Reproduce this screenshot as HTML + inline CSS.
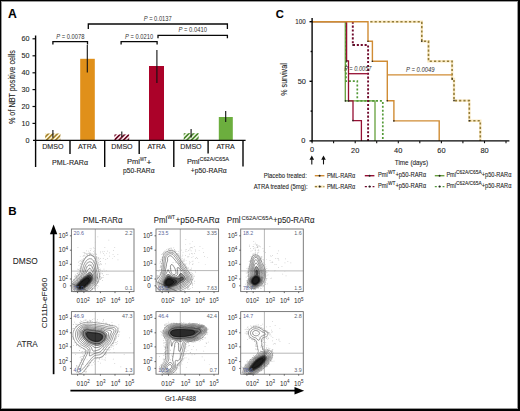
<!DOCTYPE html>
<html><head><meta charset="utf-8">
<style>
html,body{margin:0;padding:0;background:#fff;}
body{width:520px;height:411px;overflow:hidden;position:relative;}
#fig{position:absolute;left:0;top:0;width:520px;height:411px;}
text{font-family:"Liberation Sans",sans-serif;}
#panelA text,#panelC text{stroke:#2a2a2a;stroke-width:0.1px;}
#panelA .pv text,#panelC .pv text{stroke-width:0;fill:#333;}
.bt text{stroke:#2a2a2a;stroke-width:0.06px;}
</style></head><body>
<svg id="fig" width="520" height="411" viewBox="0 0 520 411">
<defs>
<pattern id="hO" patternUnits="userSpaceOnUse" width="3.2" height="3.2" patternTransform="rotate(45)">
<rect width="3.2" height="3.2" fill="#fdf3d2"/><rect width="1.6" height="3.2" fill="#a4822c"/></pattern>
<pattern id="hR" patternUnits="userSpaceOnUse" width="3.2" height="3.2" patternTransform="rotate(45)">
<rect width="3.2" height="3.2" fill="#fbe6ea"/><rect width="1.6" height="3.2" fill="#6c0c26"/></pattern>
<pattern id="hG" patternUnits="userSpaceOnUse" width="3.2" height="3.2" patternTransform="rotate(45)">
<rect width="3.2" height="3.2" fill="#ebf5e0"/><rect width="1.6" height="3.2" fill="#4e8a30"/></pattern>
</defs>
<rect x="0" y="0" width="520" height="411" fill="#fff"/>

<!-- ================= PANEL A ================= -->
<g id="panelA">
<text x="8" y="18" font-size="12.2" font-weight="bold" fill="#000">A</text>
<!-- y label -->
<text transform="translate(14.6,87.1) rotate(-90)" text-anchor="middle" font-size="8.6" fill="#222" textLength="74" lengthAdjust="spacingAndGlyphs">% of NBT positive cells</text>
<!-- tick labels -->
<g font-size="7.2" fill="#222" text-anchor="end">
<text x="29.6" y="41.3">60</text>
<text x="29.6" y="58.3">50</text>
<text x="29.6" y="75.3">40</text>
<text x="29.6" y="92.1">30</text>
<text x="29.6" y="109">20</text>
<text x="29.6" y="125.9">10</text>
<text x="29.6" y="142.8">0</text>
</g>
<g stroke="#111" stroke-width="1.2">
<line x1="32.5" y1="38.8" x2="35.5" y2="38.8"/>
<line x1="32.5" y1="55.8" x2="35.5" y2="55.8"/>
<line x1="32.5" y1="72.8" x2="35.5" y2="72.8"/>
<line x1="32.5" y1="89.6" x2="35.5" y2="89.6"/>
<line x1="32.5" y1="106.5" x2="35.5" y2="106.5"/>
<line x1="32.5" y1="123.4" x2="35.5" y2="123.4"/>
</g>
<!-- bars -->
<rect x="45.2" y="133.5" width="15.2" height="7" fill="url(#hO)"/>
<rect x="80.2" y="58.8" width="14.6" height="81.6" fill="#e0901a"/>
<rect x="114.4" y="134.4" width="14.8" height="6" fill="url(#hR)"/>
<rect x="149" y="66" width="15" height="74.4" fill="#ab0229"/>
<rect x="183.7" y="133.2" width="15" height="7.2" fill="url(#hG)"/>
<rect x="218.8" y="117" width="14" height="23.4" fill="#6cae3e"/>
<!-- error bars -->
<g stroke="#111" stroke-width="1.1">
<line x1="52.9" y1="130.1" x2="52.9" y2="137.7"/>
<line x1="87.3" y1="45" x2="87.3" y2="72.6"/>
<line x1="121.8" y1="131.6" x2="121.8" y2="137"/>
<line x1="156.9" y1="49.9" x2="156.9" y2="83.1"/>
<line x1="191.1" y1="129" x2="191.1" y2="137.5"/>
<line x1="225.7" y1="111.1" x2="225.7" y2="122.1"/>
</g>
<!-- axes -->
<g stroke="#050505" stroke-width="1.4" fill="none">
<line x1="35.6" y1="35.5" x2="35.6" y2="167"/>
<line x1="33" y1="140.4" x2="245.6" y2="140.4"/>
<line x1="70" y1="140.4" x2="70" y2="154"/>
<line x1="104.7" y1="140.4" x2="104.7" y2="167"/>
<line x1="139.2" y1="140.4" x2="139.2" y2="154"/>
<line x1="173.8" y1="140.4" x2="173.8" y2="167"/>
<line x1="208.1" y1="140.4" x2="208.1" y2="153.5"/>
<line x1="243" y1="140.4" x2="243" y2="166.5"/>
</g>
<!-- brackets -->
<g stroke="#080808" stroke-width="1.3" fill="none">
<polyline points="52.9,44.6 52.9,41.6 87.5,41.6 87.5,44.6"/>
<polyline points="88.3,28.9 88.3,24 227.4,24 227.4,28.9"/>
<polyline points="121.1,44.5 121.1,41.6 157.1,41.6 157.1,44.5"/>
<polyline points="158,38.3 158,35.4 227.4,35.4 227.4,38.3"/>
</g>
<g class="pv" font-size="6.4" fill="#222">
<text x="56.2" y="39" textLength="28.3" lengthAdjust="spacingAndGlyphs"><tspan font-style="italic">P</tspan> = 0.0078</text>
<text x="143.7" y="21.1" textLength="28" lengthAdjust="spacingAndGlyphs"><tspan font-style="italic">P</tspan> = 0.0137</text>
<text x="125.1" y="38.8" textLength="28" lengthAdjust="spacingAndGlyphs"><tspan font-style="italic">P</tspan> = 0.0210</text>
<text x="178.4" y="32" textLength="28.6" lengthAdjust="spacingAndGlyphs"><tspan font-style="italic">P</tspan> = 0.0410</text>
</g>
<!-- category labels -->
<g font-size="7.1" fill="#222" text-anchor="middle">
<text x="52.9" y="149.1">DMSO</text>
<text x="87.3" y="149.1">ATRA</text>
<text x="122" y="149.1">DMSO</text>
<text x="156.6" y="149.1">ATRA</text>
<text x="191" y="149.1">DMSO</text>
<text x="225.6" y="149.1">ATRA</text>
<text x="70" y="164.6">PML-RARα</text>
</g>
<g font-size="7.1" fill="#222">
<text x="126.9" y="164.4" textLength="13" lengthAdjust="spacingAndGlyphs">Pml</text>
<text x="139.9" y="161.4" font-size="5.2" textLength="6.6" lengthAdjust="spacingAndGlyphs">WT</text>
<text x="146.4" y="164.8" textLength="5" lengthAdjust="spacingAndGlyphs">+</text>
<text x="123" y="172.9" textLength="31.6" lengthAdjust="spacingAndGlyphs">p50-RARα</text>
<text x="186.9" y="164.4" textLength="12.6" lengthAdjust="spacingAndGlyphs">Pml</text>
<text x="199.4" y="161.2" font-size="5.4" textLength="29.6" lengthAdjust="spacingAndGlyphs">C62A/C65A</text>
<text x="190.8" y="172.6" textLength="36" lengthAdjust="spacingAndGlyphs">+p50-RARα</text>
</g>
</g>

<!-- ================= PANEL C ================= -->
<g id="panelC">
<text x="275.8" y="18.3" font-size="11.2" font-weight="bold" fill="#000">C</text>
<text transform="translate(287.3,79.5) rotate(-90)" text-anchor="middle" font-size="8.6" fill="#222" textLength="32.5" lengthAdjust="spacingAndGlyphs">% survival</text>
<g font-size="7.4" fill="#222" text-anchor="end">
<text x="305.6" y="24.3" textLength="10.3" lengthAdjust="spacingAndGlyphs">100</text>
<text x="305.9" y="83.9">50</text>
<text x="305.4" y="142.6">0</text>
</g>
<g font-size="7.4" fill="#222" text-anchor="middle">
<text x="312.1" y="151.8">0</text>
<text x="355.2" y="152.5">20</text>
<text x="398.2" y="152.5">40</text>
<text x="441.4" y="152.5">60</text>
<text x="484.5" y="152.5">80</text>
</g>
<text x="394.8" y="164.6" font-size="8" fill="#222" textLength="33.2" lengthAdjust="spacingAndGlyphs">Time (days)</text>
<!-- curves -->
<g fill="none" stroke-width="1.3" stroke-linejoin="miter">
<path d="M312.1,21.7 H345.3 V100.9 H375 V140.9" stroke="#66a03c"/>
<path d="M346,21.7 V81.2 H357.3 V100.9 H382.8 V140.9" stroke="#549a38" stroke-dasharray="2 1.9" stroke-width="1.7"/>
<path d="M312.1,21.7 H346.6 V60.8 H348.5 V100.9 H353 V120.6 H361.4 V140.9" stroke="#960f33"/>
<path d="M352.8,21.7 V45 H368.1 V140.9" stroke="#700a2c" stroke-dasharray="2.1 1.8" stroke-width="1.9"/>
<path d="M348.5,73.7 H368.1" stroke="#960f33"/>
<path d="M312.1,21.7 H368 V41.3 H372.4 V61.3 H387.3 V100.8 H393.9 V120.9 H439.2 V140.9" stroke="#d08c34" stroke-width="1.4"/>
<path d="M370.3,21.7 H421.8 V41.2 H428.5 V61.2 H452.1 V79 H454 V100.6 H469.3 V120.8 H480.3 V140.9" stroke="#f2c45c" stroke-opacity="0.38" stroke-width="2.4"/>
<path d="M370.3,21.7 H421.8 V41.2 H428.5 V61.2 H452.1 V79 H454 V100.6 H469.3 V120.8 H480.3 V140.9" stroke="#927c3a" stroke-dasharray="2.2 2.1" stroke-width="1.6"/>
<path d="M387.3,74.9 H452.1" stroke="#d08c34" stroke-width="1.4"/>
</g>
<g fill="#222">
<circle cx="346.7" cy="61" r="0.8"/><circle cx="348.6" cy="100.9" r="0.8"/><circle cx="353" cy="120.6" r="0.8"/>
<circle cx="345.5" cy="100.9" r="0.8"/><circle cx="368" cy="41.3" r="0.8"/><circle cx="372.4" cy="61.3" r="0.8"/>
<circle cx="387.3" cy="100.8" r="0.8"/><circle cx="393.9" cy="120.9" r="0.8"/>
<circle cx="421.8" cy="41.2" r="0.8"/><circle cx="454" cy="100.6" r="0.8"/><circle cx="452.3" cy="79" r="0.8"/><circle cx="469.3" cy="120.8" r="0.8"/>
<circle cx="352.8" cy="45" r="0.8"/>
</g>
<!-- axes -->
<g stroke="#050505" stroke-width="1.4" fill="none">
<line x1="312.1" y1="18" x2="312.1" y2="141.5"/>
<line x1="311.5" y1="140.9" x2="509.4" y2="140.9"/>
<line x1="309.5" y1="21.7" x2="312.1" y2="21.7"/>
<line x1="309.5" y1="81.3" x2="312.1" y2="81.3"/>
<line x1="309.5" y1="140.9" x2="312.1" y2="140.9"/>
<line x1="310.6" y1="51.5" x2="312.1" y2="51.5"/>
<line x1="310.6" y1="111.1" x2="312.1" y2="111.1"/>
</g>
<g stroke="#111" stroke-width="1.1">
<line x1="312.1" y1="140.9" x2="312.1" y2="143.2"/>
<line x1="333.6" y1="140.9" x2="333.6" y2="143.2"/>
<line x1="355.2" y1="140.9" x2="355.2" y2="143.2"/>
<line x1="376.7" y1="140.9" x2="376.7" y2="143.2"/>
<line x1="398.3" y1="140.9" x2="398.3" y2="143.2"/>
<line x1="419.8" y1="140.9" x2="419.8" y2="143.2"/>
<line x1="441.4" y1="140.9" x2="441.4" y2="143.2"/>
<line x1="462.9" y1="140.9" x2="462.9" y2="143.2"/>
<line x1="484.5" y1="140.9" x2="484.5" y2="143.2"/>
<line x1="506" y1="140.9" x2="506" y2="143.2"/>
</g>
<g class="pv" font-size="6.4" fill="#222">
<text x="344.2" y="70.9" font-style="italic" fill="#3a3a3a" textLength="27.3" lengthAdjust="spacingAndGlyphs">P = 0.0057</text>
<text x="406" y="71.8" font-style="italic" fill="#3a3a3a" textLength="28.6" lengthAdjust="spacingAndGlyphs">P = 0.0049</text>
</g>
<!-- arrows -->
<g stroke="#111" stroke-width="1.1" fill="#111">
<line x1="311.8" y1="158" x2="311.8" y2="164.4"/>
<line x1="323.5" y1="158" x2="323.5" y2="164.4"/>
<path d="M311.8,155.6 L309.5,159.8 L314.1,159.8Z" stroke="none"/>
<path d="M323.5,155.6 L321.2,159.8 L325.8,159.8Z" stroke="none"/>
</g>
<!-- legend -->
<g font-size="7.2" fill="#222">
<text x="263.8" y="177.9" textLength="43" lengthAdjust="spacingAndGlyphs">Placebo treated:</text>
<text x="253.8" y="189.1" textLength="53.8" lengthAdjust="spacingAndGlyphs">ATRA treated (5mg):</text>
<text x="326.9" y="178" textLength="28.3" lengthAdjust="spacingAndGlyphs">PML-RARα</text>
<text x="326.9" y="189" textLength="28.3" lengthAdjust="spacingAndGlyphs">PML-RARα</text>
<text x="378" y="177.4" textLength="9.8" lengthAdjust="spacingAndGlyphs">Pml</text>
<text x="387.9" y="174.3" font-size="5" textLength="7.4" lengthAdjust="spacingAndGlyphs">WT</text>
<text x="395.4" y="177.4" textLength="30.8" lengthAdjust="spacingAndGlyphs">+p50-RARα</text>
<text x="378" y="188.3" textLength="9.8" lengthAdjust="spacingAndGlyphs">Pml</text>
<text x="387.9" y="185.2" font-size="5" textLength="7.4" lengthAdjust="spacingAndGlyphs">WT</text>
<text x="395.4" y="188.3" textLength="30.8" lengthAdjust="spacingAndGlyphs">+p50-RARα</text>
<text x="446.4" y="177.4" textLength="9.6" lengthAdjust="spacingAndGlyphs">Pml</text>
<text x="456.1" y="174.3" font-size="5" textLength="25.6" lengthAdjust="spacingAndGlyphs">C62A/C65A</text>
<text x="481.8" y="177.4" textLength="29.6" lengthAdjust="spacingAndGlyphs">+p50-RARα</text>
<text x="446.4" y="188.3" textLength="9.6" lengthAdjust="spacingAndGlyphs">Pml</text>
<text x="456.1" y="185.2" font-size="5" textLength="25.6" lengthAdjust="spacingAndGlyphs">C62A/C65A</text>
<text x="481.8" y="188.3" textLength="29.6" lengthAdjust="spacingAndGlyphs">+p50-RARα</text>
</g>
<g fill="none" stroke-width="1.4">
<line x1="314.8" y1="175.7" x2="324.4" y2="175.7" stroke="#d08c34"/>
<line x1="364.8" y1="175.7" x2="374.4" y2="175.7" stroke="#960f33"/>
<line x1="434.8" y1="175.7" x2="444.4" y2="175.7" stroke="#6aa040"/>
<line x1="314.8" y1="186.6" x2="324.4" y2="186.6" stroke="#f2c45c" stroke-opacity="0.38" stroke-width="2.4"/>
<line x1="314.8" y1="186.6" x2="324.4" y2="186.6" stroke="#927c3a" stroke-dasharray="2.2 2.1"/>
<line x1="364.8" y1="186.6" x2="374.4" y2="186.6" stroke="#700a2c" stroke-dasharray="2.1 1.8"/>
<line x1="434.8" y1="186.6" x2="444.4" y2="186.6" stroke="#549a38" stroke-dasharray="2 1.9"/>
</g>
<g fill="#222">
<circle cx="319.6" cy="175.7" r="1"/><circle cx="369.6" cy="175.7" r="1"/><circle cx="439.6" cy="175.7" r="1"/>
<circle cx="319.6" cy="186.6" r="1"/><circle cx="369.6" cy="186.6" r="1"/><circle cx="439.6" cy="186.6" r="1"/>
</g>
</g>

<!--B-START-->
<g id="panelB">
<text x="8.3" y="215.2" font-size="11.6" font-weight="bold" fill="#000">B</text>
<g class="bt">
<g font-size="8.4" fill="#222">
<text x="83" y="223" textLength="39.4" lengthAdjust="spacingAndGlyphs">PML-RARα</text>
<text x="153.8" y="223" textLength="13.4" lengthAdjust="spacingAndGlyphs">Pml</text>
<text x="167.4" y="219.3" font-size="5.6" textLength="7.8" lengthAdjust="spacingAndGlyphs">WT</text>
<text x="175.5" y="223" textLength="44" lengthAdjust="spacingAndGlyphs">+p50-RARα</text>
<text x="226.8" y="223" textLength="13.8" lengthAdjust="spacingAndGlyphs">Pml</text>
<text x="241.4" y="219.5" font-size="5.6" textLength="31.2" lengthAdjust="spacingAndGlyphs">C62A/C65A</text>
<text x="272.9" y="223" textLength="41.7" lengthAdjust="spacingAndGlyphs">+p50-RARα</text>
</g>
<g font-size="8.5" fill="#222">
<text x="12.8" y="264.2" textLength="25" lengthAdjust="spacingAndGlyphs">DMSO</text>
<text x="16.7" y="346.8" textLength="21.1" lengthAdjust="spacingAndGlyphs">ATRA</text>
</g>
<text transform="translate(46.7,303.1) rotate(-90)" text-anchor="middle" font-size="8" fill="#222" textLength="50.5" lengthAdjust="spacingAndGlyphs">CD11b-eF660</text>
<text x="165" y="401.3" font-size="7.6" fill="#222" textLength="31" lengthAdjust="spacingAndGlyphs">Gr1-AF488</text>
</g>
<line x1="53.6" y1="232" x2="53.6" y2="374.2" stroke="#000" stroke-width="1.7"/>
<path d="M53.6,224.6 L49.9,234.3 L57.3,234.3 Z" fill="#000"/>
<line x1="70.4" y1="390.7" x2="297" y2="390.7" stroke="#000" stroke-width="1.8"/>
<path d="M304.2,390.7 L294.5,387 L294.5,394.4 Z" fill="#000"/>
<g>
<line x1="95.3" y1="229" x2="95.3" y2="291.6" stroke="#999" stroke-width="0.7"/>
<line x1="71.4" y1="271.1" x2="134" y2="271.1" stroke="#999" stroke-width="0.7"/>
<path d="M79.9 270.3h.7v.7h-.7zM100 272.9h.7v.7h-.7zM92 289.3h.7v.7h-.7zM101.7 273.2h.7v.7h-.7zM84.6 255.4h.7v.7h-.7zM77.7 274h.7v.7h-.7zM99.4 271.5h.7v.7h-.7zM74.4 276h.7v.7h-.7zM103 275.3h.7v.7h-.7zM101.7 269.9h.7v.7h-.7zM88.8 255.2h.7v.7h-.7zM79.1 273.7h.7v.7h-.7zM93 247.6h.7v.7h-.7zM101.7 277.1h.7v.7h-.7zM81.6 261.3h.7v.7h-.7zM90.8 248.5h.7v.7h-.7zM79.7 270h.7v.7h-.7zM91.1 253.8h.7v.7h-.7zM97.2 281.7h.7v.7h-.7zM94.6 288.5h.7v.7h-.7zM76.9 273.4h.7v.7h-.7zM97.4 267.8h.7v.7h-.7zM81.8 264.4h.7v.7h-.7zM100 279h.7v.7h-.7zM74.7 276.9h.7v.7h-.7zM98.3 268.8h.7v.7h-.7zM96.4 258.4h.7v.7h-.7zM79.6 270.6h.7v.7h-.7zM89 254.6h.7v.7h-.7zM85.2 257.2h.7v.7h-.7zM99.7 274.8h.7v.7h-.7zM96.9 285.2h.7v.7h-.7zM101 278.1h.7v.7h-.7zM96.6 258.3h.7v.7h-.7zM96.5 263.6h.7v.7h-.7zM80.5 268.6h.7v.7h-.7zM95 257.4h.7v.7h-.7zM93.3 254.2h.7v.7h-.7zM83.6 259.7h.7v.7h-.7zM79.3 270h.7v.7h-.7zM84.1 257.9h.7v.7h-.7zM89.9 253.4h.7v.7h-.7zM77.5 273.3h.7v.7h-.7zM99.3 269.2h.7v.7h-.7zM82.7 256.1h.7v.7h-.7zM96.7 283.2h.7v.7h-.7zM73.7 279.5h.7v.7h-.7zM100.9 277.7h.7v.7h-.7zM100 277.9h.7v.7h-.7zM82.7 261.6h.7v.7h-.7zM98.4 259.7h.7v.7h-.7zM91 255.1h.7v.7h-.7zM82.8 261.4h.7v.7h-.7zM99.4 278.9h.7v.7h-.7zM80.6 268.4h.7v.7h-.7zM99.3 272.9h.7v.7h-.7zM80.6 268.8h.7v.7h-.7zM99 276.5h.7v.7h-.7zM86.4 256h.7v.7h-.7zM88.7 253.3h.7v.7h-.7zM92.1 288.4h.7v.7h-.7zM89.7 253.8h.7v.7h-.7zM90.6 253.7h.7v.7h-.7zM98.7 271.1h.7v.7h-.7zM83.2 260h.7v.7h-.7zM102.8 277.1h.7v.7h-.7zM101.1 277.6h.7v.7h-.7zM79 270.5h.7v.7h-.7zM76.2 276h.7v.7h-.7zM97.1 260.8h.7v.7h-.7zM77 268.8h.7v.7h-.7zM99 276.8h.7v.7h-.7zM85 257h.7v.7h-.7zM85.4 257.3h.7v.7h-.7zM99.4 269h.7v.7h-.7zM82.9 260.2h.7v.7h-.7zM89.9 253.1h.7v.7h-.7zM94.2 288h.7v.7h-.7zM96.1 260.8h.7v.7h-.7zM96.3 285.3h.7v.7h-.7zM77.8 272.3h.7v.7h-.7zM92.6 287.9h.7v.7h-.7zM96.5 257.7h.7v.7h-.7zM79.5 260.7h.7v.7h-.7zM96.7 264.5h.7v.7h-.7zM96.1 253.7h.7v.7h-.7zM99.7 278.8h.7v.7h-.7zM100.6 271.9h.7v.7h-.7zM94 253.7h.7v.7h-.7zM89.4 252.6h.7v.7h-.7zM94.9 258.6h.7v.7h-.7zM81.5 262.7h.7v.7h-.7zM90 252.8h.7v.7h-.7zM96.2 259.3h.7v.7h-.7zM94.7 253.1h.7v.7h-.7zM94.5 256.9h.7v.7h-.7zM98.1 258h.7v.7h-.7zM85.6 256.3h.7v.7h-.7zM92.3 288.9h.7v.7h-.7zM93.4 256.3h.7v.7h-.7zM95.9 256.4h.7v.7h-.7zM95.2 253h.7v.7h-.7zM99.1 277.1h.7v.7h-.7zM94 287.5h.7v.7h-.7zM85.6 253.4h.7v.7h-.7zM79.3 270.7h.7v.7h-.7zM98 281.8h.7v.7h-.7zM80.6 267.5h.7v.7h-.7zM83.3 260h.7v.7h-.7zM96.3 254h.7v.7h-.7zM96.5 262.3h.7v.7h-.7zM92.8 255.7h.7v.7h-.7zM78.6 265h.7v.7h-.7zM92 254.8h.7v.7h-.7zM80.2 271.5h.7v.7h-.7zM83.6 259.6h.7v.7h-.7zM78.8 274.3h.7v.7h-.7zM98.3 263.7h.7v.7h-.7zM96.4 257.1h.7v.7h-.7zM82.1 262.6h.7v.7h-.7zM95.5 257.8h.7v.7h-.7zM93.2 255.6h.7v.7h-.7zM86.7 255.6h.7v.7h-.7zM78.3 261.8h.7v.7h-.7zM79 271.8h.7v.7h-.7zM95 286h.7v.7h-.7zM94.1 252.4h.7v.7h-.7zM92.5 288.2h.7v.7h-.7zM87.3 254.2h.7v.7h-.7zM76.9 273.2h.7v.7h-.7zM98.6 281.7h.7v.7h-.7zM97.4 259.6h.7v.7h-.7zM76.8 275.3h.7v.7h-.7zM97.9 267.8h.7v.7h-.7zM84.9 257.8h.7v.7h-.7zM86.2 250.6h.7v.7h-.7zM99.7 274.1h.7v.7h-.7zM83 255.1h.7v.7h-.7zM82.1 260.8h.7v.7h-.7zM74.7 276.2h.7v.7h-.7zM97.2 287.6h.7v.7h-.7zM79.7 270.9h.7v.7h-.7zM94.4 288.2h.7v.7h-.7zM86.1 256.6h.7v.7h-.7zM98.1 262.6h.7v.7h-.7zM94.5 287.7h.7v.7h-.7zM98.4 285.7h.7v.7h-.7zM94.9 285.4h.7v.7h-.7zM96.7 264.3h.7v.7h-.7zM76.1 275.2h.7v.7h-.7zM84.3 253.5h.7v.7h-.7zM95.8 256.7h.7v.7h-.7zM78.4 274.3h.7v.7h-.7zM77 275.3h.7v.7h-.7zM100.3 276.3h.7v.7h-.7zM89.7 247.9h.7v.7h-.7zM95.1 285.2h.7v.7h-.7zM80.4 263.3h.7v.7h-.7zM80.9 261.6h.7v.7h-.7zM100.3 261.1h.7v.7h-.7zM82.6 262.1h.7v.7h-.7zM81.6 259.6h.7v.7h-.7zM92.4 253.4h.7v.7h-.7zM75.3 274.6h.7v.7h-.7zM99.7 270.5h.7v.7h-.7zM90.6 289.8h.7v.7h-.7zM96.3 257.5h.7v.7h-.7zM98.6 267.1h.7v.7h-.7zM100 276.8h.7v.7h-.7zM99.3 271.3h.7v.7h-.7zM90.3 250.1h.7v.7h-.7zM84.1 255.6h.7v.7h-.7zM78.9 268.7h.7v.7h-.7zM76.1 276.7h.7v.7h-.7zM87.4 255.4h.7v.7h-.7zM97.2 264.7h.7v.7h-.7zM97.4 268h.7v.7h-.7zM87.6 253h.7v.7h-.7zM80.4 260.1h.7v.7h-.7zM78.1 269h.7v.7h-.7zM83.6 258.3h.7v.7h-.7zM92 255.5h.7v.7h-.7zM100.1 270h.7v.7h-.7zM95.2 259.6h.7v.7h-.7zM80.4 265.8h.7v.7h-.7zM98.3 267.5h.7v.7h-.7zM90.6 254.2h.7v.7h-.7zM97.8 281.1h.7v.7h-.7zM88.6 252.8h.7v.7h-.7zM90.3 290h.7v.7h-.7zM99.9 263.5h.7v.7h-.7zM80 263.3h.7v.7h-.7zM96 257.9h.7v.7h-.7zM87.5 255.1h.7v.7h-.7zM99 271.3h.7v.7h-.7zM76.7 276h.7v.7h-.7zM77.9 275h.7v.7h-.7zM80.1 266.6h.7v.7h-.7zM98.7 278.5h.7v.7h-.7zM100.3 268.8h.7v.7h-.7zM98.9 258.9h.7v.7h-.7zM98.5 267h.7v.7h-.7zM90.2 254h.7v.7h-.7zM94.8 288h.7v.7h-.7zM86.1 254h.7v.7h-.7zM98.4 280.9h.7v.7h-.7zM99.9 272.8h.7v.7h-.7zM91 289.7h.7v.7h-.7zM79.7 263.6h.7v.7h-.7zM84 252.2h.7v.7h-.7zM97.2 283h.7v.7h-.7zM73.3 279.3h.7v.7h-.7zM102.3 273.5h.7v.7h-.7zM86.5 253.2h.7v.7h-.7zM94.2 250.5h.7v.7h-.7zM88.4 250.7h.7v.7h-.7zM77.7 272.6h.7v.7h-.7zM100 279.2h.7v.7h-.7zM80.7 264.5h.7v.7h-.7zM99 275.8h.7v.7h-.7zM100.3 268.9h.7v.7h-.7zM81.2 263.8h.7v.7h-.7zM98.3 280.9h.7v.7h-.7zM98.6 280h.7v.7h-.7zM93 256h.7v.7h-.7zM95.1 288h.7v.7h-.7zM83.3 258.6h.7v.7h-.7zM95.1 255.6h.7v.7h-.7zM92.5 253.4h.7v.7h-.7zM97.6 265.3h.7v.7h-.7zM81.8 264.3h.7v.7h-.7zM81.9 262.9h.7v.7h-.7zM91.7 254.8h.7v.7h-.7zM91.6 289.5h.7v.7h-.7zM98.8 273.5h.7v.7h-.7zM80.4 267h.7v.7h-.7zM94.6 288.8h.7v.7h-.7zM93.4 251.3h.7v.7h-.7zM82.2 260.4h.7v.7h-.7zM99.7 261.2h.7v.7h-.7zM76.7 273.4h.7v.7h-.7zM95.4 284.9h.7v.7h-.7zM76.5 276.6h.7v.7h-.7zM98.9 271.3h.7v.7h-.7zM75.3 277.8h.7v.7h-.7zM97 282.5h.7v.7h-.7zM95.9 284.2h.7v.7h-.7zM79.9 268.2h.7v.7h-.7zM83.2 260h.7v.7h-.7zM83.9 259.1h.7v.7h-.7zM88.9 253.6h.7v.7h-.7zM74.1 278.9h.7v.7h-.7zM81.9 259.4h.7v.7h-.7zM74.8 275.6h.7v.7h-.7zM95.8 285.7h.7v.7h-.7zM99.4 264.8h.7v.7h-.7zM100.6 263.6h.7v.7h-.7zM98.6 266.9h.7v.7h-.7zM97.5 281.2h.7v.7h-.7zM98 266.4h.7v.7h-.7zM108.5 239.8h.7v.7h-.7zM90.1 270h.7v.7h-.7zM85.7 262.6h.7v.7h-.7zM91.1 267.4h.7v.7h-.7zM97.4 259.4h.7v.7h-.7zM107 258h.7v.7h-.7zM82.8 252.3h.7v.7h-.7zM97.6 261.7h.7v.7h-.7zM106.2 252.9h.7v.7h-.7zM82.8 277.5h.7v.7h-.7zM94.5 248.2h.7v.7h-.7zM93.5 255.8h.7v.7h-.7zM94.5 255.9h.7v.7h-.7zM94.9 241.7h.7v.7h-.7zM92.9 261.6h.7v.7h-.7zM91.5 273.9h.7v.7h-.7zM98.5 262.6h.7v.7h-.7zM94.5 260.3h.7v.7h-.7zM100 258.1h.7v.7h-.7zM92.6 262.3h.7v.7h-.7zM97.5 236.5h.7v.7h-.7zM94.1 269.8h.7v.7h-.7zM91.8 267.7h.7v.7h-.7zM106 269.9h.7v.7h-.7zM94.9 257.9h.7v.7h-.7zM94.6 268.9h.7v.7h-.7zM98.7 264.1h.7v.7h-.7zM97.8 257.1h.7v.7h-.7zM103.6 268.8h.7v.7h-.7zM79.9 256.4h.7v.7h-.7zM90.8 265h.7v.7h-.7zM100.2 252.5h.7v.7h-.7zM91.4 257.9h.7v.7h-.7zM98.5 257.7h.7v.7h-.7zM77.6 247.3h.7v.7h-.7zM89.1 266.7h.7v.7h-.7zM101 264h.7v.7h-.7zM94.7 285.6h.7v.7h-.7zM105.4 259.1h.7v.7h-.7zM85.8 266.7h.7v.7h-.7zM96 263.1h.7v.7h-.7zM94.9 260.7h.7v.7h-.7zM92.3 275.1h.7v.7h-.7zM107.7 274h.7v.7h-.7zM94 258.3h.7v.7h-.7zM102 251.6h.7v.7h-.7zM114.4 247.3h.7v.7h-.7zM95.2 254h.7v.7h-.7zM103.2 253.2h.7v.7h-.7zM117.5 254.3h.7v.7h-.7zM94 256.2h.7v.7h-.7zM104.4 254.7h.7v.7h-.7zM117.6 259.6h.7v.7h-.7zM109 252.6h.7v.7h-.7zM100 250.9h.7v.7h-.7zM104.5 247.2h.7v.7h-.7zM102.9 258h.7v.7h-.7zM104.5 270.7h.7v.7h-.7zM84.8 252.8h.7v.7h-.7zM112 257.9h.7v.7h-.7zM105.1 263.5h.7v.7h-.7zM95.5 259.6h.7v.7h-.7zM112.7 254.3h.7v.7h-.7zM109 255.7h.7v.7h-.7zM103.8 251.2h.7v.7h-.7zM113 250h.7v.7h-.7zM107.3 250.8h.7v.7h-.7zM102.1 271.3h.7v.7h-.7zM96.4 256.1h.7v.7h-.7zM113.9 256.3h.7v.7h-.7zM90.8 271.9h.7v.7h-.7zM97.5 278h.7v.7h-.7zM83.1 271.3h.7v.7h-.7zM106.4 274.1h.7v.7h-.7zM85.2 272.6h.7v.7h-.7zM76.9 289.3h.7v.7h-.7zM93.7 278.6h.7v.7h-.7zM88.9 268.6h.7v.7h-.7zM96.8 277h.7v.7h-.7zM94.8 268.5h.7v.7h-.7zM89.3 280.5h.7v.7h-.7zM99.8 273.1h.7v.7h-.7zM102 280.2h.7v.7h-.7zM82.2 273.3h.7v.7h-.7zM85.7 270.2h.7v.7h-.7zM87.6 276.3h.7v.7h-.7zM97.3 277h.7v.7h-.7zM97 266.1h.7v.7h-.7zM94.9 272.5h.7v.7h-.7zM91.3 264.4h.7v.7h-.7z" fill="#bcbcbc"/>
<polygon points="71.4,283.3 71.8,282.6 72.1,282.2 72.4,281.8 72.7,281.4 73,281 73.4,280.5 73.8,280 74.2,279.6 74.5,279.2 74.9,278.8 75.3,278.4 75.7,278 76.1,277.6 76.5,277.2 76.9,276.9 77.3,276.5 77.7,276.1 78.1,275.7 78.5,275.3 78.9,274.8 79.3,274.3 79.5,273.9 79.8,273.5 80.1,272.8 80.2,272.3 80.4,271.5 80.5,271.1 80.7,270.3 80.8,269.6 80.9,269.2 81,268.4 81.2,267.6 81.3,267.2 81.5,266.4 81.6,265.9 81.8,265.2 82,264.6 82.2,264 82.4,263.5 82.7,262.9 82.8,262.5 83.2,261.7 83.4,261.3 83.6,260.8 84,260.1 84.2,259.7 84.5,259.3 84.8,258.9 85.2,258.3 85.6,257.8 86,257.4 86.4,257 86.8,256.6 87.1,256.3 87.5,256 88,255.8 88.7,255.4 89.1,255.3 89.9,255.1 90.7,255.1 91.5,255.3 91.9,255.4 92.5,255.8 93.1,256.1 93.4,256.5 93.8,256.9 94.2,257.3 94.5,257.7 94.8,258.1 95,258.5 95.4,259.2 95.7,259.7 95.8,260.1 96.1,260.9 96.3,261.3 96.5,262.1 96.6,262.5 96.8,263.3 97,264 97.1,264.4 97.2,265.2 97.4,266 97.4,266.4 97.6,267.2 97.7,268 97.8,268.4 98,269.2 98.2,269.9 98.3,270.3 98.5,271.1 98.7,271.5 98.9,272.3 99,272.7 99.2,273.5 99.4,274.3 99.4,274.7 99.4,275.5 99.4,276.2 99.4,276.9 99.3,277.4 99.1,278.2 99,278.7 98.8,279.4 98.6,279.9 98.3,280.6 98.1,281 97.8,281.7 97.6,282.2 97.4,282.5 97,283.2 96.7,283.7 96.4,284.1 96.2,284.5 95.8,285.1 95.4,285.6 95,286.1 94.7,286.5 94.4,286.9 94.1,287.3 93.7,287.7 93.3,288.1 93,288.5 92.5,288.8 92.1,289.2 91.6,289.6 91.1,290 90.7,290.4 90.3,290.6 89.9,290.9 89.4,291.2 88.7,291.6" fill="none" stroke="#505050" stroke-width="0.5"/>
<polygon points="73.1,291.6 72.7,291.2 72.4,290.8 72.1,290.4 71.8,289.6 71.7,289.2 71.6,288.5 71.6,287.7 71.6,286.9 71.8,286.2 71.9,285.7 72.2,284.9 72.4,284.5 72.6,284.1 73,283.3 73.2,282.9 73.5,282.5 73.8,282.1 74.2,281.6 74.5,281.1 74.9,280.7 75.3,280.2 75.7,279.8 76.1,279.4 76.5,279 76.9,278.6 77.3,278.2 77.7,277.9 78.1,277.5 78.5,277.1 78.9,276.8 79.3,276.4 79.7,276 80.1,275.6 80.5,275.1 80.8,274.7 81.1,274.3 81.3,273.9 81.6,273.2 81.8,272.7 82,272.1 82.2,271.5 82.3,270.7 82.4,270.3 82.6,269.6 82.8,268.8 82.9,268.4 83.1,267.6 83.2,267.1 83.4,266.4 83.6,265.8 83.8,265.2 84,264.8 84.3,264 84.5,263.6 84.8,263.1 85.1,262.5 85.4,262.1 85.7,261.7 86,261.2 86.4,260.8 86.8,260.3 87.1,260 87.5,259.6 88,259.3 88.7,259 89.1,258.8 89.9,258.7 90.7,258.8 91.2,258.9 91.9,259.3 92.3,259.6 92.7,259.9 93.1,260.3 93.4,260.8 93.7,261.3 94,261.7 94.2,262.2 94.5,262.9 94.7,263.3 95,264 95.1,264.4 95.3,265.2 95.4,265.7 95.6,266.4 95.8,267.2 95.8,267.6 96,268.4 96.2,269.2 96.3,269.6 96.5,270.3 96.6,270.9 96.8,271.5 97,272.3 97.1,272.7 97.3,273.5 97.4,273.9 97.6,274.7 97.7,275.5 97.7,276.2 97.6,277 97.5,277.8 97.4,278.6 97.3,279 97,279.8 96.9,280.2 96.6,280.9 96.4,281.4 96.2,281.8 95.8,282.5 95.6,282.9 95.3,283.3 95,283.8 94.6,284.3 94.2,284.9 93.9,285.3 93.6,285.7 93.2,286.1 92.8,286.5 92.4,286.9 92,287.3 91.6,287.7 91.1,288.1 90.7,288.4 90.3,288.7 89.9,289 89.5,289.2 89,289.6 88.4,290 87.9,290.3 87.5,290.6 87.1,290.8 86.4,291.2 86,291.5" fill="none" stroke="#333333" stroke-width="0.5"/>
<polygon points="75.7,291.6 75,291.2 74.5,290.9 74.2,290.5 73.8,290.1 73.5,289.6 73.3,289.2 73,288.5 73,288 72.9,287.3 73,286.8 73.1,286.1 73.3,285.3 73.4,284.9 73.8,284.2 74,283.7 74.2,283.3 74.5,282.8 74.9,282.3 75.3,281.8 75.7,281.4 76,281 76.4,280.6 76.8,280.2 77.1,279.8 77.5,279.4 77.9,279 78.4,278.6 78.8,278.2 79.2,277.8 79.6,277.4 80.1,277 80.5,276.7 80.8,276.3 81.2,275.9 81.6,275.5 82,275.1 82.2,274.7 82.5,274.3 82.8,273.8 83.1,273.1 83.3,272.7 83.6,271.9 83.7,271.5 83.9,270.7 84,270.2 84.2,269.6 84.4,268.8 84.5,268.4 84.7,267.6 84.9,267.2 85.2,266.4 85.4,266 85.6,265.5 86,264.8 86.2,264.4 86.5,264 86.8,263.6 87.1,263.2 87.5,262.8 88,262.5 88.7,262.1 89.1,261.9 89.9,261.8 90.7,262 91.1,262.1 91.6,262.5 92,262.9 92.4,263.3 92.7,263.7 93.1,264.3 93.3,264.8 93.5,265.2 93.8,266 93.9,266.4 94.2,267.2 94.3,267.6 94.5,268.4 94.6,268.9 94.8,269.6 95,270.3 95.1,270.7 95.3,271.5 95.4,271.9 95.7,272.7 95.8,273.2 96,273.9 96.2,274.7 96.2,275.1 96.3,275.9 96.4,276.6 96.3,277.4 96.2,278.2 96.1,278.6 95.9,279.4 95.8,279.8 95.5,280.6 95.3,281 95,281.6 94.8,282.2 94.5,282.5 94.2,283 93.8,283.6 93.4,284.1 93.1,284.5 92.8,284.9 92.4,285.3 92,285.7 91.6,286.1 91.2,286.5 90.7,286.9 90.3,287.2 89.9,287.6 89.5,287.9 89.1,288.1 88.7,288.5 88.2,288.8 87.6,289.2 87.1,289.5 86.8,289.8 86.4,290.1 85.8,290.4 85.2,290.8 84.8,291 84.3,291.2 83.6,291.5" fill="none" stroke="#282828" stroke-width="0.5"/>
<polygon points="88.8,265.2 89.5,265 90.3,265.1 90.7,265.3 91.1,265.6 91.5,266 91.9,266.5 92.3,267.1 92.5,267.6 92.7,268 93,268.8 93.1,269.2 93.4,269.9 93.5,270.3 93.8,271.1 93.9,271.5 94.2,272.3 94.3,272.7 94.6,273.5 94.7,273.9 94.9,274.7 95,275.4 95.1,275.9 95.2,276.6 95.2,277.4 95.1,278.2 95,278.6 94.8,279.4 94.6,280 94.4,280.6 94.2,281 93.8,281.7 93.6,282.2 93.4,282.5 93.1,283 92.7,283.5 92.3,284 91.9,284.4 91.5,284.9 91.1,285.3 90.7,285.6 90.3,286 89.9,286.3 89.5,286.6 89.1,286.9 88.7,287.3 88.2,287.7 87.6,288.1 87.1,288.4 86.8,288.7 86.4,289 86,289.3 85.4,289.6 84.8,290 84.4,290.3 84,290.5 83.2,290.8 82.8,291 82,291.2 81.6,291.3 80.8,291.4 80.1,291.5 79.3,291.5 78.5,291.4 77.7,291.2 77.3,291.1 76.5,290.8 76.1,290.6 75.7,290.3 75.3,290 74.9,289.5 74.5,288.9 74.3,288.5 74.2,287.7 74.1,287.3 74.1,286.5 74.2,286.1 74.4,285.3 74.5,284.9 74.9,284.1 75.1,283.7 75.4,283.3 75.7,282.8 76.1,282.3 76.5,281.8 76.9,281.4 77.3,281 77.6,280.6 78,280.2 78.4,279.8 78.8,279.4 79.3,279 79.7,278.6 80.1,278.3 80.5,277.9 80.8,277.6 81.2,277.2 81.6,276.8 82,276.5 82.4,276.1 82.8,275.7 83.2,275.2 83.6,274.7 83.9,274.3 84.2,273.9 84.4,273.5 84.8,272.7 84.9,272.3 85.2,271.6 85.3,271.1 85.6,270.4 85.7,269.9 86,269.2 86.1,268.8 86.4,268.2 86.7,267.6 86.9,267.2 87.1,266.7 87.5,266.2 87.9,265.8 88.3,265.5 88.8,265.2" fill="none" stroke="#1f1f1f" stroke-width="0.5"/>
<polygon points="88.9,268.8 89.5,268.6 90.3,268.7 90.7,269 91.1,269.4 91.5,269.9 91.7,270.3 91.9,270.7 92.3,271.3 92.5,271.9 92.7,272.3 93.1,273 93.2,273.5 93.4,274 93.7,274.7 93.8,275.3 94,275.9 94.1,276.6 94.1,277.4 94,278.2 93.9,279 93.8,279.4 93.5,280.2 93.4,280.6 93.1,281.3 92.8,281.8 92.6,282.2 92.3,282.6 91.9,283.1 91.5,283.6 91.1,284 90.7,284.4 90.3,284.8 89.9,285.2 89.5,285.5 89.1,285.9 88.7,286.2 88.3,286.5 87.8,286.9 87.3,287.3 86.8,287.7 86.4,288 86,288.3 85.6,288.6 85.2,288.9 84.6,289.2 84,289.6 83.6,289.8 83.2,290 82.4,290.3 82,290.5 81.2,290.6 80.5,290.7 79.7,290.7 78.9,290.7 78.1,290.5 77.7,290.3 77,290 76.5,289.7 76.1,289.3 75.7,288.9 75.5,288.5 75.3,288.1 75.1,287.3 75.1,286.5 75.2,285.7 75.3,285.3 75.7,284.5 75.9,284.1 76.1,283.7 76.5,283.1 76.9,282.6 77.3,282.2 77.6,281.8 78,281.4 78.4,281 78.8,280.6 79.2,280.2 79.6,279.8 80,279.4 80.4,279 80.8,278.6 81.2,278.3 81.6,277.9 82,277.6 82.4,277.2 82.8,276.9 83.2,276.5 83.6,276.2 84,275.8 84.4,275.4 84.8,274.9 85.2,274.4 85.6,273.9 85.9,273.5 86.1,273.1 86.4,272.6 86.7,271.9 86.9,271.5 87.1,271.1 87.5,270.4 87.8,269.9 88.1,269.6 88.4,269.2 88.9,268.8" fill="none" stroke="#171717" stroke-width="0.5"/>
<polygon points="88.7,272.7 89.5,272.4 90.3,272.5 90.7,272.7 91.2,273.1 91.5,273.5 91.9,273.9 92.3,274.6 92.5,275.1 92.7,275.5 92.9,276.2 93,277 93,277.8 93,278.6 92.8,279.4 92.7,279.9 92.4,280.6 92.2,281 91.9,281.6 91.5,282.2 91.2,282.5 90.9,282.9 90.6,283.3 90.2,283.7 89.9,284.1 89.4,284.5 89,284.9 88.6,285.3 88.1,285.7 87.6,286.1 87.1,286.4 86.8,286.7 86.4,287.1 86,287.4 85.6,287.7 85.1,288.1 84.6,288.5 84,288.8 83.6,289.1 83.2,289.3 82.4,289.6 82,289.7 81.2,289.9 80.5,290 80.1,290 79.7,290 78.9,289.9 78.1,289.6 77.7,289.4 77.3,289.2 76.9,288.8 76.5,288.4 76.2,287.7 76.1,287.3 76,286.5 76.1,285.7 76.2,285.3 76.5,284.6 76.8,284.1 77,283.7 77.3,283.3 77.7,282.8 78.1,282.4 78.5,281.9 78.9,281.5 79.3,281.1 79.7,280.7 80.1,280.4 80.5,280 80.8,279.6 81.2,279.3 81.6,278.9 82,278.6 82.5,278.2 83,277.8 83.4,277.4 83.9,277 84.4,276.6 84.8,276.3 85.2,275.9 85.6,275.6 86,275.2 86.4,274.9 86.8,274.5 87.1,274.1 87.5,273.7 87.9,273.3 88.3,273 88.7,272.7" fill="rgba(0,0,0,0.42)" stroke="#101010" stroke-width="0.5"/>
<polygon points="88.6,275.1 89.1,274.9 89.9,274.9 90.3,275.1 90.9,275.5 91.2,275.9 91.5,276.3 91.8,277 91.9,277.6 91.9,278.2 91.9,278.9 91.8,279.4 91.5,280.2 91.4,280.6 91.1,281.2 90.7,281.8 90.5,282.2 90.2,282.5 89.9,282.9 89.5,283.3 89.1,283.7 88.7,284.1 88.3,284.5 87.8,284.9 87.3,285.3 86.9,285.7 86.4,286.1 86,286.4 85.6,286.7 85.2,287.1 84.8,287.4 84.4,287.7 83.9,288.1 83.3,288.5 82.8,288.7 82.4,288.9 81.6,289.1 81.2,289.2 80.5,289.3 79.7,289.3 79.3,289.2 78.5,288.9 78.1,288.7 77.7,288.4 77.3,287.9 77,287.3 76.9,286.8 76.9,286.1 77,285.7 77.2,284.9 77.4,284.5 77.7,284.1 78.1,283.5 78.5,283.1 78.9,282.6 79.3,282.2 79.7,281.8 80.1,281.4 80.5,281 80.8,280.6 81.2,280.3 81.6,279.9 82,279.6 82.4,279.3 82.8,278.9 83.2,278.6 83.7,278.2 84.2,277.8 84.8,277.4 85.2,277.1 85.6,276.8 86,276.6 86.4,276.2 87,275.9 87.5,275.5 87.9,275.3 88.6,275.1" fill="rgba(0,0,0,0.42)" stroke="#0a0a0a" stroke-width="0.5"/>
<polygon points="87.3,277 87.9,276.8 88.7,276.7 89.5,276.8 89.9,277 90.3,277.4 90.6,278.2 90.7,278.7 90.7,279.1 90.6,279.8 90.3,280.6 90.1,281 89.9,281.4 89.5,282 89.1,282.5 88.8,282.9 88.4,283.3 88,283.7 87.6,284.1 87.1,284.5 86.8,284.8 86.4,285.1 86,285.5 85.6,285.8 85.2,286.1 84.8,286.5 84.3,286.9 83.8,287.3 83.2,287.7 82.8,287.9 82.4,288.1 81.6,288.4 81.2,288.5 80.5,288.6 79.7,288.5 79.3,288.4 78.7,288.1 78.2,287.7 78,287.3 77.8,286.5 77.8,285.7 78.1,285 78.3,284.5 78.6,284.1 78.9,283.7 79.3,283.3 79.7,282.8 80.1,282.4 80.5,282 80.8,281.7 81.2,281.3 81.6,280.9 82,280.6 82.5,280.2 83,279.8 83.5,279.4 84,279 84.4,278.7 84.8,278.4 85.2,278.2 85.8,277.8 86.4,277.5 86.8,277.3 87.3,277" fill="rgba(0,0,0,0.42)" stroke="#050505" stroke-width="0.5"/>
<polygon points="86.3,278.6 86.8,278.4 87.5,278.2 88.3,278.3 89,278.6 89.2,279 89.3,279.8 89.2,280.6 89,281 88.7,281.5 88.3,282.1 88,282.5 87.6,282.9 87.3,283.3 86.8,283.7 86.4,284.1 86,284.5 85.6,284.8 85.2,285.1 84.8,285.5 84.4,285.8 84,286.2 83.6,286.5 83.1,286.9 82.5,287.3 82,287.5 81.6,287.7 80.8,287.8 80.1,287.8 79.7,287.6 79.2,287.3 78.9,286.9 78.7,286.1 78.9,285.3 79,284.9 79.3,284.5 79.7,284 80.1,283.5 80.5,283.1 80.8,282.7 81.2,282.3 81.6,282 82,281.6 82.4,281.2 82.8,280.9 83.2,280.6 83.7,280.2 84.2,279.8 84.8,279.4 85.2,279.2 85.6,279 86.3,278.6" fill="rgba(0,0,0,0.42)" stroke="#000000" stroke-width="0.5"/>
<rect x="71.4" y="229" width="62.6" height="62.6" fill="none" stroke="#6e6e6e" stroke-width="0.9"/>
<g font-size="5.3" fill="#5a6699">
<text x="73.6" y="235.3">20.6</text>
<text x="132.4" y="235.3" text-anchor="end" fill="#5a5f70">2.2</text>
<text x="73.6" y="289.6">77.0</text>
<text x="132.4" y="289.6" text-anchor="end" fill="#5a5f70">0.1</text>
</g>
<g font-size="6.3" fill="#2a2a2a" text-anchor="end">
<text x="68" y="237.8">10<tspan font-size="4.5" dy="-2.2">5</tspan></text>
<text x="68" y="252.2">10<tspan font-size="4.5" dy="-2.2">4</tspan></text>
<text x="68" y="266.3">10<tspan font-size="4.5" dy="-2.2">3</tspan></text>
<text x="68" y="281">10<tspan font-size="4.5" dy="-2.2">2</tspan></text>
<text x="66.2" y="287.9">0</text>
</g>
<line x1="69.9" y1="235.8" x2="71.4" y2="235.8" stroke="#444" stroke-width="0.8"/>
<line x1="69.9" y1="250.2" x2="71.4" y2="250.2" stroke="#444" stroke-width="0.8"/>
<line x1="69.9" y1="264.3" x2="71.4" y2="264.3" stroke="#444" stroke-width="0.8"/>
<line x1="69.9" y1="279" x2="71.4" y2="279" stroke="#444" stroke-width="0.8"/>
<line x1="69.9" y1="285.8" x2="71.4" y2="285.8" stroke="#444" stroke-width="0.8"/>
<g font-size="6.3" fill="#2a2a2a">
<text x="76.6" y="302.9">0</text>
<text x="80.3" y="302.9">10<tspan font-size="4.5" dy="-2.2">2</tspan></text>
<text x="96.1" y="302.9">10<tspan font-size="4.5" dy="-2.2">3</tspan></text>
<text x="110.7" y="302.9">10<tspan font-size="4.5" dy="-2.2">4</tspan></text>
<text x="124.7" y="302.9">10<tspan font-size="4.5" dy="-2.2">5</tspan></text>
</g>
<line x1="77.6" y1="291.6" x2="77.6" y2="293.1" stroke="#444" stroke-width="0.8"/>
<line x1="83.9" y1="291.6" x2="83.9" y2="293.1" stroke="#444" stroke-width="0.8"/>
<line x1="100.4" y1="291.6" x2="100.4" y2="293.1" stroke="#444" stroke-width="0.8"/>
<line x1="115" y1="291.6" x2="115" y2="293.1" stroke="#444" stroke-width="0.8"/>
<line x1="129.4" y1="291.6" x2="129.4" y2="293.1" stroke="#444" stroke-width="0.8"/>
</g>
<g>
<line x1="180.3" y1="229" x2="180.3" y2="291.6" stroke="#999" stroke-width="0.7"/>
<line x1="156" y1="270.6" x2="218.6" y2="270.6" stroke="#999" stroke-width="0.7"/>
<path d="M161.2 263.4h.7v.7h-.7zM191.8 276.1h.7v.7h-.7zM176.7 253.3h.7v.7h-.7zM187 269.7h.7v.7h-.7zM188.4 285.5h.7v.7h-.7zM190.7 283.5h.7v.7h-.7zM185.2 267h.7v.7h-.7zM161.3 269.1h.7v.7h-.7zM184.5 265.3h.7v.7h-.7zM181.9 260.4h.7v.7h-.7zM188.9 289.1h.7v.7h-.7zM188.7 269.2h.7v.7h-.7zM169.9 247.9h.7v.7h-.7zM192.3 280.4h.7v.7h-.7zM180.8 258.5h.7v.7h-.7zM188.2 271.3h.7v.7h-.7zM179.1 258.2h.7v.7h-.7zM187 288.1h.7v.7h-.7zM160.2 272.5h.7v.7h-.7zM190 284.4h.7v.7h-.7zM161.7 259.7h.7v.7h-.7zM185.7 263.5h.7v.7h-.7zM192.3 282.4h.7v.7h-.7zM171.7 250.1h.7v.7h-.7zM162.5 257h.7v.7h-.7zM161.8 266.6h.7v.7h-.7zM179 256.2h.7v.7h-.7zM181.1 260.5h.7v.7h-.7zM188.2 287.3h.7v.7h-.7zM157.5 275.2h.7v.7h-.7zM186.7 268.6h.7v.7h-.7zM162.1 260.3h.7v.7h-.7zM160.5 273.6h.7v.7h-.7zM158.4 277.2h.7v.7h-.7zM191.8 276.4h.7v.7h-.7zM156.9 277.9h.7v.7h-.7zM178 255.3h.7v.7h-.7zM168.3 249.1h.7v.7h-.7zM178.3 255.6h.7v.7h-.7zM191.9 283h.7v.7h-.7zM157.3 277.3h.7v.7h-.7zM176.8 254.4h.7v.7h-.7zM163.2 252.7h.7v.7h-.7zM170.7 247.4h.7v.7h-.7zM156.9 276h.7v.7h-.7zM191.5 275.1h.7v.7h-.7zM187.5 287.3h.7v.7h-.7zM158.7 275.2h.7v.7h-.7zM194 280.7h.7v.7h-.7zM192.3 274.7h.7v.7h-.7zM162.5 257.8h.7v.7h-.7zM158.4 270.7h.7v.7h-.7zM183 264h.7v.7h-.7zM187.6 289.1h.7v.7h-.7zM194.2 275.8h.7v.7h-.7zM169.4 250h.7v.7h-.7zM163.4 252.7h.7v.7h-.7zM185.1 265.4h.7v.7h-.7zM168.7 249.3h.7v.7h-.7zM189.3 272.1h.7v.7h-.7zM163.7 251.6h.7v.7h-.7zM179.5 258.2h.7v.7h-.7zM157.7 289.8h.7v.7h-.7zM162.2 260.6h.7v.7h-.7zM185.5 267.5h.7v.7h-.7zM192 287.3h.7v.7h-.7zM188.9 286.1h.7v.7h-.7zM156.7 275.8h.7v.7h-.7zM157.8 277.8h.7v.7h-.7zM167.3 250.8h.7v.7h-.7zM186.2 266.6h.7v.7h-.7zM160.4 261.8h.7v.7h-.7zM187.1 288h.7v.7h-.7zM177.9 251h.7v.7h-.7zM162.3 253.8h.7v.7h-.7zM184.1 263.7h.7v.7h-.7zM186.2 267.5h.7v.7h-.7zM188.6 272.1h.7v.7h-.7zM183.9 261.4h.7v.7h-.7zM172.4 250.7h.7v.7h-.7zM190.1 284.3h.7v.7h-.7zM157.6 277.1h.7v.7h-.7zM188 287.4h.7v.7h-.7zM184.1 290h.7v.7h-.7zM191.5 276.2h.7v.7h-.7zM188.2 285.7h.7v.7h-.7zM181.6 261h.7v.7h-.7zM175.8 251.3h.7v.7h-.7zM188.4 285.5h.7v.7h-.7zM159.5 273.7h.7v.7h-.7zM193.3 278.3h.7v.7h-.7zM166.4 249h.7v.7h-.7zM188 267.9h.7v.7h-.7zM159.9 271.9h.7v.7h-.7zM185.1 265.7h.7v.7h-.7zM185.3 264.3h.7v.7h-.7zM177.9 255.9h.7v.7h-.7zM161 263.3h.7v.7h-.7zM193.5 276.4h.7v.7h-.7zM192.5 279.2h.7v.7h-.7zM162.3 260h.7v.7h-.7zM191.1 281.6h.7v.7h-.7zM157.1 277.8h.7v.7h-.7zM187.3 286.4h.7v.7h-.7zM184.3 264.8h.7v.7h-.7zM177.4 253.4h.7v.7h-.7zM162.1 252.9h.7v.7h-.7zM173.2 249.9h.7v.7h-.7zM190.3 269h.7v.7h-.7zM189.8 272.1h.7v.7h-.7zM161.8 256.8h.7v.7h-.7zM184 263.6h.7v.7h-.7zM174.9 251.4h.7v.7h-.7zM192.3 279h.7v.7h-.7zM176.1 253.8h.7v.7h-.7zM175 252.2h.7v.7h-.7zM186 266.2h.7v.7h-.7zM181.6 261.6h.7v.7h-.7zM168.9 248h.7v.7h-.7zM162.8 255.9h.7v.7h-.7zM158.5 275.7h.7v.7h-.7zM175.2 251.9h.7v.7h-.7zM180.2 259.6h.7v.7h-.7zM163.4 254.2h.7v.7h-.7zM185.4 266.8h.7v.7h-.7zM161.5 268.5h.7v.7h-.7zM163.3 254.1h.7v.7h-.7zM176.3 253.1h.7v.7h-.7zM160.5 267.3h.7v.7h-.7zM162.6 257.1h.7v.7h-.7zM176 253h.7v.7h-.7zM190.7 274.3h.7v.7h-.7zM162 260.3h.7v.7h-.7zM168.3 249.6h.7v.7h-.7zM188.5 270.8h.7v.7h-.7zM164.7 252.7h.7v.7h-.7zM188.8 271.8h.7v.7h-.7zM169 250.5h.7v.7h-.7zM159.8 266.8h.7v.7h-.7zM179.2 257.3h.7v.7h-.7zM191.6 275.1h.7v.7h-.7zM161.3 263h.7v.7h-.7zM187.8 289.2h.7v.7h-.7zM192.1 284.8h.7v.7h-.7zM191.6 278.7h.7v.7h-.7zM159.5 269.4h.7v.7h-.7zM182.9 262.9h.7v.7h-.7zM161.4 269.1h.7v.7h-.7zM189.7 288h.7v.7h-.7zM189.1 272.9h.7v.7h-.7zM171.8 249.4h.7v.7h-.7zM171.3 248.1h.7v.7h-.7zM186.2 266.8h.7v.7h-.7zM160.3 266.1h.7v.7h-.7zM174.7 250.2h.7v.7h-.7zM158.2 289.7h.7v.7h-.7zM177.4 254.5h.7v.7h-.7zM180.4 257.2h.7v.7h-.7zM192.1 279h.7v.7h-.7zM192.8 274.6h.7v.7h-.7zM165 251.9h.7v.7h-.7zM177.4 254.4h.7v.7h-.7zM160.5 266.1h.7v.7h-.7zM174.5 251.4h.7v.7h-.7zM179.6 255.3h.7v.7h-.7zM182.7 289.9h.7v.7h-.7zM176.4 253.9h.7v.7h-.7zM166.6 251.2h.7v.7h-.7zM159.9 261h.7v.7h-.7zM176.7 254h.7v.7h-.7zM190.2 273.9h.7v.7h-.7zM175.7 253.2h.7v.7h-.7zM160 265.3h.7v.7h-.7zM164.6 251.8h.7v.7h-.7zM157.8 277.8h.7v.7h-.7zM180.8 259.4h.7v.7h-.7zM164.8 252.3h.7v.7h-.7zM173.4 247.6h.7v.7h-.7zM160.9 266.3h.7v.7h-.7zM191.3 272.6h.7v.7h-.7zM175.2 251.5h.7v.7h-.7zM167.8 248.5h.7v.7h-.7zM191.2 281.7h.7v.7h-.7zM174 249.5h.7v.7h-.7zM188.2 267.6h.7v.7h-.7zM174.1 248.9h.7v.7h-.7zM185.8 287.8h.7v.7h-.7zM162 256.8h.7v.7h-.7zM157.9 276.8h.7v.7h-.7zM160.4 260.9h.7v.7h-.7zM187.9 270.6h.7v.7h-.7zM193.9 283.4h.7v.7h-.7zM159.6 262.8h.7v.7h-.7zM181.9 262.4h.7v.7h-.7zM157.4 278.4h.7v.7h-.7zM185.4 288.7h.7v.7h-.7zM182.8 259.4h.7v.7h-.7zM183.4 262.9h.7v.7h-.7zM187.9 287.4h.7v.7h-.7zM164.8 251.1h.7v.7h-.7zM190.8 274.4h.7v.7h-.7zM161.3 270.1h.7v.7h-.7zM188.2 271.2h.7v.7h-.7zM163.4 252.1h.7v.7h-.7zM192.3 273.3h.7v.7h-.7zM169.7 248h.7v.7h-.7zM157.1 276.7h.7v.7h-.7zM185.1 264.9h.7v.7h-.7zM160.5 259.6h.7v.7h-.7zM192 283.8h.7v.7h-.7zM164.7 249.9h.7v.7h-.7zM191.8 276.6h.7v.7h-.7zM188.1 287.2h.7v.7h-.7zM161 254h.7v.7h-.7zM180.8 290h.7v.7h-.7zM185 265.6h.7v.7h-.7zM170.7 249h.7v.7h-.7zM162.3 259.1h.7v.7h-.7zM188.7 285.2h.7v.7h-.7zM190.9 269.6h.7v.7h-.7zM182.8 260.8h.7v.7h-.7zM187.8 270.8h.7v.7h-.7zM173.9 251.1h.7v.7h-.7zM157.6 289.2h.7v.7h-.7zM174.5 251.1h.7v.7h-.7zM191.9 276.9h.7v.7h-.7zM192.9 276.7h.7v.7h-.7zM178.4 256.8h.7v.7h-.7zM160.2 271.9h.7v.7h-.7zM191 282.7h.7v.7h-.7zM192 284.9h.7v.7h-.7zM188.1 286.9h.7v.7h-.7zM172.1 249.8h.7v.7h-.7zM187.5 288h.7v.7h-.7zM168.1 249.8h.7v.7h-.7zM185.9 267.7h.7v.7h-.7zM163.4 253.4h.7v.7h-.7zM160.8 269.3h.7v.7h-.7zM188.6 285.6h.7v.7h-.7zM194.4 280.9h.7v.7h-.7zM187.2 268.4h.7v.7h-.7zM156.8 275.5h.7v.7h-.7zM162.3 257.1h.7v.7h-.7zM159.3 275.7h.7v.7h-.7zM185.6 267.6h.7v.7h-.7zM187.1 286.6h.7v.7h-.7zM160.4 273.1h.7v.7h-.7zM187.8 269.9h.7v.7h-.7zM170.4 250.1h.7v.7h-.7zM178.2 254.7h.7v.7h-.7zM161.2 270.9h.7v.7h-.7zM182.1 262.6h.7v.7h-.7zM191.3 274.1h.7v.7h-.7zM161.7 265.2h.7v.7h-.7zM160.1 274.2h.7v.7h-.7zM165.9 250.7h.7v.7h-.7zM161.2 258.8h.7v.7h-.7zM189.5 273.3h.7v.7h-.7zM182.7 261.6h.7v.7h-.7zM161 272.6h.7v.7h-.7zM192.3 284.8h.7v.7h-.7zM189.6 243.6h.7v.7h-.7zM178.3 263h.7v.7h-.7zM178.7 267h.7v.7h-.7zM192.2 240.9h.7v.7h-.7zM190.8 250.5h.7v.7h-.7zM189.3 263.5h.7v.7h-.7zM182.4 254.8h.7v.7h-.7zM187.4 281.8h.7v.7h-.7zM182.3 258.4h.7v.7h-.7zM187.3 256.4h.7v.7h-.7zM191.1 267.8h.7v.7h-.7zM185.7 249.1h.7v.7h-.7zM184.3 258.8h.7v.7h-.7zM189.6 248.4h.7v.7h-.7zM175.5 262h.7v.7h-.7zM185.4 272.1h.7v.7h-.7zM195 271.9h.7v.7h-.7zM185.5 239h.7v.7h-.7zM185.8 249.4h.7v.7h-.7zM196 257h.7v.7h-.7zM187.6 256.8h.7v.7h-.7zM176.5 255.4h.7v.7h-.7zM190.2 279.5h.7v.7h-.7zM178.2 253.6h.7v.7h-.7zM183.8 264.4h.7v.7h-.7zM191.3 253.3h.7v.7h-.7zM185.4 272.4h.7v.7h-.7zM172.7 262.1h.7v.7h-.7zM182.7 252.4h.7v.7h-.7zM176.1 253.2h.7v.7h-.7zM189.6 249.6h.7v.7h-.7zM183.9 272.7h.7v.7h-.7zM169.8 268.1h.7v.7h-.7zM172 253.2h.7v.7h-.7zM188.5 256h.7v.7h-.7zM186.6 251.4h.7v.7h-.7zM182.4 262.5h.7v.7h-.7zM174.3 276.4h.7v.7h-.7zM185.8 259.9h.7v.7h-.7zM189 261.4h.7v.7h-.7zM186.9 267.6h.7v.7h-.7zM182.5 261.8h.7v.7h-.7zM190.4 247.1h.7v.7h-.7zM191.6 279.4h.7v.7h-.7zM191.5 257.2h.7v.7h-.7zM185 255.3h.7v.7h-.7zM189.7 262.2h.7v.7h-.7zM179.9 264.1h.7v.7h-.7zM192.2 264.3h.7v.7h-.7zM192.6 260.8h.7v.7h-.7zM183.7 260.2h.7v.7h-.7zM182.3 268.8h.7v.7h-.7zM185 244.4h.7v.7h-.7zM192.7 263.6h.7v.7h-.7zM192.8 255.9h.7v.7h-.7zM191.3 247.2h.7v.7h-.7zM188.3 250.3h.7v.7h-.7zM193.9 246.1h.7v.7h-.7zM202.5 248.4h.7v.7h-.7zM207.3 256.9h.7v.7h-.7zM180.9 249.7h.7v.7h-.7zM194.9 249.5h.7v.7h-.7zM197 258h.7v.7h-.7zM198.5 261.9h.7v.7h-.7zM204.9 264.4h.7v.7h-.7zM195.1 258.1h.7v.7h-.7zM189.3 253.7h.7v.7h-.7zM195 250.8h.7v.7h-.7zM198.8 249.9h.7v.7h-.7zM191.7 260.9h.7v.7h-.7zM192.1 253.5h.7v.7h-.7zM199.6 246.1h.7v.7h-.7zM181.7 256.4h.7v.7h-.7zM192 247.6h.7v.7h-.7zM194.9 271.5h.7v.7h-.7zM203.1 252.3h.7v.7h-.7zM185.2 250.8h.7v.7h-.7zM194.3 253h.7v.7h-.7zM204 256.3h.7v.7h-.7z" fill="#bcbcbc"/>
<polygon points="156,281.5 156.2,281 156.4,280.6 156.8,279.9 157.1,279.4 157.4,279 157.7,278.6 158,278.2 158.4,277.8 158.8,277.4 159.1,276.9 159.5,276.5 159.9,275.9 160.3,275.5 160.5,275.1 160.7,274.6 161,273.9 161.2,273.5 161.4,272.7 161.5,272 161.6,271.5 161.7,270.7 161.7,269.9 161.8,269.2 161.9,268.4 161.9,267.9 162,267.2 162.1,266.4 162.1,265.6 162.2,264.8 162.2,264 162.3,263.3 162.3,262.9 162.4,262.1 162.5,261.3 162.6,260.5 162.7,259.7 162.7,259.3 162.7,258.5 162.8,257.7 163,257 163.1,256.5 163.3,255.8 163.5,255.4 163.9,254.7 164.2,254.2 164.6,253.8 164.9,253.4 165.3,253 165.8,252.6 166.2,252.3 166.6,252 167,251.7 167.6,251.4 168.2,251.1 168.6,251 169.4,250.8 170,250.7 170.6,250.6 171.4,250.6 171.7,250.7 172.5,250.8 173.1,251 173.7,251.3 174.1,251.6 174.5,251.9 175,252.2 175.4,252.6 175.7,253 176.1,253.4 176.5,254 176.9,254.5 177.2,255 177.5,255.4 177.8,255.8 178,256.2 178.4,256.8 178.8,257.3 179.1,257.7 179.4,258.1 179.6,258.5 180,259.1 180.4,259.7 180.7,260.1 180.9,260.5 181.2,260.9 181.6,261.5 182,262.1 182.2,262.5 182.5,262.9 182.8,263.3 183.2,263.9 183.5,264.4 183.8,264.8 184,265.2 184.3,265.7 184.7,266.3 185.1,266.8 185.3,267.2 185.6,267.6 185.9,268.1 186.3,268.7 186.6,269.2 186.9,269.6 187.2,269.9 187.5,270.4 187.9,270.9 188.3,271.5 188.6,271.9 188.9,272.3 189.2,272.7 189.5,273.1 189.9,273.7 190.3,274.3 190.5,274.7 190.7,275.1 191,275.7 191.3,276.2 191.4,276.6 191.7,277.4 191.8,278.2 191.9,278.6 191.9,279.4 191.9,280.2 191.8,280.6 191.6,281.4 191.4,282 191.2,282.5 191,282.9 190.6,283.6 190.3,284.1 190,284.5 189.7,284.9 189.3,285.3 188.9,285.7 188.5,286.1 188,286.5 187.5,286.8 187.1,287.1 186.7,287.4 186.3,287.7 185.6,288.1 185.1,288.3 184.7,288.6 184.2,288.8 183.6,289.2 183.2,289.4 182.6,289.6 182,289.9 181.6,290.1 180.9,290.4 180.4,290.6 179.8,290.8 179.2,291 178.7,291.2 178,291.4 177.4,291.6" fill="none" stroke="#505050" stroke-width="0.5"/>
<polygon points="161.4,291.6 160.7,291.2 160.3,291 159.9,290.8 159.4,290.4 158.9,290 158.4,289.6 158,289.2 157.6,288.8 157.2,288.5 156.9,288.1 156.6,287.7 156.4,287.3 156,286.5" fill="none" stroke="#505050" stroke-width="0.5"/>
<polygon points="165.6,291.6 165.1,291.5 164.3,291.2 163.9,291.1 163.2,290.8 162.7,290.5 162.3,290.3 161.8,290 161.3,289.6 160.8,289.2 160.4,288.8 160,288.5 159.6,288.1 159.3,287.7 159,287.3 158.8,286.8 158.4,286.1 158.3,285.7 158,284.9 158,284.3 157.9,283.7 158,283.3 158.1,282.5 158.3,281.8 158.4,281.4 158.8,280.6 159,280.2 159.2,279.8 159.5,279.3 159.9,278.7 160.3,278.2 160.6,277.8 160.8,277.4 161.1,277 161.5,276.3 161.7,275.9 161.9,275.5 162.2,274.7 162.3,274.3 162.6,273.5 162.7,273 162.8,272.3 162.9,271.5 163,270.7 163,269.9 163.1,269.5 163.2,268.8 163.2,268 163.4,267.2 163.5,266.4 163.5,266 163.5,265.2 163.6,264.4 163.6,263.6 163.7,262.9 163.9,262.1 163.9,261.7 164,260.9 164.1,260.1 164.2,259.3 164.2,258.5 164.3,258.1 164.4,257.3 164.6,256.6 164.8,256.2 165.1,255.6 165.4,255 165.8,254.6 166.2,254.2 166.6,253.8 167,253.5 167.4,253.2 167.8,253 168.6,252.6 169,252.5 169.8,252.3 170.4,252.2 171,252.2 171.4,252.3 172.1,252.4 172.6,252.6 173.3,253 173.7,253.3 174.1,253.6 174.5,254 174.9,254.5 175.3,255 175.6,255.4 175.9,255.8 176.2,256.2 176.5,256.6 176.9,257.2 177.3,257.7 177.6,258.1 177.8,258.5 178.1,258.9 178.4,259.4 178.8,260 179.2,260.5 179.4,260.9 179.7,261.3 180,261.8 180.4,262.3 180.8,262.9 181,263.3 181.3,263.6 181.6,264.1 182,264.7 182.3,265.2 182.6,265.6 182.8,266 183.2,266.5 183.6,267.1 183.9,267.6 184.2,268 184.4,268.4 184.7,268.9 185.1,269.4 185.5,269.9 185.8,270.3 186.1,270.7 186.3,271.1 186.7,271.6 187.1,272.2 187.5,272.7 187.8,273.1 188,273.5 188.3,273.9 188.7,274.5 189,275.1 189.3,275.5 189.5,275.9 189.8,276.6 190,277 190.2,277.8 190.3,278.5 190.3,279 190.3,279.8 190.2,280.2 190.1,281 189.9,281.6 189.6,282.2 189.4,282.5 189.1,283.1 188.7,283.6 188.3,284.1 187.9,284.5 187.5,284.8 187.1,285.2 186.7,285.5 186.3,285.7 185.8,286.1 185.1,286.5 184.7,286.7 184.3,286.9 183.7,287.3 183.2,287.5 182.8,287.7 182.2,288.1 181.6,288.3 181.2,288.5 180.5,288.8 180,289.1 179.5,289.2 178.8,289.5 178.4,289.6 177.7,289.9 177.3,290 176.5,290.3 175.8,290.4 175.3,290.6 174.5,290.7 174.1,290.8 173.3,291 172.5,291.2 172.1,291.2 171.4,291.4 170.6,291.5 170.1,291.6" fill="none" stroke="#333333" stroke-width="0.5"/>
<polygon points="169.8,253.8 170.6,253.7 171.1,253.8 171.7,254 172.3,254.2 172.9,254.6 173.3,255 173.7,255.4 174,255.8 174.3,256.2 174.6,256.6 174.9,257 175.3,257.4 175.7,257.9 176.1,258.5 176.4,258.9 176.7,259.3 177,259.7 177.3,260.1 177.7,260.7 178,261.3 178.3,261.7 178.6,262.1 178.9,262.5 179.2,262.9 179.6,263.5 180,264 180.3,264.4 180.5,264.8 180.8,265.2 181.2,265.8 181.6,266.4 181.9,266.8 182.2,267.2 182.4,267.6 182.8,268.1 183.2,268.7 183.5,269.2 183.8,269.6 184.1,269.9 184.3,270.4 184.7,270.9 185.1,271.4 185.5,271.9 185.8,272.3 186.1,272.7 186.4,273.1 186.7,273.6 187.1,274.2 187.4,274.7 187.7,275.1 187.9,275.5 188.3,276.1 188.5,276.6 188.7,277 188.9,277.8 189,278.6 189,279.4 189,280.2 188.7,281 188.6,281.4 188.3,282 187.9,282.5 187.6,282.9 187.3,283.3 186.9,283.7 186.4,284.1 185.9,284.5 185.5,284.7 185.1,285 184.5,285.3 184,285.6 183.6,285.8 183.1,286.1 182.4,286.5 182,286.7 181.6,286.9 180.8,287.3 180.4,287.5 180,287.7 179.2,288 178.8,288.2 178.1,288.5 177.7,288.6 176.9,288.8 176.5,289 175.7,289.2 175.3,289.3 174.5,289.5 174,289.6 173.3,289.8 172.5,290 172.1,290.1 171.4,290.2 170.6,290.4 170.2,290.5 169.4,290.6 168.6,290.7 167.8,290.7 167,290.7 166.2,290.6 165.4,290.4 165.1,290.3 164.3,290 163.9,289.8 163.5,289.6 162.9,289.2 162.3,288.8 161.9,288.5 161.5,288.1 161.2,287.7 160.9,287.3 160.6,286.9 160.3,286.4 160,285.7 159.9,285.3 159.7,284.5 159.7,283.7 159.7,282.9 159.9,282.2 160,281.8 160.3,281 160.4,280.6 160.7,280 161.1,279.4 161.3,279 161.6,278.6 161.9,278 162.3,277.4 162.5,277 162.7,276.5 163,275.9 163.1,275.5 163.4,274.7 163.5,274.3 163.7,273.5 163.9,272.9 164,272.3 164.1,271.5 164.2,270.7 164.2,269.9 164.3,269.4 164.3,268.8 164.5,268 164.6,267.2 164.7,266.8 164.8,266 164.8,265.2 164.9,264.4 164.9,263.6 165.1,262.9 165.1,262.5 165.3,261.7 165.4,260.9 165.5,260.5 165.6,259.7 165.6,258.9 165.7,258.1 165.8,257.3 165.9,257 166.2,256.3 166.6,255.8 166.9,255.4 167.3,255 167.8,254.6 168.2,254.4 168.6,254.2 169.4,253.9 169.8,253.8" fill="none" stroke="#282828" stroke-width="0.5"/>
<polygon points="169.7,255.8 170.2,255.7 170.7,255.8 171.4,256 171.7,256.3 172.1,256.6 172.5,257 172.9,257.5 173.3,258 173.7,258.5 174.1,258.9 174.4,259.3 174.8,259.7 175.1,260.1 175.4,260.5 175.7,260.9 176.1,261.4 176.5,261.9 176.9,262.4 177.3,262.8 177.6,263.3 177.9,263.6 178.2,264 178.5,264.4 178.8,264.8 179.2,265.4 179.6,265.9 180,266.4 180.3,266.8 180.6,267.2 180.9,267.6 181.2,268 181.6,268.6 182,269.1 182.3,269.6 182.6,269.9 182.8,270.3 183.2,270.8 183.6,271.3 184,271.8 184.3,272.3 184.7,272.7 185,273.1 185.3,273.5 185.6,273.9 185.9,274.4 186.3,274.9 186.7,275.5 186.9,275.9 187.1,276.2 187.5,277 187.6,277.4 187.8,278.2 187.9,279 187.8,279.8 187.6,280.6 187.5,281 187.1,281.6 186.7,282.2 186.4,282.5 186,282.9 185.5,283.3 185.1,283.6 184.7,283.8 184.2,284.1 183.6,284.4 183.2,284.6 182.6,284.9 182,285.2 181.6,285.5 181.1,285.7 180.4,286.1 180,286.3 179.6,286.5 178.8,286.9 178.4,287 177.9,287.3 177.3,287.5 176.9,287.7 176.1,287.9 175.6,288.1 174.9,288.3 174.2,288.5 173.7,288.6 172.9,288.8 172.5,288.9 171.7,289.1 171.1,289.2 170.6,289.4 169.8,289.5 169.1,289.6 168.6,289.7 167.8,289.7 167,289.7 166.6,289.6 165.8,289.5 165.1,289.2 164.7,289.1 164.3,288.8 163.6,288.5 163.1,288.1 162.7,287.7 162.4,287.3 162.1,286.9 161.8,286.5 161.5,285.9 161.3,285.3 161.1,284.5 161.1,284.1 161,283.3 161.1,282.7 161.2,282.2 161.4,281.4 161.6,281 161.9,280.3 162.1,279.8 162.4,279.4 162.7,278.8 163,278.2 163.2,277.8 163.5,277.3 163.8,276.6 164,276.2 164.2,275.5 164.4,275.1 164.6,274.3 164.8,273.9 165,273.1 165.1,272.7 165.3,271.9 165.4,271.1 165.4,270.5 165.5,269.9 165.6,269.2 165.8,268.4 165.9,268 166.1,267.2 166.2,266.6 166.4,266 166.5,265.2 166.5,264.4 166.6,263.6 166.7,263.3 166.9,262.5 167.1,262.1 167.4,261.3 167.5,260.9 167.6,260.1 167.6,259.3 167.5,258.5 167.6,257.7 167.8,257.3 168.2,256.6 168.6,256.3 169,256 169.7,255.8" fill="none" stroke="#1f1f1f" stroke-width="0.5"/>
<polygon points="171.4,264.6 171,264.9 170.6,265.6 170.5,266 170.4,266.8 170.5,267.6 170.6,268 170.7,268.8 170.7,269.6 170.8,270.3 170.9,271.1 171,271.6 171.2,272.3 171.4,272.7 171.7,273.3 172.1,273.7 172.5,274.1 172.9,274.3 173.7,274.6 174.5,274.5 175.2,274.3 175.6,273.9 175.9,273.5 176,272.7 176,271.9 175.8,271.1 175.7,270.7 175.4,269.9 175.3,269.6 175,268.8 174.8,268.4 174.5,267.8 174.2,267.2 173.9,266.8 173.7,266.4 173.3,265.8 172.9,265.3 172.5,264.8 172.1,264.6 171.4,264.6" fill="none" stroke="#1f1f1f" stroke-width="0.5"/>
<polygon points="177.6,267.6 177.9,267.6 178.4,267.8 178.8,268.1 179.2,268.4 179.6,268.8 180,269.2 180.4,269.6 180.8,270.1 181.2,270.5 181.6,271 182,271.4 182.4,271.8 182.8,272.3 183.2,272.7 183.5,273.1 183.8,273.5 184.2,273.9 184.5,274.3 184.8,274.7 185.1,275.1 185.5,275.7 185.9,276.2 186.1,276.6 186.3,277.1 186.6,277.8 186.7,278.5 186.7,279 186.7,279.4 186.5,280.2 186.3,280.7 185.9,281.3 185.6,281.8 185.1,282.1 184.7,282.4 184.3,282.7 183.9,282.9 183.2,283.3 182.8,283.5 182.3,283.7 181.6,284.1 181.2,284.3 180.8,284.5 180.1,284.9 179.6,285.2 179.2,285.4 178.7,285.7 178,286 177.7,286.2 177,286.5 176.5,286.7 176,286.9 175.3,287.1 174.7,287.3 174.1,287.4 173.3,287.7 172.9,287.8 172.1,288 171.7,288.1 171,288.3 170.5,288.5 169.8,288.6 169,288.7 168.2,288.8 167.4,288.8 166.6,288.7 165.8,288.5 165.4,288.4 164.8,288.1 164.3,287.7 163.9,287.4 163.5,287 163.1,286.5 162.8,286.1 162.6,285.7 162.3,284.9 162.2,284.5 162.1,283.7 162.2,282.9 162.3,282.2 162.4,281.8 162.7,281 162.8,280.6 163.1,280 163.4,279.4 163.6,279 163.9,278.5 164.3,277.8 164.5,277.4 164.7,277 165,276.2 165.2,275.9 165.4,275.2 165.7,274.7 165.9,274.3 166.2,273.5 166.4,273.1 166.6,272.7 167,271.9 167.1,271.5 167.4,270.7 167.5,270.3 167.8,269.8 168.4,269.9 168.6,270.3 168.9,271.1 169,271.5 169.4,272.2 169.6,272.7 169.9,273.1 170.2,273.5 170.6,273.9 171,274.4 171.4,274.8 171.7,275.1 172.4,275.5 172.9,275.7 173.5,275.9 174.1,275.9 174.9,275.9 175.5,275.9 176.1,275.7 176.5,275.5 177,275.1 177.3,274.7 177.6,273.9 177.7,273.5 177.7,272.7 177.7,271.9 177.7,271.5 177.5,270.7 177.4,269.9 177.3,269.2 177.2,268.8 177.3,268.1 177.6,267.6" fill="none" stroke="#171717" stroke-width="0.5"/>
<polygon points="180.4,273.5 180.8,273.4 181.3,273.5 182,273.8 182.4,274.1 182.8,274.4 183.2,274.8 183.6,275.2 184,275.6 184.3,276.1 184.7,276.6 184.9,277 185.1,277.4 185.4,278.2 185.5,279 185.3,279.8 185.1,280.2 184.7,280.8 184.3,281.1 184,281.5 183.5,281.8 182.8,282.1 182.4,282.3 181.8,282.5 181.2,282.8 180.8,283 180.3,283.3 179.7,283.7 179.2,284 178.8,284.3 178.4,284.5 177.8,284.9 177.3,285.2 176.9,285.4 176.2,285.7 175.7,285.9 175.1,286.1 174.5,286.3 174,286.5 173.3,286.7 172.7,286.9 172.1,287.1 171.5,287.3 171,287.4 170.2,287.6 169.8,287.7 169,287.9 168.2,288 167.4,288 166.6,287.8 166.1,287.7 165.4,287.4 165.1,287.1 164.7,286.8 164.3,286.5 163.9,286 163.5,285.3 163.4,284.9 163.2,284.1 163.1,283.3 163.2,282.5 163.3,281.8 163.5,281.3 163.7,280.6 163.9,280.2 164.3,279.5 164.6,279 164.8,278.6 165.1,278.2 165.4,277.5 165.8,277 166,276.6 166.2,276.2 166.6,275.6 167,275.1 167.4,274.7 167.8,274.5 168.6,274.5 169.1,274.7 169.7,275.1 170.2,275.4 170.6,275.7 171,276 171.4,276.2 172.1,276.6 172.5,276.8 173.3,277 173.7,277.1 174.5,277.1 175.3,277.2 176.1,277.1 176.7,277 177.3,276.9 177.8,276.6 178.3,276.2 178.7,275.9 179,275.5 179.2,275 179.6,274.3 179.9,273.9 180.4,273.5" fill="rgba(0,0,0,0.42)" stroke="#101010" stroke-width="0.5"/>
<polygon points="167.9,276.6 168.6,276.5 169.4,276.6 169.8,276.8 170.3,277 171,277.3 171.4,277.5 172.1,277.8 172.5,277.9 173.3,278.1 173.8,278.2 174.5,278.3 175.3,278.4 176.1,278.5 176.8,278.6 177.3,278.7 178,278.7 178.8,278.6 179.2,278.5 179.9,278.2 180.4,277.8 180.8,277.4 181.2,277.2 181.6,277 182.2,277 182.8,277.4 183.2,277.8 183.4,278.2 183.4,279 183.2,279.5 182.8,279.9 182.3,280.2 181.6,280.5 181.2,280.6 180.5,281 180,281.3 179.6,281.6 179.2,282 178.8,282.4 178.4,282.8 178,283.1 177.7,283.5 177.3,283.8 176.7,284.1 176.1,284.5 175.7,284.7 175.2,284.9 174.5,285.2 174.1,285.4 173.3,285.6 172.9,285.8 172.1,286.1 171.7,286.2 171,286.5 170.6,286.6 169.8,286.9 169.4,286.9 168.6,287.1 167.8,287.1 167,287 166.6,286.9 165.8,286.5 165.4,286.3 165.1,285.9 164.7,285.4 164.4,284.9 164.2,284.5 164.1,283.7 164,282.9 164.1,282.2 164.3,281.6 164.5,281 164.7,280.6 165.1,279.8 165.3,279.4 165.6,279 165.9,278.6 166.2,278.1 166.6,277.7 167,277.2 167.4,276.9 167.9,276.6" fill="rgba(0,0,0,0.42)" stroke="#0a0a0a" stroke-width="0.5"/>
<polygon points="167.8,278.2 168.2,278.1 169,278 169.8,278.1 170.2,278.2 171,278.5 171.4,278.6 172.1,278.9 172.5,279.1 173.3,279.3 173.7,279.4 174.5,279.7 174.9,279.8 175.7,280.2 176.1,280.4 176.5,280.9 176.6,281.4 176.5,282.1 176.2,282.5 175.8,282.9 175.4,283.3 174.9,283.7 174.5,283.9 174.1,284.1 173.3,284.5 172.9,284.7 172.5,284.9 171.7,285.2 171.4,285.4 170.6,285.7 170.2,285.8 169.4,286.1 169,286.1 168.2,286.2 167.4,286.2 167,286.1 166.3,285.7 165.8,285.4 165.5,284.9 165.2,284.5 165.1,284.1 164.9,283.3 164.9,282.5 165.1,281.8 165.2,281.4 165.4,280.8 165.8,280.2 166.1,279.8 166.4,279.4 166.7,279 167.2,278.6 167.8,278.2" fill="rgba(0,0,0,0.42)" stroke="#050505" stroke-width="0.5"/>
<polygon points="167.8,279.4 168.6,279.1 169.4,279.1 170.2,279.3 170.6,279.4 171.4,279.8 171.7,280 172.2,280.2 172.8,280.6 173.3,281 173.6,281.4 173.8,281.8 173.7,282.2 173.3,282.8 172.9,283.2 172.5,283.6 172.1,283.8 171.7,284.1 171,284.5 170.6,284.7 170.2,284.9 169.4,285.2 168.6,285.3 168.2,285.3 167.8,285.3 167,285 166.6,284.8 166.2,284.3 165.9,283.7 165.8,283.3 165.8,282.5 165.8,282.1 166.1,281.4 166.3,281 166.6,280.4 167,280 167.4,279.6 167.8,279.4" fill="rgba(0,0,0,0.42)" stroke="#000000" stroke-width="0.5"/>
<rect x="156" y="229" width="62.6" height="62.6" fill="none" stroke="#6e6e6e" stroke-width="0.9"/>
<g font-size="5.3" fill="#5a6699">
<text x="158.2" y="235.3">23.5</text>
<text x="217" y="235.3" text-anchor="end" fill="#5a5f70">3.35</text>
<text x="158.2" y="289.6">65.5</text>
<text x="217" y="289.6" text-anchor="end" fill="#5a5f70">7.63</text>
</g>
<g font-size="6.3" fill="#2a2a2a" text-anchor="end">
<text x="152.6" y="237.8">10<tspan font-size="4.5" dy="-2.2">5</tspan></text>
<text x="152.6" y="252.2">10<tspan font-size="4.5" dy="-2.2">4</tspan></text>
<text x="152.6" y="266.3">10<tspan font-size="4.5" dy="-2.2">3</tspan></text>
<text x="152.6" y="281">10<tspan font-size="4.5" dy="-2.2">2</tspan></text>
<text x="150.8" y="287.9">0</text>
</g>
<line x1="154.5" y1="235.8" x2="156" y2="235.8" stroke="#444" stroke-width="0.8"/>
<line x1="154.5" y1="250.2" x2="156" y2="250.2" stroke="#444" stroke-width="0.8"/>
<line x1="154.5" y1="264.3" x2="156" y2="264.3" stroke="#444" stroke-width="0.8"/>
<line x1="154.5" y1="279" x2="156" y2="279" stroke="#444" stroke-width="0.8"/>
<line x1="154.5" y1="285.8" x2="156" y2="285.8" stroke="#444" stroke-width="0.8"/>
<g font-size="6.3" fill="#2a2a2a">
<text x="161.2" y="302.9">0</text>
<text x="164.9" y="302.9">10<tspan font-size="4.5" dy="-2.2">2</tspan></text>
<text x="180.7" y="302.9">10<tspan font-size="4.5" dy="-2.2">3</tspan></text>
<text x="195.3" y="302.9">10<tspan font-size="4.5" dy="-2.2">4</tspan></text>
<text x="209.3" y="302.9">10<tspan font-size="4.5" dy="-2.2">5</tspan></text>
</g>
<line x1="162.2" y1="291.6" x2="162.2" y2="293.1" stroke="#444" stroke-width="0.8"/>
<line x1="168.5" y1="291.6" x2="168.5" y2="293.1" stroke="#444" stroke-width="0.8"/>
<line x1="185" y1="291.6" x2="185" y2="293.1" stroke="#444" stroke-width="0.8"/>
<line x1="199.6" y1="291.6" x2="199.6" y2="293.1" stroke="#444" stroke-width="0.8"/>
<line x1="214" y1="291.6" x2="214" y2="293.1" stroke="#444" stroke-width="0.8"/>
</g>
<g>
<line x1="264.4" y1="229" x2="264.4" y2="291.6" stroke="#999" stroke-width="0.7"/>
<line x1="240.7" y1="270.9" x2="303.3" y2="270.9" stroke="#999" stroke-width="0.7"/>
<path d="M251.2 257.9h.7v.7h-.7zM246.9 279.8h.7v.7h-.7zM258 287.6h.7v.7h-.7zM247.5 287.3h.7v.7h-.7zM251.7 256.2h.7v.7h-.7zM263.4 264.7h.7v.7h-.7zM249 265.4h.7v.7h-.7zM261.1 260.5h.7v.7h-.7zM264.4 265.3h.7v.7h-.7zM264.1 266.6h.7v.7h-.7zM265.1 274.2h.7v.7h-.7zM260.6 259.7h.7v.7h-.7zM257.3 253.7h.7v.7h-.7zM254.7 289.3h.7v.7h-.7zM252.5 288.3h.7v.7h-.7zM247.4 280h.7v.7h-.7zM261 260.6h.7v.7h-.7zM265 271.6h.7v.7h-.7zM263 285.1h.7v.7h-.7zM247.8 272.3h.7v.7h-.7zM245.1 283.7h.7v.7h-.7zM251.5 257.2h.7v.7h-.7zM247.5 271.7h.7v.7h-.7zM265.4 282.5h.7v.7h-.7zM265.6 273.6h.7v.7h-.7zM261.2 284.8h.7v.7h-.7zM258.2 255.1h.7v.7h-.7zM255 253.6h.7v.7h-.7zM266.4 270.5h.7v.7h-.7zM259.7 258h.7v.7h-.7zM252.7 254.4h.7v.7h-.7zM264.2 283.3h.7v.7h-.7zM250.5 258.9h.7v.7h-.7zM263.1 281.4h.7v.7h-.7zM252.3 255.7h.7v.7h-.7zM265.2 280.8h.7v.7h-.7zM262.4 284.6h.7v.7h-.7zM248 275.6h.7v.7h-.7zM260 258.7h.7v.7h-.7zM263.7 285.1h.7v.7h-.7zM258.8 256.3h.7v.7h-.7zM249.9 262.2h.7v.7h-.7zM254.1 288.3h.7v.7h-.7zM264.3 278.8h.7v.7h-.7zM263 282.5h.7v.7h-.7zM265.3 269.5h.7v.7h-.7zM249.9 287.6h.7v.7h-.7zM248 270.2h.7v.7h-.7zM261.6 286.3h.7v.7h-.7zM259.8 287.4h.7v.7h-.7zM247.6 271.9h.7v.7h-.7zM260.8 256.2h.7v.7h-.7zM248.5 268.1h.7v.7h-.7zM261.3 284.8h.7v.7h-.7zM266.6 275.4h.7v.7h-.7zM249.5 260.7h.7v.7h-.7zM264.5 279.8h.7v.7h-.7zM247.8 287.2h.7v.7h-.7zM255.5 253.9h.7v.7h-.7zM248.6 271h.7v.7h-.7zM261.3 259.6h.7v.7h-.7zM262.2 284.3h.7v.7h-.7zM253.4 288.3h.7v.7h-.7zM248.8 267.7h.7v.7h-.7zM248.9 268.7h.7v.7h-.7zM261.4 284.3h.7v.7h-.7zM249.3 287.5h.7v.7h-.7zM264 280.4h.7v.7h-.7zM260 285.9h.7v.7h-.7zM247.9 276.2h.7v.7h-.7zM260.5 256.7h.7v.7h-.7zM246.6 268.3h.7v.7h-.7zM262.2 283.1h.7v.7h-.7zM260 257.7h.7v.7h-.7zM247.8 274.6h.7v.7h-.7zM265 278.6h.7v.7h-.7zM248.5 271.3h.7v.7h-.7zM263 264.7h.7v.7h-.7zM264.6 283.9h.7v.7h-.7zM247.7 279.6h.7v.7h-.7zM264.1 268.1h.7v.7h-.7zM257.4 255.2h.7v.7h-.7zM262.4 284.4h.7v.7h-.7zM261.3 257.5h.7v.7h-.7zM264.6 269.8h.7v.7h-.7zM260.4 259.9h.7v.7h-.7zM266 278.3h.7v.7h-.7zM247.2 276.1h.7v.7h-.7zM261.4 285.8h.7v.7h-.7zM261.1 258h.7v.7h-.7zM247.1 287.8h.7v.7h-.7zM264.4 265.8h.7v.7h-.7zM265.1 284h.7v.7h-.7zM264.8 281.8h.7v.7h-.7zM246.3 280.6h.7v.7h-.7zM261.4 257.4h.7v.7h-.7zM249.9 260.2h.7v.7h-.7zM264.4 268.7h.7v.7h-.7zM263.9 281.2h.7v.7h-.7zM264.8 270.6h.7v.7h-.7zM264.8 278.4h.7v.7h-.7zM246.8 273.2h.7v.7h-.7zM252.7 255.3h.7v.7h-.7zM245.9 285.5h.7v.7h-.7zM261.1 261.4h.7v.7h-.7zM248 273.9h.7v.7h-.7zM265 279.6h.7v.7h-.7zM261 260h.7v.7h-.7zM257.6 288.2h.7v.7h-.7zM246.9 284.5h.7v.7h-.7zM247.3 280.1h.7v.7h-.7zM249.8 288h.7v.7h-.7zM263.2 260.5h.7v.7h-.7zM262.3 283.5h.7v.7h-.7zM252.7 288.4h.7v.7h-.7zM250.7 256.2h.7v.7h-.7zM250.6 260.8h.7v.7h-.7zM264.4 280.8h.7v.7h-.7zM259.9 257.9h.7v.7h-.7zM254.8 254.6h.7v.7h-.7zM248.6 275.6h.7v.7h-.7zM263.9 280.8h.7v.7h-.7zM248.4 273.9h.7v.7h-.7zM255.3 289.1h.7v.7h-.7zM259.7 258.1h.7v.7h-.7zM252.3 254.8h.7v.7h-.7zM250.8 259.7h.7v.7h-.7zM266 272.1h.7v.7h-.7zM264.8 281.6h.7v.7h-.7zM247.1 281.9h.7v.7h-.7zM257.7 255.2h.7v.7h-.7zM254.4 288.2h.7v.7h-.7zM247.1 284.8h.7v.7h-.7zM262.6 263.6h.7v.7h-.7zM257.6 255.2h.7v.7h-.7zM260.2 258.4h.7v.7h-.7zM247.1 281.5h.7v.7h-.7zM265.2 277.1h.7v.7h-.7zM247.6 269.9h.7v.7h-.7zM247.1 281.4h.7v.7h-.7zM249.1 266.1h.7v.7h-.7zM262.4 264.2h.7v.7h-.7zM265 271.4h.7v.7h-.7zM260.4 288.2h.7v.7h-.7zM259.2 255.7h.7v.7h-.7zM248 268.1h.7v.7h-.7zM265.2 271.7h.7v.7h-.7zM264.9 269.3h.7v.7h-.7zM264.7 276.6h.7v.7h-.7zM263.3 265.4h.7v.7h-.7zM250.3 261.3h.7v.7h-.7zM265.6 278.5h.7v.7h-.7zM245.9 286h.7v.7h-.7zM262.7 284.8h.7v.7h-.7zM248.8 261h.7v.7h-.7zM252.8 254h.7v.7h-.7zM248.9 287h.7v.7h-.7zM261.8 285h.7v.7h-.7zM257.4 253.4h.7v.7h-.7zM250.7 260h.7v.7h-.7zM263.1 262.1h.7v.7h-.7zM262.8 282.8h.7v.7h-.7zM247.6 280h.7v.7h-.7zM265.8 280h.7v.7h-.7zM265.3 276.8h.7v.7h-.7zM246.8 281.3h.7v.7h-.7zM247 271h.7v.7h-.7zM264.9 279.4h.7v.7h-.7zM249.4 266.3h.7v.7h-.7zM247.8 275.6h.7v.7h-.7zM255.5 288.1h.7v.7h-.7zM251.1 288.3h.7v.7h-.7zM253.1 289h.7v.7h-.7zM257.8 254.9h.7v.7h-.7zM267.7 274.5h.7v.7h-.7zM260.6 260h.7v.7h-.7zM251.6 256.8h.7v.7h-.7zM262.3 263.7h.7v.7h-.7zM261.2 285.1h.7v.7h-.7zM263.1 286h.7v.7h-.7zM265 275.6h.7v.7h-.7zM251.1 288.7h.7v.7h-.7zM247.8 266.9h.7v.7h-.7zM247.8 267.9h.7v.7h-.7zM264.9 271.8h.7v.7h-.7zM247.6 268.9h.7v.7h-.7zM265.4 276.6h.7v.7h-.7zM265.3 268.5h.7v.7h-.7zM248 277.7h.7v.7h-.7zM245.8 276.7h.7v.7h-.7zM247.7 286.3h.7v.7h-.7zM265.4 283.8h.7v.7h-.7zM252.3 288.4h.7v.7h-.7zM264.6 278.5h.7v.7h-.7zM261.6 256.6h.7v.7h-.7zM251.2 258.2h.7v.7h-.7zM264.6 264.1h.7v.7h-.7zM247.9 286.2h.7v.7h-.7zM249.8 264.1h.7v.7h-.7zM260.3 259.8h.7v.7h-.7zM252.8 253.3h.7v.7h-.7zM250.9 288.9h.7v.7h-.7zM264.7 277h.7v.7h-.7zM247.2 278.4h.7v.7h-.7zM249.8 264.7h.7v.7h-.7zM250.4 258.8h.7v.7h-.7zM251.3 289.5h.7v.7h-.7zM263.2 281.9h.7v.7h-.7zM266.7 270.2h.7v.7h-.7zM249.1 263.6h.7v.7h-.7zM253.9 289.2h.7v.7h-.7zM261.7 261.5h.7v.7h-.7zM265 277.7h.7v.7h-.7zM246.5 282.6h.7v.7h-.7zM251 288.9h.7v.7h-.7zM249.6 264.6h.7v.7h-.7zM265.4 282h.7v.7h-.7zM264.7 267.2h.7v.7h-.7zM261.3 261h.7v.7h-.7zM259.8 257.6h.7v.7h-.7zM265.6 276.3h.7v.7h-.7zM260.8 288.1h.7v.7h-.7zM247.1 282.5h.7v.7h-.7zM246.8 280.1h.7v.7h-.7zM254.7 254.2h.7v.7h-.7zM265.5 273.3h.7v.7h-.7zM248.2 278.8h.7v.7h-.7zM260.4 257.7h.7v.7h-.7zM248.3 266.5h.7v.7h-.7zM265.6 271.1h.7v.7h-.7zM265.4 274.7h.7v.7h-.7zM247.7 270.1h.7v.7h-.7zM263.7 263.2h.7v.7h-.7zM263.2 259.3h.7v.7h-.7zM257.7 288h.7v.7h-.7zM265.7 270.5h.7v.7h-.7zM248.3 268.5h.7v.7h-.7zM250.6 287.9h.7v.7h-.7zM264.9 271.3h.7v.7h-.7zM247.2 275.6h.7v.7h-.7zM245.8 272.6h.7v.7h-.7zM247.3 272.3h.7v.7h-.7zM265.5 268.4h.7v.7h-.7zM263.8 279.7h.7v.7h-.7zM266.4 270.4h.7v.7h-.7zM249.1 265.5h.7v.7h-.7zM247.8 286.4h.7v.7h-.7zM262.6 283.4h.7v.7h-.7zM264.9 263.9h.7v.7h-.7zM263.8 264.7h.7v.7h-.7zM249.9 261.9h.7v.7h-.7zM263.8 263.7h.7v.7h-.7zM248.7 269.6h.7v.7h-.7zM248.1 272.3h.7v.7h-.7zM247.3 282.1h.7v.7h-.7zM260.6 285.2h.7v.7h-.7zM257.6 288.3h.7v.7h-.7zM262.2 259.4h.7v.7h-.7zM247.6 275.8h.7v.7h-.7zM266.9 271.9h.7v.7h-.7zM253.4 241h.7v.7h-.7zM256.6 247h.7v.7h-.7zM254.6 247.4h.7v.7h-.7zM258.6 245h.7v.7h-.7zM257 245.6h.7v.7h-.7zM250 248.3h.7v.7h-.7zM250.6 250.7h.7v.7h-.7zM254.8 250.2h.7v.7h-.7zM252.5 245.9h.7v.7h-.7zM258.3 249.6h.7v.7h-.7zM258.8 246.1h.7v.7h-.7zM254.6 253.3h.7v.7h-.7zM255.1 253.6h.7v.7h-.7zM251.9 250.4h.7v.7h-.7zM257.6 246.8h.7v.7h-.7zM257.5 249.9h.7v.7h-.7zM253.6 244.4h.7v.7h-.7zM258.5 250.5h.7v.7h-.7zM253.6 248.5h.7v.7h-.7zM249 246.1h.7v.7h-.7zM257.2 252.6h.7v.7h-.7zM254.9 242.8h.7v.7h-.7zM256.3 245.1h.7v.7h-.7zM255.3 250.5h.7v.7h-.7zM256.7 244h.7v.7h-.7zM253.2 246.3h.7v.7h-.7zM249.2 244.8h.7v.7h-.7zM255.7 244.1h.7v.7h-.7zM253.1 247.9h.7v.7h-.7zM258.4 252.1h.7v.7h-.7zM257.3 246.3h.7v.7h-.7zM260.1 246.5h.7v.7h-.7zM253.5 254.8h.7v.7h-.7zM254.9 252.1h.7v.7h-.7zM257.2 247.2h.7v.7h-.7zM274.6 264.1h.7v.7h-.7zM290.5 262.6h.7v.7h-.7zM262.4 264.9h.7v.7h-.7zM269.5 246h.7v.7h-.7zM285.7 275.6h.7v.7h-.7zM270.7 262h.7v.7h-.7zM284.6 262.6h.7v.7h-.7zM270.7 256.3h.7v.7h-.7zM277.5 258.2h.7v.7h-.7zM285.3 258.6h.7v.7h-.7zM276.9 253.2h.7v.7h-.7zM278.1 258.5h.7v.7h-.7zM271 277.8h.7v.7h-.7zM278.5 259.7h.7v.7h-.7zM268.3 270.1h.7v.7h-.7zM272.4 262.3h.7v.7h-.7zM269.7 260.1h.7v.7h-.7zM281.6 266.3h.7v.7h-.7zM282.4 273.8h.7v.7h-.7zM264.1 276.1h.7v.7h-.7zM274.8 270.3h.7v.7h-.7zM264.8 268.8h.7v.7h-.7zM278 267.1h.7v.7h-.7zM258.9 259.5h.7v.7h-.7zM274.3 270.5h.7v.7h-.7zM287.5 261.1h.7v.7h-.7zM262.6 248.3h.7v.7h-.7zM284.5 271.4h.7v.7h-.7zM272.1 255.2h.7v.7h-.7zM266.3 258.9h.7v.7h-.7zM278.2 250.6h.7v.7h-.7zM265.3 252.1h.7v.7h-.7zM271.9 261.6h.7v.7h-.7zM255.2 248.7h.7v.7h-.7zM270.2 255.4h.7v.7h-.7zM275.4 258.3h.7v.7h-.7zM276.1 264.4h.7v.7h-.7zM265.6 273.4h.7v.7h-.7zM263 250.8h.7v.7h-.7zM265.7 266.4h.7v.7h-.7zM266.3 278.9h.7v.7h-.7zM261 277.5h.7v.7h-.7zM261.8 277.3h.7v.7h-.7zM262 272.7h.7v.7h-.7zM252.8 274.1h.7v.7h-.7zM261.9 286.6h.7v.7h-.7zM258.7 273.2h.7v.7h-.7zM265.5 270.9h.7v.7h-.7zM270 277.9h.7v.7h-.7zM266.6 278.3h.7v.7h-.7zM262 278.5h.7v.7h-.7zM267.1 283.5h.7v.7h-.7zM258.2 282.6h.7v.7h-.7zM261.7 276.8h.7v.7h-.7zM261.6 280.4h.7v.7h-.7zM258 279.9h.7v.7h-.7zM266.5 268.1h.7v.7h-.7zM264.9 277.4h.7v.7h-.7zM259.4 269.2h.7v.7h-.7zM260.9 272h.7v.7h-.7z" fill="#bcbcbc"/>
<polygon points="254.7,255 255.3,254.9 256.1,254.8 256.7,255 257.2,255.1 257.7,255.4 258.2,255.8 258.7,256.2 259,256.6 259.3,257 259.6,257.5 259.9,258.1 260.1,258.5 260.4,259.3 260.6,259.7 260.8,260.2 261.1,260.9 261.3,261.3 261.6,261.9 261.8,262.5 262,262.9 262.4,263.5 262.6,264 262.8,264.4 263.1,265.1 263.4,265.6 263.6,266 263.9,266.8 264.1,267.2 264.3,267.8 264.5,268.4 264.7,269.1 264.9,269.6 265,270.3 265.1,270.7 265.3,271.5 265.4,272.3 265.4,273.1 265.5,273.9 265.4,274.7 265.4,275.5 265.3,276.2 265.2,277 265.1,277.4 264.9,278.2 264.7,278.7 264.5,279.4 264.3,279.8 264,280.6 263.9,281 263.5,281.7 263.4,282.2 263.1,282.5 262.7,283.2 262.4,283.7 262.1,284.1 261.8,284.5 261.4,284.9 261,285.3 260.5,285.7 260,286.1 259.6,286.4 259.2,286.6 258.8,286.9 258.1,287.3 257.6,287.5 257.2,287.7 256.4,288 256.1,288.2 255.3,288.4 254.9,288.5 254.1,288.6 253.3,288.7 252.5,288.6 251.7,288.5 251.3,288.4 250.5,288.2 250.1,288 249.6,287.7 249,287.3 248.6,286.9 248.3,286.5 248,286.1 247.8,285.7 247.5,284.9 247.4,284.4 247.4,283.7 247.4,283.3 247.5,282.5 247.8,281.8 247.9,281.4 248.1,280.6 248.2,280.2 248.4,279.4 248.6,278.7 248.7,278.2 248.8,277.4 248.9,276.6 248.9,275.9 248.8,275.1 248.8,274.3 248.7,273.5 248.7,272.7 248.8,271.9 248.9,271.1 249,270.5 249,269.9 249.2,269.2 249.3,268.4 249.4,268 249.6,267.2 249.7,266.4 249.8,266 250,265.2 250.1,264.5 250.2,264 250.4,263.3 250.5,262.7 250.7,262.1 250.9,261.3 251,260.9 251.1,260.1 251.3,259.3 251.4,258.9 251.7,258.1 251.8,257.7 252.1,257.1 252.5,256.6 252.8,256.2 253.2,255.8 253.7,255.4 254.1,255.2 254.7,255" fill="none" stroke="#505050" stroke-width="0.5"/>
<polygon points="255.2,256.2 255.7,256.1 256.2,256.2 256.8,256.4 257.2,256.6 257.7,257 258.1,257.3 258.4,257.8 258.8,258.5 259,258.9 259.2,259.5 259.5,260.1 259.6,260.5 259.9,261.3 260.1,261.7 260.4,262.4 260.6,262.9 260.8,263.3 261.1,264 261.3,264.4 261.6,265 261.9,265.6 262.1,266 262.4,266.6 262.6,267.2 262.8,267.6 263.1,268.4 263.2,268.8 263.5,269.6 263.6,269.9 263.8,270.7 263.9,271.5 264,271.9 264.1,272.7 264.2,273.5 264.2,274.3 264.1,275.1 264,275.9 263.9,276.3 263.8,277 263.5,277.8 263.4,278.2 263.2,279 263.1,279.4 263,280.2 262.7,280.8 262.6,281.4 262.4,282 262.1,282.5 261.9,282.9 261.6,283.4 261.2,283.9 260.8,284.4 260.4,284.8 260,285.1 259.6,285.4 259.2,285.7 258.6,286.1 258,286.4 257.6,286.6 257.1,286.9 256.4,287.2 256.1,287.3 255.3,287.5 254.5,287.7 254.1,287.7 253.3,287.8 252.5,287.7 252.1,287.6 251.3,287.4 250.9,287.2 250.3,286.9 249.8,286.5 249.4,286.1 249.1,285.7 248.8,285.3 248.6,284.5 248.5,284.1 248.5,283.3 248.6,282.6 248.6,282.2 248.8,281.4 248.9,280.6 249,280.2 249.2,279.4 249.4,278.7 249.5,278.2 249.8,277.5 249.9,277 250.1,276.2 250.2,275.9 250.2,275.1 250.1,274.6 250.1,273.9 250.1,273.1 250.1,272.3 250.1,271.5 250.2,271.1 250.3,270.3 250.4,269.6 250.5,268.8 250.6,268.4 250.7,267.6 250.9,266.8 251,266.4 251.1,265.6 251.3,264.8 251.4,264.4 251.5,263.6 251.7,262.9 251.8,262.5 251.9,261.7 252.1,261 252.2,260.5 252.4,259.7 252.5,259.3 252.8,258.5 252.9,258.1 253.3,257.5 253.7,257 254.1,256.7 254.5,256.4 255.2,256.2" fill="none" stroke="#333333" stroke-width="0.5"/>
<polygon points="254.8,257.7 255.3,257.5 256.1,257.5 256.7,257.7 257.2,258.1 257.5,258.5 257.7,258.9 258,259.5 258.3,260.1 258.5,260.5 258.8,261.3 259,261.7 259.2,262.3 259.4,262.9 259.6,263.3 259.9,264 260.1,264.4 260.4,265 260.7,265.6 260.8,266 261.2,266.7 261.4,267.2 261.6,267.6 261.9,268.4 262,268.8 262.3,269.6 262.4,269.9 262.7,270.7 262.8,271.1 262.9,271.9 263,272.7 263.1,273.5 263,274.3 263,275.1 262.9,275.9 262.7,276.3 262.6,277 262.5,277.8 262.4,278.5 262.3,279 262.2,279.8 262.1,280.6 262,281 261.7,281.8 261.6,282.2 261.2,282.9 260.9,283.3 260.6,283.7 260.2,284.1 259.8,284.5 259.4,284.9 258.8,285.3 258.4,285.6 258,285.8 257.4,286.1 256.8,286.3 256.4,286.5 255.7,286.7 255,286.9 254.5,287 253.7,287 252.9,287 252.4,286.9 251.7,286.7 251.3,286.5 250.7,286.1 250.2,285.7 249.9,285.3 249.7,284.9 249.4,284.1 249.3,283.7 249.3,282.9 249.4,282.2 249.4,281.8 249.5,281 249.6,280.2 249.8,279.5 249.9,279 250.1,278.3 250.3,277.8 250.5,277.3 250.8,276.6 251,276.2 251.2,275.5 251.2,274.7 251.2,273.9 251.1,273.1 251.1,272.3 251.2,271.5 251.3,270.7 251.3,270.2 251.4,269.6 251.5,268.8 251.7,268 251.8,267.6 251.9,266.8 252.1,266 252.1,265.6 252.3,264.8 252.5,264 252.6,263.6 252.7,262.9 252.9,262.1 253,261.7 253.2,260.9 253.3,260.5 253.6,259.7 253.7,259.3 254.1,258.5 254.4,258.1 254.8,257.7" fill="none" stroke="#282828" stroke-width="0.5"/>
<polygon points="255.5,259.7 256.1,259.7 256.4,259.9 256.8,260.3 257.2,260.9 257.4,261.3 257.7,261.7 258,262.4 258.2,262.9 258.4,263.3 258.8,264 258.9,264.4 259.2,265 259.5,265.6 259.7,266 260,266.7 260.2,267.2 260.4,267.6 260.7,268.4 260.9,268.8 261.2,269.5 261.3,269.9 261.6,270.7 261.7,271.1 261.8,271.9 261.9,272.7 262,273.1 262,273.9 261.9,274.3 261.9,275.1 261.7,275.9 261.6,276.6 261.6,277.2 261.6,277.8 261.6,278.4 261.6,279 261.6,279.4 261.5,280.2 261.4,281 261.2,281.6 260.9,282.2 260.7,282.5 260.4,283.1 260,283.6 259.6,284 259.2,284.4 258.8,284.7 258.4,284.9 257.8,285.3 257.2,285.6 256.8,285.8 256.1,286 255.7,286.1 254.9,286.3 254.1,286.4 253.3,286.3 252.5,286.2 252.1,286.1 251.4,285.7 251,285.3 250.6,284.9 250.4,284.5 250.1,283.9 250,283.3 250,282.5 250,281.8 250,281 250.1,280.3 250.2,279.8 250.5,279 250.6,278.6 250.9,277.8 251.1,277.4 251.4,277 251.7,276.3 252,275.9 252.1,275.4 252.2,274.7 252.2,273.9 252.2,273.1 252.2,272.3 252.2,271.5 252.2,270.7 252.3,269.9 252.5,269.2 252.5,268.8 252.7,268 252.8,267.2 252.9,266.8 253.1,266 253.3,265.2 253.4,264.8 253.5,264 253.7,263.5 253.9,262.9 254.1,262.2 254.3,261.7 254.5,261.1 254.8,260.5 255.1,260.1 255.5,259.7" fill="none" stroke="#1f1f1f" stroke-width="0.5"/>
<polygon points="255.5,263.3 256.1,263 256.6,263.3 257,263.6 257.3,264 257.6,264.5 258,265.2 258.2,265.6 258.4,266 258.8,266.7 259,267.2 259.2,267.6 259.6,268.4 259.8,268.8 260,269.3 260.2,269.9 260.4,270.4 260.6,271.1 260.8,271.9 260.8,272.3 260.9,273.1 260.9,273.9 260.8,274.7 260.7,275.1 260.7,275.9 260.7,276.6 260.8,277.4 260.8,277.8 260.9,278.6 261,279.4 261,280.2 260.8,281 260.7,281.4 260.4,282.1 260.2,282.5 259.9,282.9 259.6,283.3 259.2,283.7 258.8,284.1 258.2,284.5 257.6,284.9 257.2,285.1 256.7,285.3 256.1,285.5 255.4,285.7 254.9,285.8 254.1,285.8 253.3,285.8 252.9,285.7 252.1,285.3 251.7,285.1 251.3,284.7 251,284.1 250.8,283.7 250.6,282.9 250.5,282.5 250.5,281.8 250.5,281.1 250.6,280.6 250.7,279.8 250.9,279.1 251.1,278.6 251.3,278.2 251.7,277.5 252,277 252.3,276.6 252.5,276.2 252.9,275.6 253.1,275.1 253.2,274.3 253.2,273.5 253.1,272.7 253.1,271.9 253.2,271.1 253.3,270.3 253.3,269.9 253.4,269.2 253.6,268.4 253.7,267.9 253.9,267.2 254.1,266.4 254.2,266 254.4,265.2 254.6,264.8 254.9,264.2 255.2,263.6 255.5,263.3" fill="none" stroke="#171717" stroke-width="0.5"/>
<polygon points="256.4,266.4 256.5,266.4 257.1,266.8 257.5,267.2 257.7,267.6 258,268 258.4,268.7 258.7,269.2 258.8,269.6 259.2,270.3 259.3,270.7 259.5,271.5 259.6,271.9 259.7,272.7 259.7,273.5 259.6,274.3 259.6,274.7 259.5,275.5 259.6,275.9 259.8,276.6 260,277.2 260.2,277.8 260.3,278.6 260.4,279 260.4,279.8 260.4,280.5 260.3,281 260,281.8 259.8,282.2 259.6,282.5 259.2,283 258.8,283.5 258.4,283.8 258,284.1 257.3,284.5 256.8,284.8 256.4,284.9 255.7,285.2 254.9,285.3 254.5,285.3 254.1,285.3 253.3,285.2 252.6,284.9 252.1,284.6 251.7,284.2 251.4,283.7 251.3,283.3 251.1,282.5 251,281.8 251,281 251.1,280.2 251.3,279.5 251.5,279 251.7,278.5 252.1,277.8 252.3,277.4 252.6,277 253,276.6 253.3,276.2 253.7,275.7 254.1,275.1 254.3,274.7 254.3,273.9 254.3,273.1 254.2,272.3 254.2,271.5 254.3,270.7 254.4,269.9 254.5,269.6 254.7,268.8 254.9,268.2 255.1,267.6 255.3,267.2 255.7,266.7 256.4,266.4" fill="rgba(0,0,0,0.42)" stroke="#101010" stroke-width="0.5"/>
<polygon points="256.4,270.3 256.8,270.2 257.2,270.5 257.6,271.1 257.8,271.5 258,272.3 257.9,273.1 257.7,273.9 257.6,274.3 257.7,274.7 258,275.3 258.4,275.9 258.7,276.2 258.9,276.6 259.2,277.2 259.5,277.8 259.6,278.2 259.8,279 259.9,279.8 259.8,280.6 259.6,281.4 259.5,281.8 259.2,282.2 258.8,282.7 258.4,283.2 258,283.5 257.6,283.8 257.1,284.1 256.4,284.4 256.1,284.6 255.3,284.7 254.5,284.8 253.7,284.7 253.1,284.5 252.5,284.1 252.1,283.7 251.9,283.3 251.7,282.9 251.6,282.2 251.5,281.4 251.6,280.6 251.7,279.9 251.9,279.4 252.1,278.8 252.4,278.2 252.7,277.8 253,277.4 253.4,277 253.7,276.6 254.2,276.2 254.7,275.9 255.1,275.5 255.6,275.1 256,274.7 256.2,274.3 256.1,273.5 256,273.1 255.8,272.3 255.8,271.5 256,270.7 256.4,270.3" fill="rgba(0,0,0,0.42)" stroke="#0a0a0a" stroke-width="0.5"/>
<polygon points="255.6,276.2 256.1,276.1 256.8,276.1 257.2,276.3 257.8,276.6 258.3,277 258.6,277.4 258.8,277.8 259.2,278.6 259.3,279 259.3,279.8 259.3,280.6 259.2,281 258.9,281.8 258.6,282.2 258.3,282.5 257.9,282.9 257.4,283.3 256.8,283.7 256.4,283.9 255.8,284.1 255.3,284.2 254.5,284.3 253.7,284.1 253.3,284 252.9,283.7 252.5,283.2 252.2,282.5 252.1,282.1 252.1,281.4 252.1,280.7 252.2,280.2 252.4,279.4 252.6,279 252.9,278.5 253.3,277.9 253.7,277.5 254.1,277.1 254.5,276.8 254.9,276.6 255.6,276.2" fill="rgba(0,0,0,0.42)" stroke="#050505" stroke-width="0.5"/>
<polygon points="255.5,277 256.1,276.9 256.8,277 257.2,277.2 257.6,277.4 258,277.8 258.4,278.4 258.6,279 258.7,279.8 258.7,280.6 258.4,281.3 258.2,281.8 257.9,282.2 257.5,282.5 257,282.9 256.4,283.3 256.1,283.5 255.3,283.7 254.9,283.7 254.4,283.7 253.7,283.5 253.3,283.2 252.9,282.7 252.7,282.2 252.6,281.4 252.7,280.6 252.9,279.8 253.1,279.4 253.3,278.9 253.7,278.3 254.1,277.9 254.5,277.6 254.9,277.3 255.5,277" fill="rgba(0,0,0,0.42)" stroke="#000000" stroke-width="0.5"/>
<rect x="240.7" y="229" width="62.6" height="62.6" fill="none" stroke="#6e6e6e" stroke-width="0.9"/>
<g font-size="5.3" fill="#5a6699">
<text x="242.9" y="235.3">18.2</text>
<text x="301.7" y="235.3" text-anchor="end" fill="#5a5f70">1.6</text>
<text x="242.9" y="289.6">78.7</text>
<text x="301.7" y="289.6" text-anchor="end" fill="#5a5f70">1.5</text>
</g>
<g font-size="6.3" fill="#2a2a2a" text-anchor="end">
<text x="237.3" y="237.8">10<tspan font-size="4.5" dy="-2.2">5</tspan></text>
<text x="237.3" y="252.2">10<tspan font-size="4.5" dy="-2.2">4</tspan></text>
<text x="237.3" y="266.3">10<tspan font-size="4.5" dy="-2.2">3</tspan></text>
<text x="237.3" y="281">10<tspan font-size="4.5" dy="-2.2">2</tspan></text>
<text x="235.5" y="287.9">0</text>
</g>
<line x1="239.2" y1="235.8" x2="240.7" y2="235.8" stroke="#444" stroke-width="0.8"/>
<line x1="239.2" y1="250.2" x2="240.7" y2="250.2" stroke="#444" stroke-width="0.8"/>
<line x1="239.2" y1="264.3" x2="240.7" y2="264.3" stroke="#444" stroke-width="0.8"/>
<line x1="239.2" y1="279" x2="240.7" y2="279" stroke="#444" stroke-width="0.8"/>
<line x1="239.2" y1="285.8" x2="240.7" y2="285.8" stroke="#444" stroke-width="0.8"/>
<g font-size="6.3" fill="#2a2a2a">
<text x="245.9" y="302.9">0</text>
<text x="249.6" y="302.9">10<tspan font-size="4.5" dy="-2.2">2</tspan></text>
<text x="265.4" y="302.9">10<tspan font-size="4.5" dy="-2.2">3</tspan></text>
<text x="280" y="302.9">10<tspan font-size="4.5" dy="-2.2">4</tspan></text>
<text x="294" y="302.9">10<tspan font-size="4.5" dy="-2.2">5</tspan></text>
</g>
<line x1="246.9" y1="291.6" x2="246.9" y2="293.1" stroke="#444" stroke-width="0.8"/>
<line x1="253.2" y1="291.6" x2="253.2" y2="293.1" stroke="#444" stroke-width="0.8"/>
<line x1="269.7" y1="291.6" x2="269.7" y2="293.1" stroke="#444" stroke-width="0.8"/>
<line x1="284.3" y1="291.6" x2="284.3" y2="293.1" stroke="#444" stroke-width="0.8"/>
<line x1="298.7" y1="291.6" x2="298.7" y2="293.1" stroke="#444" stroke-width="0.8"/>
</g>
<g>
<line x1="95.3" y1="311.6" x2="95.3" y2="374.2" stroke="#999" stroke-width="0.7"/>
<line x1="71.4" y1="352.9" x2="134" y2="352.9" stroke="#999" stroke-width="0.7"/>
<path d="M98.4 322.2h.7v.7h-.7zM118.7 334.6h.7v.7h-.7zM80.3 348.4h.7v.7h-.7zM116.1 341.9h.7v.7h-.7zM112.9 342.5h.7v.7h-.7zM75.3 326.5h.7v.7h-.7zM109.6 347.3h.7v.7h-.7zM76.4 344.3h.7v.7h-.7zM79.5 362.9h.7v.7h-.7zM94.8 322.3h.7v.7h-.7zM79.3 350.3h.7v.7h-.7zM85.6 368.5h.7v.7h-.7zM109.1 324.1h.7v.7h-.7zM83.6 370.6h.7v.7h-.7zM109.7 352h.7v.7h-.7zM73.5 339.2h.7v.7h-.7zM92.2 321.4h.7v.7h-.7zM117.1 331.9h.7v.7h-.7zM105.6 353.4h.7v.7h-.7zM85 350.8h.7v.7h-.7zM87.4 366h.7v.7h-.7zM75.2 342.1h.7v.7h-.7zM82.1 356h.7v.7h-.7zM81.2 360.4h.7v.7h-.7zM76.8 369h.7v.7h-.7zM100.5 357.2h.7v.7h-.7zM80.8 360.5h.7v.7h-.7zM112 325.3h.7v.7h-.7zM72.8 337.3h.7v.7h-.7zM84.3 349.4h.7v.7h-.7zM81.2 358h.7v.7h-.7zM118.3 336.3h.7v.7h-.7zM107.8 348.9h.7v.7h-.7zM82.4 353.6h.7v.7h-.7zM77.1 370.4h.7v.7h-.7zM117.1 341.3h.7v.7h-.7zM77.4 367.8h.7v.7h-.7zM89.9 321.1h.7v.7h-.7zM75.7 367.1h.7v.7h-.7zM96.8 357.7h.7v.7h-.7zM94.2 361.3h.7v.7h-.7zM117.9 333.9h.7v.7h-.7zM105 352.6h.7v.7h-.7zM77.7 366.1h.7v.7h-.7zM82.7 358.3h.7v.7h-.7zM73.3 328.1h.7v.7h-.7zM101.7 356.9h.7v.7h-.7zM85.6 369.6h.7v.7h-.7zM114.6 341.9h.7v.7h-.7zM72.3 336.3h.7v.7h-.7zM113.5 344.7h.7v.7h-.7zM91.8 360.4h.7v.7h-.7zM80.7 360.5h.7v.7h-.7zM116.4 334.1h.7v.7h-.7zM116.1 337.8h.7v.7h-.7zM78.8 365.7h.7v.7h-.7zM117.6 330.9h.7v.7h-.7zM113.3 342.4h.7v.7h-.7zM79.8 357.2h.7v.7h-.7zM106 351.7h.7v.7h-.7zM116.9 342.9h.7v.7h-.7zM109 347.5h.7v.7h-.7zM76.6 369.3h.7v.7h-.7zM115.9 336.1h.7v.7h-.7zM96.5 321.7h.7v.7h-.7zM86.6 320.5h.7v.7h-.7zM72.1 328.6h.7v.7h-.7zM117.9 330.6h.7v.7h-.7zM117.7 335.6h.7v.7h-.7zM98.6 358h.7v.7h-.7zM76.7 323.7h.7v.7h-.7zM78 324.3h.7v.7h-.7zM104.7 353.7h.7v.7h-.7zM103.2 355.5h.7v.7h-.7zM77.2 324.7h.7v.7h-.7zM100.2 362.7h.7v.7h-.7zM88.9 319.7h.7v.7h-.7zM86.2 371.1h.7v.7h-.7zM106.4 323.2h.7v.7h-.7zM111.7 324.3h.7v.7h-.7zM96.3 321.4h.7v.7h-.7zM73.3 328.4h.7v.7h-.7zM99.1 359.1h.7v.7h-.7zM102.2 356.3h.7v.7h-.7zM88.3 365.5h.7v.7h-.7zM81 321.4h.7v.7h-.7zM105.7 321.9h.7v.7h-.7zM77.2 344.5h.7v.7h-.7zM97.3 319h.7v.7h-.7zM82.9 355.8h.7v.7h-.7zM73.8 342.6h.7v.7h-.7zM75.4 326.5h.7v.7h-.7zM111.5 345.9h.7v.7h-.7zM102.7 355.7h.7v.7h-.7zM78.8 364.8h.7v.7h-.7zM97.3 357.4h.7v.7h-.7zM80.9 321.3h.7v.7h-.7zM95.3 358.1h.7v.7h-.7zM81.7 351h.7v.7h-.7zM117.2 332.2h.7v.7h-.7zM115.2 339.5h.7v.7h-.7zM99 358.1h.7v.7h-.7zM107.4 324.3h.7v.7h-.7zM84.5 319.7h.7v.7h-.7zM87.6 366.5h.7v.7h-.7zM78.7 346.6h.7v.7h-.7zM94.1 322.1h.7v.7h-.7zM103.8 359.6h.7v.7h-.7zM114.4 340.6h.7v.7h-.7zM90 319.9h.7v.7h-.7zM76.4 325.9h.7v.7h-.7zM103 320.6h.7v.7h-.7zM77.2 367.6h.7v.7h-.7zM111.9 343.2h.7v.7h-.7zM101.5 322.8h.7v.7h-.7zM76.1 324.1h.7v.7h-.7zM80.4 322.3h.7v.7h-.7zM97.8 361.1h.7v.7h-.7zM85.6 319.3h.7v.7h-.7zM84.9 320.4h.7v.7h-.7zM78 344.6h.7v.7h-.7zM104.9 357.5h.7v.7h-.7zM85.9 368h.7v.7h-.7zM94.3 359.9h.7v.7h-.7zM104.7 353h.7v.7h-.7zM76.7 371.4h.7v.7h-.7zM110 325h.7v.7h-.7zM76.2 345.3h.7v.7h-.7zM83.9 322.5h.7v.7h-.7zM73.3 324.4h.7v.7h-.7zM78 366.1h.7v.7h-.7zM73 345.1h.7v.7h-.7zM111.7 325.2h.7v.7h-.7zM118.4 328.1h.7v.7h-.7zM75 323.8h.7v.7h-.7zM79.3 364.4h.7v.7h-.7zM103 355.4h.7v.7h-.7zM102.3 321.4h.7v.7h-.7zM89.4 319.9h.7v.7h-.7zM74.2 321.8h.7v.7h-.7zM87.5 321.8h.7v.7h-.7zM76.3 372.3h.7v.7h-.7zM76 325.8h.7v.7h-.7zM115 342.2h.7v.7h-.7zM105 323.5h.7v.7h-.7zM78.1 344.8h.7v.7h-.7zM89.2 365.1h.7v.7h-.7zM84 371.1h.7v.7h-.7zM104 354.1h.7v.7h-.7zM83.1 320.6h.7v.7h-.7zM81.4 347.3h.7v.7h-.7zM75.7 326h.7v.7h-.7zM90.4 362.2h.7v.7h-.7zM113 343.1h.7v.7h-.7zM72.9 324.2h.7v.7h-.7zM80.9 359.1h.7v.7h-.7zM96.4 358.6h.7v.7h-.7zM105.5 351.8h.7v.7h-.7zM113.8 339.5h.7v.7h-.7zM80.2 323.3h.7v.7h-.7zM73.6 330.2h.7v.7h-.7zM84.3 350.9h.7v.7h-.7zM114.7 337.9h.7v.7h-.7zM93.8 318.5h.7v.7h-.7zM105.1 359.8h.7v.7h-.7zM99.2 358.2h.7v.7h-.7zM84.2 350.9h.7v.7h-.7zM90.2 362.5h.7v.7h-.7zM83.5 322h.7v.7h-.7zM119.1 331.8h.7v.7h-.7zM72.5 338.5h.7v.7h-.7zM79.5 362.8h.7v.7h-.7zM79.6 323.9h.7v.7h-.7zM117 332.3h.7v.7h-.7zM103.3 319h.7v.7h-.7zM92.2 319.3h.7v.7h-.7zM106.7 323.6h.7v.7h-.7zM76 344.2h.7v.7h-.7zM79.1 349.9h.7v.7h-.7zM95.6 358.4h.7v.7h-.7zM84.8 349.6h.7v.7h-.7zM118.5 326.8h.7v.7h-.7zM83.7 351.6h.7v.7h-.7zM75.7 326.9h.7v.7h-.7zM105.4 354.7h.7v.7h-.7zM85 320.3h.7v.7h-.7zM116.1 336.8h.7v.7h-.7zM105.3 352.9h.7v.7h-.7zM80.7 361.9h.7v.7h-.7zM80.3 320.5h.7v.7h-.7zM111.6 345.2h.7v.7h-.7zM73.9 327.9h.7v.7h-.7zM83.1 354.7h.7v.7h-.7zM109.2 324.8h.7v.7h-.7zM85.7 350.4h.7v.7h-.7zM91.3 360.3h.7v.7h-.7zM112 345.3h.7v.7h-.7zM90.4 320.4h.7v.7h-.7zM115.2 338.5h.7v.7h-.7zM87.6 321.1h.7v.7h-.7zM79.4 322.1h.7v.7h-.7zM90.2 320.7h.7v.7h-.7zM82.4 351.4h.7v.7h-.7zM86.9 366.6h.7v.7h-.7zM119.4 330.9h.7v.7h-.7zM81.7 321.1h.7v.7h-.7zM107.7 324.6h.7v.7h-.7zM103.4 322.7h.7v.7h-.7zM113.1 348.6h.7v.7h-.7zM79.5 346.4h.7v.7h-.7zM84 371h.7v.7h-.7zM83.2 348h.7v.7h-.7zM111.2 346.9h.7v.7h-.7zM88.3 365.3h.7v.7h-.7zM85 351.2h.7v.7h-.7zM83.9 351.9h.7v.7h-.7zM109.8 324.7h.7v.7h-.7zM76.4 366.1h.7v.7h-.7zM89.7 321.6h.7v.7h-.7zM105.7 354.2h.7v.7h-.7zM73.5 338.4h.7v.7h-.7zM91.6 364.8h.7v.7h-.7zM83.9 349.4h.7v.7h-.7zM90.8 320.6h.7v.7h-.7zM118.5 324.5h.7v.7h-.7zM81.5 347.6h.7v.7h-.7zM82.4 358.9h.7v.7h-.7zM112.9 346.4h.7v.7h-.7zM76.2 344.6h.7v.7h-.7zM80.5 323h.7v.7h-.7zM99.8 357.3h.7v.7h-.7zM117.8 331.5h.7v.7h-.7zM86.9 321.7h.7v.7h-.7zM109.5 325h.7v.7h-.7zM75.7 342.6h.7v.7h-.7zM76.6 365.4h.7v.7h-.7zM99.5 321.7h.7v.7h-.7zM105.7 322.9h.7v.7h-.7zM85.1 353.3h.7v.7h-.7zM116.9 332.8h.7v.7h-.7zM76 365h.7v.7h-.7zM101.7 358.8h.7v.7h-.7zM96.9 320.8h.7v.7h-.7zM104.4 353.8h.7v.7h-.7zM115.7 334.8h.7v.7h-.7zM77.5 366.9h.7v.7h-.7zM85.1 351.9h.7v.7h-.7zM75.7 326.3h.7v.7h-.7zM85.2 371.6h.7v.7h-.7zM84.1 355.1h.7v.7h-.7zM83.5 349.4h.7v.7h-.7zM81.3 359.7h.7v.7h-.7zM76.8 369.6h.7v.7h-.7zM80.7 356h.7v.7h-.7zM103.5 354.5h.7v.7h-.7zM108.7 350h.7v.7h-.7zM108.6 349h.7v.7h-.7zM99 358.1h.7v.7h-.7zM109.6 347.4h.7v.7h-.7zM77.3 325.1h.7v.7h-.7zM129.1 337.6h.7v.7h-.7zM111.6 322.2h.7v.7h-.7zM130.5 342.9h.7v.7h-.7zM123.8 354.1h.7v.7h-.7zM110.5 343.7h.7v.7h-.7zM107.5 343.9h.7v.7h-.7zM115.8 344.3h.7v.7h-.7zM99.8 345.3h.7v.7h-.7zM98.6 349.6h.7v.7h-.7zM100.8 345.5h.7v.7h-.7zM96.1 353.4h.7v.7h-.7zM104.9 349h.7v.7h-.7zM100.9 328.3h.7v.7h-.7zM114.4 363.1h.7v.7h-.7zM105.5 346.4h.7v.7h-.7zM116 344.4h.7v.7h-.7zM104.1 330.2h.7v.7h-.7zM101.5 357.1h.7v.7h-.7zM109.2 324.1h.7v.7h-.7zM103.1 347.6h.7v.7h-.7zM101.6 330h.7v.7h-.7zM115.7 330.8h.7v.7h-.7zM99.5 347.5h.7v.7h-.7zM107.5 343.7h.7v.7h-.7zM105.7 349.4h.7v.7h-.7zM98 342.9h.7v.7h-.7zM99.5 333h.7v.7h-.7zM105.6 352h.7v.7h-.7zM114.2 352h.7v.7h-.7zM104.1 340.3h.7v.7h-.7zM104.4 343.5h.7v.7h-.7zM97.7 341.3h.7v.7h-.7zM107.4 335.4h.7v.7h-.7zM102.5 344.9h.7v.7h-.7zM114.5 337.8h.7v.7h-.7zM102.1 353.4h.7v.7h-.7zM120.5 366.6h.7v.7h-.7zM94.8 357.7h.7v.7h-.7zM100.8 340.2h.7v.7h-.7zM109.1 337.8h.7v.7h-.7zM112.6 343.4h.7v.7h-.7zM93.2 362.1h.7v.7h-.7zM94.4 363.7h.7v.7h-.7zM108.2 347.6h.7v.7h-.7zM99.1 343.5h.7v.7h-.7zM113.4 352.2h.7v.7h-.7zM103.3 328.6h.7v.7h-.7zM101.6 356.5h.7v.7h-.7zM104.6 335.8h.7v.7h-.7zM91.8 335.5h.7v.7h-.7zM106.1 349h.7v.7h-.7zM103.1 349.5h.7v.7h-.7zM106.7 339.5h.7v.7h-.7zM112.9 358.7h.7v.7h-.7zM110 349.4h.7v.7h-.7zM80.1 362.1h.7v.7h-.7zM84.9 369.6h.7v.7h-.7zM89.3 362.1h.7v.7h-.7zM85.7 372.5h.7v.7h-.7zM81.1 352.2h.7v.7h-.7zM83.3 359.6h.7v.7h-.7zM82.4 363.1h.7v.7h-.7zM86.8 363.8h.7v.7h-.7zM88.2 349.2h.7v.7h-.7zM84.3 371.2h.7v.7h-.7zM79.5 372.6h.7v.7h-.7zM75.2 354h.7v.7h-.7zM88 352.4h.7v.7h-.7zM86.7 359.6h.7v.7h-.7zM80.4 368.2h.7v.7h-.7zM83 364.1h.7v.7h-.7zM79.8 345.3h.7v.7h-.7zM81.8 364h.7v.7h-.7zM87.8 363.3h.7v.7h-.7z" fill="#bcbcbc"/>
<polygon points="84.8,322.6 85.6,322.5 86.4,322.4 87.1,322.3 87.9,322.3 88.7,322.3 89.5,322.3 90.3,322.3 91.1,322.3 91.9,322.4 92.7,322.4 93.4,322.5 94.2,322.6 94.6,322.7 95.4,322.7 96.2,322.8 97,323 97.4,323 98.2,323.1 99,323.2 99.7,323.3 100.5,323.4 100.9,323.4 101.7,323.5 102.5,323.6 103.3,323.7 103.8,323.8 104.5,323.9 105.3,324.1 105.8,324.2 106.4,324.3 107.2,324.6 107.6,324.7 108.4,324.9 108.8,325 109.6,325.2 110.4,325.4 110.8,325.4 111.6,325.5 112.3,325.6 113.1,325.7 113.5,325.8 114.3,325.9 115.1,326.2 115.5,326.3 116,326.6 116.6,327 117,327.3 117.3,327.7 117.6,328.1 117.8,328.9 117.9,329.3 117.9,330.1 117.8,330.5 117.7,331.3 117.5,331.8 117.2,332.5 117,332.9 116.7,333.4 116.3,334 116.1,334.4 115.9,334.9 115.6,335.6 115.5,336 115.2,336.8 115.1,337.2 114.9,338 114.7,338.6 114.6,339.2 114.3,339.8 114.1,340.3 113.9,340.8 113.6,341.5 113.4,341.9 113.1,342.4 112.7,343 112.4,343.5 112.1,343.9 111.9,344.3 111.5,344.7 111.2,345.1 110.8,345.6 110.4,346.1 110,346.5 109.6,346.9 109.2,347.4 108.8,347.8 108.5,348.2 108.2,348.6 107.9,349 107.6,349.4 107.2,350 106.9,350.6 106.6,351 106.4,351.4 106,352 105.7,352.5 105.5,352.9 105.2,353.3 104.9,353.9 104.5,354.4 104.1,354.9 103.7,355.3 103.3,355.7 102.9,356 102.5,356.3 102.1,356.6 101.5,356.9 100.9,357.2 100.5,357.3 99.7,357.5 99,357.7 98.6,357.7 97.8,357.7 97,357.7 96.2,357.8 95.4,357.9 94.8,358.1 94.2,358.3 93.8,358.6 93.4,358.9 93.1,359.2 92.7,359.7 92.3,360.1 91.9,360.6 91.5,361 91.1,361.5 90.7,362 90.4,362.4 90.1,362.8 89.8,363.2 89.5,363.7 89.1,364.2 88.7,364.7 88.4,365.1 88.1,365.5 87.8,365.9 87.5,366.3 87.1,366.8 86.8,367.4 86.4,367.9 86.1,368.3 85.8,368.7 85.5,369.1 85.2,369.5 84.8,370 84.4,370.5 84,371 83.7,371.4 83.4,371.8 83.1,372.2 82.7,372.6 82.2,373 81.6,373.4 81.2,373.5 80.5,373.6 79.7,373.5 79.3,373.4 78.6,373 78.2,372.6 77.9,372.2 77.7,371.8 77.4,371.1 77.4,370.3 77.5,369.5 77.7,369 78,368.3 78.2,367.9 78.5,367.5 78.9,366.7 79,366.3 79.3,365.8 79.6,365.1 79.8,364.8 80.1,364.2 80.4,363.6 80.6,363.2 80.8,362.8 81.2,362 81.4,361.6 81.6,361.2 82,360.4 82.2,360 82.4,359.6 82.8,358.9 83.1,358.5 83.3,358.1 83.6,357.4 83.8,356.9 84,356.5 84.4,355.8 84.6,355.3 84.8,354.9 85.2,354.2 85.4,353.7 85.6,353.3 85.8,352.5 86,352 86,351.4 86,350.6 85.8,350.2 85.6,349.8 85.1,349.4 84.6,349 84,348.7 83.6,348.5 83.1,348.2 82.4,347.9 82,347.7 81.6,347.4 81,347 80.5,346.7 80.1,346.5 79.7,346.2 79.2,345.9 78.7,345.5 78.3,345.1 77.8,344.7 77.4,344.3 77,343.9 76.6,343.5 76.3,343.1 75.9,342.7 75.6,342.3 75.3,341.9 74.9,341.3 74.6,340.7 74.4,340.3 74.2,339.9 73.8,339.2 73.7,338.8 73.4,338 73.3,337.6 73.1,336.8 73,336 73,335.6 72.9,334.8 73,334 73,333.6 73.1,332.9 73.3,332.1 73.4,331.7 73.7,330.9 73.8,330.5 74.2,329.8 74.4,329.3 74.7,328.9 74.9,328.5 75.3,328 75.7,327.5 76.1,327 76.5,326.6 76.9,326.3 77.3,325.9 77.7,325.6 78.1,325.3 78.6,325 79.2,324.6 79.7,324.3 80.1,324.1 80.8,323.8 81.2,323.6 81.7,323.4 82.4,323.2 83,323 83.6,322.9 84.4,322.7 84.8,322.6" fill="none" stroke="#505050" stroke-width="0.5"/>
<polygon points="86,324.2 86.4,324.2 87.1,324.1 87.9,324.1 88.7,324.1 89.5,324.1 90.3,324.2 91,324.2 91.5,324.2 92.3,324.3 93.1,324.4 93.8,324.5 94.6,324.6 95,324.6 95.8,324.7 96.6,324.8 97.4,324.9 98,325 98.6,325.1 99.4,325.1 100.1,325.2 100.9,325.3 101.3,325.4 102.1,325.5 102.9,325.6 103.7,325.8 104.1,325.8 104.9,326 105.5,326.2 106,326.3 106.8,326.5 107.2,326.6 108,326.8 108.7,327 109.2,327 110,327.1 110.8,327.1 111.6,327.2 112.3,327.3 112.9,327.3 113.5,327.5 114.2,327.7 114.7,328 115.1,328.3 115.5,328.7 115.8,329.3 115.9,329.7 115.9,330.5 115.9,330.9 115.6,331.7 115.5,332.1 115.1,332.8 114.8,333.3 114.6,333.6 114.3,334.1 113.9,334.8 113.7,335.2 113.5,335.6 113.2,336.4 113.1,336.8 112.8,337.6 112.7,338 112.5,338.8 112.3,339.2 112,339.9 111.8,340.3 111.6,340.9 111.2,341.5 111,341.9 110.7,342.3 110.4,342.8 110,343.4 109.6,343.9 109.2,344.3 108.9,344.7 108.6,345.1 108.2,345.5 107.8,345.9 107.5,346.2 107.1,346.6 106.8,347 106.4,347.5 106,348 105.7,348.5 105.3,349 105,349.4 104.8,349.8 104.5,350.3 104.1,350.9 103.7,351.4 103.5,351.8 103.2,352.2 102.8,352.5 102.5,352.9 102,353.3 101.5,353.7 100.9,354.1 100.5,354.3 100.1,354.5 99.4,354.8 98.8,354.9 98.2,355 97.4,355.1 96.6,355.2 95.8,355.3 95.4,355.4 94.7,355.7 94.2,355.9 93.8,356.2 93.4,356.5 92.9,356.9 92.4,357.3 92,357.7 91.7,358.1 91.3,358.5 91,358.8 90.7,359.3 90.3,359.7 89.9,360.2 89.5,360.7 89.1,361.1 88.8,361.6 88.5,362 88.2,362.4 87.9,362.8 87.5,363.3 87.1,363.8 86.8,364.3 86.4,364.7 86,365.1 85.6,365.5 85.4,365.9 85.1,366.3 84.8,366.8 84.4,367.3 84,367.7 83.6,368.1 83.2,368.4 82.8,368.8 82.4,369.1 82,369.6 81.6,370.1 81.2,370.5 80.8,370.8 80.3,370.7 80.1,370.3 80.1,369.9 80.4,369.1 80.6,368.7 80.8,368 81,367.5 81.2,366.7 81.3,366.3 81.6,365.5 81.8,365.1 82,364.7 82.4,364 82.6,363.6 82.8,363.2 83.1,362.4 83.3,362 83.6,361.2 83.8,360.8 84,360.4 84.4,359.7 84.7,359.2 84.9,358.8 85.2,358.2 85.4,357.7 85.6,357.3 85.9,356.5 86.1,356.1 86.4,355.7 86.8,354.9 86.9,354.5 87.1,354 87.4,353.3 87.6,352.9 87.8,352.2 87.9,351.6 88.1,351 88.1,350.2 88,349.4 87.8,349 87.5,348.6 87.1,348.2 86.6,347.8 86,347.4 85.6,347.2 85.2,347 84.4,346.6 84,346.4 83.6,346.2 83,345.9 82.4,345.5 82,345.3 81.6,345 81.2,344.7 80.7,344.3 80.2,343.9 79.8,343.5 79.4,343.1 79,342.7 78.6,342.3 78.3,341.9 78,341.5 77.7,341.1 77.3,340.6 76.9,339.9 76.7,339.6 76.5,339.1 76.2,338.4 76.1,338 75.8,337.2 75.7,336.8 75.6,336 75.5,335.2 75.5,334.4 75.5,333.6 75.7,332.9 75.7,332.5 75.9,331.7 76.1,331.1 76.4,330.5 76.6,330.1 76.9,329.5 77.3,328.9 77.5,328.5 77.8,328.1 78.2,327.7 78.6,327.3 79,327 79.5,326.6 80.1,326.2 80.5,325.9 80.8,325.7 81.5,325.4 82,325.1 82.4,325 83.2,324.7 83.7,324.6 84.4,324.4 85.2,324.3 86,324.2" fill="none" stroke="#333333" stroke-width="0.5"/>
<polygon points="84.3,325.8 84.8,325.7 85.6,325.5 86.4,325.5 87.1,325.4 87.9,325.4 88.7,325.4 89.5,325.5 90.3,325.6 91.1,325.6 91.9,325.7 92.3,325.8 93.1,325.9 93.8,325.9 94.6,326 95.4,326.1 95.8,326.2 96.6,326.3 97.4,326.4 98.2,326.5 98.7,326.6 99.4,326.6 100.1,326.7 100.9,326.8 101.7,327 102.1,327 102.9,327.2 103.7,327.3 104.1,327.4 104.9,327.6 105.3,327.7 106,328 106.7,328.1 107.2,328.3 108,328.4 108.8,328.5 109.2,328.5 110,328.6 110.8,328.6 111.6,328.7 112.3,328.9 112.7,329 113.3,329.3 113.7,329.7 113.9,330.2 114,330.9 113.9,331.4 113.7,332.1 113.5,332.5 113.1,333.1 112.8,333.6 112.5,334 112.3,334.4 112,335.1 111.7,335.6 111.6,336.1 111.3,336.8 111.2,337.4 111,338 110.8,338.6 110.6,339.2 110.4,339.6 110,340.3 109.8,340.7 109.6,341.1 109.2,341.7 108.8,342.3 108.5,342.7 108.2,343.1 107.8,343.5 107.5,343.9 107.1,344.3 106.8,344.7 106.4,345.1 106,345.5 105.7,345.9 105.3,346.3 104.9,346.7 104.5,347.2 104.1,347.7 103.7,348.2 103.3,348.6 103,349 102.7,349.4 102.4,349.8 102,350.2 101.7,350.6 101.2,351 100.8,351.4 100.2,351.8 99.7,352 99.4,352.2 98.6,352.5 98.2,352.6 97.4,352.8 96.6,352.9 96.2,353 95.4,353.2 95,353.4 94.2,353.7 93.8,353.9 93.3,354.1 92.7,354.5 92.3,354.8 91.9,355 91.3,355.3 90.7,355.6 90.3,355.8 89.5,355.8 89.4,355.3 89.4,354.5 89.4,353.7 89.5,353.3 89.7,352.5 89.8,351.8 89.9,351.2 90,350.6 89.9,349.8 89.9,349.4 89.7,348.6 89.5,348.2 89.1,347.6 88.7,347.3 88.3,346.9 87.9,346.6 87.1,346.3 86.8,346.1 86.4,345.9 85.6,345.5 85.2,345.3 84.8,345 84.2,344.7 83.6,344.3 83.2,344.1 82.8,343.8 82.4,343.5 81.9,343.1 81.5,342.7 81,342.3 80.7,341.9 80.3,341.5 80,341.1 79.7,340.7 79.3,340.2 78.9,339.6 78.7,339.2 78.5,338.8 78.1,338 78,337.6 77.7,336.8 77.6,336.4 77.5,335.6 77.4,334.8 77.4,334 77.4,333.3 77.5,332.5 77.7,331.8 77.9,331.3 78.1,330.7 78.4,330.1 78.6,329.7 78.9,329.3 79.3,328.7 79.7,328.3 80.1,327.9 80.5,327.6 80.8,327.3 81.4,327 82,326.6 82.4,326.4 83,326.2 83.6,325.9 84.3,325.8" fill="none" stroke="#282828" stroke-width="0.5"/>
<polygon points="84.3,327 84.8,326.8 85.6,326.7 86.4,326.6 87.1,326.6 87.9,326.6 88.7,326.7 89.5,326.7 90.3,326.8 91.1,326.9 91.5,327 92.3,327.1 93.1,327.2 93.8,327.3 94.3,327.3 95,327.4 95.8,327.5 96.6,327.6 97.4,327.7 97.8,327.8 98.6,327.9 99.4,328 100.1,328.1 100.5,328.1 101.3,328.3 102.1,328.4 102.6,328.5 103.3,328.7 104.1,328.9 104.5,329 105.3,329.3 105.7,329.4 106.4,329.6 106.8,329.8 107.6,330 108.4,330.1 108.8,330.2 109.6,330.3 110.4,330.5 110.8,330.7 111.2,331 111.4,331.7 111.3,332.5 111.1,332.9 110.8,333.6 110.6,334 110.4,334.6 110.2,335.2 110,335.8 109.8,336.4 109.6,337.2 109.5,337.6 109.2,338.4 109.1,338.8 108.8,339.5 108.6,339.9 108.4,340.3 108,340.9 107.6,341.5 107.3,341.9 107,342.3 106.7,342.7 106.3,343.1 105.9,343.5 105.6,343.9 105.2,344.3 104.8,344.7 104.4,345.1 104,345.5 103.5,345.9 103.1,346.2 102.7,346.6 102.3,347 101.9,347.4 101.5,347.8 101,348.2 100.5,348.6 100.1,348.9 99.7,349.2 99.3,349.4 98.6,349.8 98.2,350 97.6,350.2 97,350.4 96.4,350.6 95.8,350.8 95,350.9 94.6,351 93.8,351.1 93.3,351 92.7,350.6 92.4,350.2 92.2,349.8 92,349 91.8,348.6 91.5,347.8 91.3,347.4 91,347 90.6,346.6 90.1,346.2 89.5,345.9 89.1,345.6 88.7,345.4 88,345.1 87.5,344.9 87.1,344.7 86.4,344.3 86,344 85.6,343.8 85,343.5 84.4,343.1 84,342.8 83.6,342.5 83.2,342.2 82.8,341.8 82.4,341.4 82,341 81.6,340.6 81.2,340.1 80.9,339.6 80.6,339.2 80.4,338.8 80.1,338.1 79.8,337.6 79.7,337.2 79.4,336.4 79.3,335.9 79.1,335.2 79,334.4 79,333.6 79,332.9 79.2,332.1 79.3,331.6 79.5,330.9 79.7,330.5 80.1,329.9 80.5,329.4 80.8,328.9 81.2,328.5 81.6,328.2 82,327.9 82.4,327.7 83.2,327.3 83.6,327.2 84.3,327" fill="none" stroke="#1f1f1f" stroke-width="0.5"/>
<polygon points="85.5,327.7 86,327.7 86.8,327.6 87.5,327.6 88.3,327.7 88.9,327.7 89.5,327.8 90.3,327.9 91.1,328.1 91.5,328.1 92.3,328.2 93.1,328.4 93.8,328.5 94.3,328.5 95,328.6 95.8,328.7 96.6,328.8 97.4,328.9 97.8,329 98.6,329.1 99.4,329.2 100.1,329.3 100.5,329.4 101.3,329.5 102.1,329.7 102.5,329.8 103.3,330 103.7,330.1 104.5,330.4 104.9,330.6 105.6,330.9 106,331.1 106.5,331.3 107.2,331.7 107.6,331.9 108,332.3 108.4,332.8 108.6,333.3 108.6,334 108.6,334.8 108.5,335.6 108.4,336 108.2,336.8 108.1,337.6 107.9,338 107.6,338.8 107.5,339.2 107.2,339.7 106.8,340.3 106.6,340.7 106.3,341.1 106,341.5 105.7,341.9 105.3,342.4 104.9,342.8 104.5,343.2 104.1,343.5 103.7,343.9 103.2,344.3 102.8,344.7 102.3,345.1 101.8,345.5 101.3,345.8 100.9,346.1 100.5,346.3 100,346.6 99.4,346.9 99,347.1 98.2,347.3 97.8,347.4 97,347.6 96.2,347.6 95.4,347.6 94.8,347.4 94.2,347.2 93.8,346.9 93.4,346.6 92.9,346.2 92.3,345.9 91.9,345.6 91.5,345.4 90.9,345.1 90.3,344.8 89.9,344.6 89.3,344.3 88.7,344 88.3,343.8 87.6,343.5 87.1,343.2 86.8,343 86.2,342.7 85.6,342.3 85.2,342 84.8,341.7 84.4,341.4 84,341 83.6,340.6 83.2,340.2 82.8,339.8 82.4,339.2 82.1,338.8 81.9,338.4 81.6,338 81.3,337.2 81.1,336.8 80.8,336.2 80.7,335.6 80.5,334.8 80.4,334.4 80.3,333.6 80.4,332.9 80.5,332.2 80.6,331.7 80.8,331 81.1,330.5 81.4,330.1 81.7,329.7 82.1,329.3 82.5,328.9 83.2,328.5 83.6,328.3 84,328.1 84.8,327.9 85.5,327.7" fill="none" stroke="#171717" stroke-width="0.5"/>
<polygon points="84.9,328.9 85.6,328.8 86.4,328.7 87.1,328.6 87.9,328.7 88.7,328.8 89.5,328.9 89.9,328.9 90.7,329.1 91.5,329.2 92,329.3 92.7,329.4 93.4,329.5 94.2,329.6 94.9,329.7 95.4,329.8 96.2,329.9 97,330 97.8,330.1 98.2,330.1 99,330.2 99.7,330.4 100.4,330.5 100.9,330.6 101.7,330.8 102.1,330.9 102.9,331.2 103.3,331.3 104.1,331.7 104.5,331.9 104.9,332.1 105.4,332.5 105.8,332.9 106.2,333.3 106.5,333.6 106.8,334.4 106.9,334.8 106.9,335.6 106.9,336.4 106.8,336.8 106.7,337.6 106.4,338.3 106.3,338.8 106,339.2 105.7,339.9 105.4,340.3 105.1,340.7 104.8,341.1 104.4,341.5 104,341.9 103.6,342.3 103.2,342.7 102.7,343.1 102.2,343.5 101.7,343.8 101.3,344.1 100.9,344.3 100.3,344.7 99.7,344.9 99.4,345.1 98.6,345.3 97.8,345.5 97.4,345.5 96.6,345.5 96.2,345.4 95.4,345.3 94.6,345.1 94.2,345 93.4,344.7 93.1,344.6 92.4,344.3 91.9,344.1 91.4,343.9 90.7,343.6 90.3,343.4 89.5,343.1 89.1,342.9 88.7,342.7 87.9,342.3 87.5,342.1 87.1,341.8 86.7,341.5 86.1,341.1 85.6,340.7 85.2,340.3 84.8,340 84.4,339.6 84.1,339.2 83.8,338.8 83.5,338.4 83.2,337.9 82.8,337.3 82.6,336.8 82.4,336.4 82.1,335.6 81.9,335.2 81.7,334.4 81.6,333.7 81.6,333.3 81.6,332.7 81.7,332.1 82,331.3 82.2,330.9 82.5,330.5 82.9,330.1 83.3,329.7 83.9,329.3 84.4,329.1 84.9,328.9" fill="rgba(0,0,0,0.32)" stroke="#101010" stroke-width="0.5"/>
<polygon points="86.8,329.7 87.3,329.7 87.9,329.7 88.7,329.8 89.5,330 90.2,330.1 90.7,330.2 91.5,330.3 92.3,330.5 92.7,330.5 93.4,330.6 94.2,330.7 95,330.8 95.6,330.9 96.2,331 97,331.1 97.8,331.2 98.6,331.3 99,331.4 99.7,331.5 100.5,331.7 100.9,331.8 101.7,332.1 102.1,332.2 102.7,332.5 103.3,332.8 103.7,333.1 104.1,333.4 104.5,333.8 104.9,334.3 105.1,334.8 105.3,335.2 105.4,336 105.4,336.8 105.3,337.5 105.1,338 104.9,338.7 104.6,339.2 104.4,339.6 104.1,340 103.7,340.5 103.3,340.9 102.9,341.3 102.5,341.7 102.1,342 101.7,342.3 101.1,342.7 100.5,343 100.1,343.2 99.5,343.5 99,343.7 98.2,343.9 97.8,343.9 97,344 96.2,343.9 95.8,343.9 95,343.7 94.2,343.6 93.8,343.4 93.1,343.2 92.7,343.1 91.9,342.8 91.5,342.6 90.7,342.3 90.3,342.2 89.8,341.9 89.1,341.6 88.7,341.4 88.3,341.1 87.7,340.7 87.2,340.3 86.8,340 86.4,339.7 86,339.3 85.6,338.8 85.2,338.4 84.9,338 84.6,337.6 84.4,337.2 84,336.5 83.7,336 83.5,335.6 83.2,334.8 83.1,334.4 83,333.6 83,332.9 83.1,332.1 83.3,331.7 83.6,331.1 84,330.7 84.4,330.4 85,330.1 85.6,329.9 86.4,329.7 86.8,329.7" fill="rgba(0,0,0,0.32)" stroke="#0a0a0a" stroke-width="0.5"/>
<polygon points="85.7,331.3 86.4,331 87.1,330.9 87.9,330.9 88.7,331 89.5,331.2 90.2,331.3 90.7,331.4 91.5,331.5 92.3,331.6 92.9,331.7 93.4,331.7 94.2,331.8 95,331.9 95.8,332 96.6,332.1 97,332.1 97.8,332.2 98.6,332.4 99,332.5 99.7,332.7 100.4,332.9 100.9,333 101.4,333.3 102.1,333.6 102.5,333.9 102.9,334.3 103.3,334.7 103.6,335.2 103.8,335.6 103.9,336.4 103.9,337.2 103.7,338 103.6,338.4 103.3,338.9 102.9,339.5 102.6,339.9 102.2,340.3 101.8,340.7 101.3,341.1 100.9,341.4 100.5,341.6 100,341.9 99.4,342.2 99,342.3 98.2,342.5 97.4,342.6 96.6,342.6 95.8,342.6 95,342.5 94.2,342.3 93.8,342.2 93.1,342 92.7,341.9 91.9,341.6 91.5,341.4 90.8,341.1 90.3,340.9 89.9,340.7 89.3,340.3 88.7,340 88.3,339.7 87.9,339.3 87.5,339 87.1,338.6 86.8,338.1 86.4,337.6 86,337.2 85.8,336.8 85.5,336.4 85.2,335.8 84.9,335.2 84.8,334.8 84.5,334 84.4,333.3 84.6,332.5 84.8,332.1 85.2,331.6 85.7,331.3" fill="rgba(0,0,0,0.32)" stroke="#b0b0b0" stroke-width="0.5"/>
<polygon points="87,332.9 87.5,332.6 88.3,332.5 89.1,332.5 89.9,332.6 90.7,332.6 91.5,332.7 92.3,332.8 93.1,332.8 93.7,332.9 94.2,332.9 95,333 95.8,333 96.6,333.1 97.3,333.3 97.8,333.3 98.6,333.5 99.1,333.6 99.7,333.9 100.2,334 100.9,334.4 101.3,334.7 101.7,335.1 102.1,335.6 102.3,336 102.4,336.8 102.3,337.6 102.1,338.3 101.8,338.8 101.6,339.2 101.2,339.6 100.8,339.9 100.3,340.3 99.7,340.7 99.4,340.9 98.6,341.1 98.2,341.3 97.4,341.4 96.6,341.4 95.8,341.4 95,341.3 94.2,341.2 93.8,341.1 93.1,340.8 92.7,340.7 91.9,340.4 91.5,340.2 91,339.9 90.3,339.6 89.9,339.3 89.5,339 89.1,338.6 88.7,338.3 88.3,337.8 87.9,337.3 87.6,336.8 87.3,336.4 87.1,336 86.8,335.2 86.6,334.8 86.5,334 86.6,333.3 87,332.9" fill="rgba(0,0,0,0.32)" stroke="#000000" stroke-width="0.5"/>
<rect x="71.4" y="311.6" width="62.6" height="62.6" fill="none" stroke="#6e6e6e" stroke-width="0.9"/>
<g font-size="5.3" fill="#5a6699">
<text x="73.6" y="317.9">46.9</text>
<text x="132.4" y="317.9" text-anchor="end" fill="#5a5f70">47.3</text>
<text x="73.6" y="372.2">4.5</text>
<text x="132.4" y="372.2" text-anchor="end" fill="#5a5f70">1.3</text>
</g>
<g font-size="6.3" fill="#2a2a2a" text-anchor="end">
<text x="68" y="320.4">10<tspan font-size="4.5" dy="-2.2">5</tspan></text>
<text x="68" y="334.8">10<tspan font-size="4.5" dy="-2.2">4</tspan></text>
<text x="68" y="348.9">10<tspan font-size="4.5" dy="-2.2">3</tspan></text>
<text x="68" y="363.6">10<tspan font-size="4.5" dy="-2.2">2</tspan></text>
<text x="66.2" y="370.5">0</text>
</g>
<line x1="69.9" y1="318.4" x2="71.4" y2="318.4" stroke="#444" stroke-width="0.8"/>
<line x1="69.9" y1="332.8" x2="71.4" y2="332.8" stroke="#444" stroke-width="0.8"/>
<line x1="69.9" y1="346.9" x2="71.4" y2="346.9" stroke="#444" stroke-width="0.8"/>
<line x1="69.9" y1="361.6" x2="71.4" y2="361.6" stroke="#444" stroke-width="0.8"/>
<line x1="69.9" y1="368.4" x2="71.4" y2="368.4" stroke="#444" stroke-width="0.8"/>
<g font-size="6.3" fill="#2a2a2a">
<text x="76.6" y="385.5">0</text>
<text x="80.3" y="385.5">10<tspan font-size="4.5" dy="-2.2">2</tspan></text>
<text x="96.1" y="385.5">10<tspan font-size="4.5" dy="-2.2">3</tspan></text>
<text x="110.7" y="385.5">10<tspan font-size="4.5" dy="-2.2">4</tspan></text>
<text x="124.7" y="385.5">10<tspan font-size="4.5" dy="-2.2">5</tspan></text>
</g>
<line x1="77.6" y1="374.2" x2="77.6" y2="375.7" stroke="#444" stroke-width="0.8"/>
<line x1="83.9" y1="374.2" x2="83.9" y2="375.7" stroke="#444" stroke-width="0.8"/>
<line x1="100.4" y1="374.2" x2="100.4" y2="375.7" stroke="#444" stroke-width="0.8"/>
<line x1="115" y1="374.2" x2="115" y2="375.7" stroke="#444" stroke-width="0.8"/>
<line x1="129.4" y1="374.2" x2="129.4" y2="375.7" stroke="#444" stroke-width="0.8"/>
</g>
<g>
<line x1="180.3" y1="311.6" x2="180.3" y2="374.2" stroke="#999" stroke-width="0.7"/>
<line x1="156" y1="353.6" x2="218.6" y2="353.6" stroke="#999" stroke-width="0.7"/>
<path d="M191.1 341.2h.7v.7h-.7zM166 324.6h.7v.7h-.7zM205.8 327.2h.7v.7h-.7zM164.2 359.5h.7v.7h-.7zM192.3 323.3h.7v.7h-.7zM192.9 342.1h.7v.7h-.7zM161.4 334.6h.7v.7h-.7zM188.3 341.9h.7v.7h-.7zM170.4 323.4h.7v.7h-.7zM190.6 341.2h.7v.7h-.7zM184.8 345.4h.7v.7h-.7zM161.1 364.7h.7v.7h-.7zM177.2 363.7h.7v.7h-.7zM160.6 370h.7v.7h-.7zM176.5 367.2h.7v.7h-.7zM164.4 352.2h.7v.7h-.7zM179.2 365h.7v.7h-.7zM203.6 337.1h.7v.7h-.7zM200.3 338.3h.7v.7h-.7zM181 322h.7v.7h-.7zM185 353.7h.7v.7h-.7zM176.4 369.5h.7v.7h-.7zM169.9 323.7h.7v.7h-.7zM164.6 346.5h.7v.7h-.7zM208 328.8h.7v.7h-.7zM161 364h.7v.7h-.7zM163.6 342.1h.7v.7h-.7zM162.8 333h.7v.7h-.7zM163.2 360.8h.7v.7h-.7zM206.2 331.9h.7v.7h-.7zM193.2 323.2h.7v.7h-.7zM177.4 322.9h.7v.7h-.7zM172.8 322.7h.7v.7h-.7zM194.4 323.3h.7v.7h-.7zM165.1 323.7h.7v.7h-.7zM205.4 326.6h.7v.7h-.7zM164 327.4h.7v.7h-.7zM164.3 325h.7v.7h-.7zM171.4 323.1h.7v.7h-.7zM188.5 341.5h.7v.7h-.7zM164.1 353.5h.7v.7h-.7zM165.4 351.3h.7v.7h-.7zM179.5 364.7h.7v.7h-.7zM181.8 358.3h.7v.7h-.7zM191.1 341.4h.7v.7h-.7zM164.9 353.2h.7v.7h-.7zM165.9 344.8h.7v.7h-.7zM184.7 322.8h.7v.7h-.7zM183.4 359.5h.7v.7h-.7zM172.8 323.6h.7v.7h-.7zM169.9 323.7h.7v.7h-.7zM176.2 322.7h.7v.7h-.7zM165.3 324.9h.7v.7h-.7zM165.7 344.1h.7v.7h-.7zM196.2 323.6h.7v.7h-.7zM178.9 364.3h.7v.7h-.7zM161.6 365.2h.7v.7h-.7zM161.7 372.5h.7v.7h-.7zM195 323.4h.7v.7h-.7zM161.9 332.3h.7v.7h-.7zM183.3 355.2h.7v.7h-.7zM165.6 325.8h.7v.7h-.7zM161.7 331.1h.7v.7h-.7zM202.8 324.7h.7v.7h-.7zM162.7 372.8h.7v.7h-.7zM178.5 363.1h.7v.7h-.7zM181.2 362.9h.7v.7h-.7zM176.3 367.5h.7v.7h-.7zM184.9 346.5h.7v.7h-.7zM184.7 346.3h.7v.7h-.7zM197.1 340.2h.7v.7h-.7zM196.5 340.6h.7v.7h-.7zM184.8 323.5h.7v.7h-.7zM177 365.1h.7v.7h-.7zM183.4 352.9h.7v.7h-.7zM179.9 362.8h.7v.7h-.7zM177.4 365.3h.7v.7h-.7zM164.6 327h.7v.7h-.7zM163 340.3h.7v.7h-.7zM181.1 361.9h.7v.7h-.7zM160.6 371.6h.7v.7h-.7zM161.9 362.9h.7v.7h-.7zM161.3 332h.7v.7h-.7zM169.4 323.6h.7v.7h-.7zM164.4 324h.7v.7h-.7zM193.8 340.9h.7v.7h-.7zM188.1 342.2h.7v.7h-.7zM164 358.8h.7v.7h-.7zM178.3 364.5h.7v.7h-.7zM205.1 334.2h.7v.7h-.7zM159 366.3h.7v.7h-.7zM179.8 322.7h.7v.7h-.7zM167.3 324.7h.7v.7h-.7zM184.5 354.7h.7v.7h-.7zM165.4 347.2h.7v.7h-.7zM177.6 368.3h.7v.7h-.7zM164.8 352.5h.7v.7h-.7zM183.6 354.2h.7v.7h-.7zM163.3 360.6h.7v.7h-.7zM162.7 333.2h.7v.7h-.7zM189.9 341.1h.7v.7h-.7zM163.6 338.4h.7v.7h-.7zM185.6 348.7h.7v.7h-.7zM174.8 323h.7v.7h-.7zM201.5 324.7h.7v.7h-.7zM168 324.8h.7v.7h-.7zM160.5 367.5h.7v.7h-.7zM164.7 341.9h.7v.7h-.7zM179.7 322.9h.7v.7h-.7zM180.4 361.5h.7v.7h-.7zM198.9 340.7h.7v.7h-.7zM181.3 359.7h.7v.7h-.7zM198.5 324h.7v.7h-.7zM164 336.8h.7v.7h-.7zM182.3 359.3h.7v.7h-.7zM165.1 351.4h.7v.7h-.7zM165.5 348.1h.7v.7h-.7zM202.4 336.8h.7v.7h-.7zM198.3 339.6h.7v.7h-.7zM160.3 364.7h.7v.7h-.7zM165 358.1h.7v.7h-.7zM185.8 344.2h.7v.7h-.7zM194.2 340.6h.7v.7h-.7zM176.1 372.5h.7v.7h-.7zM164.8 351.5h.7v.7h-.7zM165 353.7h.7v.7h-.7zM178.4 365.5h.7v.7h-.7zM164.2 358.9h.7v.7h-.7zM163.6 358.7h.7v.7h-.7zM187 341.8h.7v.7h-.7zM185.2 323.9h.7v.7h-.7zM171.2 323.6h.7v.7h-.7zM173.8 323.2h.7v.7h-.7zM179.5 362.5h.7v.7h-.7zM187.1 341.3h.7v.7h-.7zM205.7 334.4h.7v.7h-.7zM206.6 329.3h.7v.7h-.7zM194.8 340.9h.7v.7h-.7zM166.5 323.2h.7v.7h-.7zM160.7 370.7h.7v.7h-.7zM201.2 324.6h.7v.7h-.7zM196.9 323.3h.7v.7h-.7zM190.8 341.3h.7v.7h-.7zM185.6 343.6h.7v.7h-.7zM165.1 327h.7v.7h-.7zM179.8 361.9h.7v.7h-.7zM188.3 323.3h.7v.7h-.7zM160.4 331.3h.7v.7h-.7zM160 368.3h.7v.7h-.7zM165.4 348.6h.7v.7h-.7zM174.5 371.7h.7v.7h-.7zM184.8 348.4h.7v.7h-.7zM165.7 346.4h.7v.7h-.7zM173.3 372.2h.7v.7h-.7zM170.5 323.4h.7v.7h-.7zM183.9 348.9h.7v.7h-.7zM165.4 346.5h.7v.7h-.7zM159 366.9h.7v.7h-.7zM178.6 363.6h.7v.7h-.7zM162.8 358.7h.7v.7h-.7zM164.1 337.3h.7v.7h-.7zM165.1 326.7h.7v.7h-.7zM164.9 352.6h.7v.7h-.7zM178.6 364.2h.7v.7h-.7zM207 328.7h.7v.7h-.7zM184.4 351h.7v.7h-.7zM166.2 325.7h.7v.7h-.7zM181.6 364.4h.7v.7h-.7zM183 353.1h.7v.7h-.7zM183.9 349.9h.7v.7h-.7zM183.8 350h.7v.7h-.7zM203.4 336.9h.7v.7h-.7zM163.4 336.2h.7v.7h-.7zM164.5 337.8h.7v.7h-.7zM189.5 322.6h.7v.7h-.7zM160.9 366.8h.7v.7h-.7zM164.6 347.3h.7v.7h-.7zM163 331.5h.7v.7h-.7zM187.4 342.4h.7v.7h-.7zM163.1 331.3h.7v.7h-.7zM173.7 322.6h.7v.7h-.7zM160.6 366.7h.7v.7h-.7zM166.8 325.5h.7v.7h-.7zM181.5 359.7h.7v.7h-.7zM205.3 336.9h.7v.7h-.7zM164.2 352h.7v.7h-.7zM191.9 341.7h.7v.7h-.7zM163.5 345.5h.7v.7h-.7zM182.9 353.5h.7v.7h-.7zM161 366.9h.7v.7h-.7zM161.4 372.8h.7v.7h-.7zM164.4 327.5h.7v.7h-.7zM166.7 325.7h.7v.7h-.7zM176.7 364.7h.7v.7h-.7zM163.4 355.4h.7v.7h-.7zM173.4 372.1h.7v.7h-.7zM207.4 332.1h.7v.7h-.7zM202.2 324.4h.7v.7h-.7zM188.3 342.9h.7v.7h-.7zM176 323.3h.7v.7h-.7zM178.7 365.7h.7v.7h-.7zM181.8 360.8h.7v.7h-.7zM186.5 346.5h.7v.7h-.7zM201.3 338.5h.7v.7h-.7zM206.4 328.4h.7v.7h-.7zM183.4 352.6h.7v.7h-.7zM165.4 354.2h.7v.7h-.7zM206.6 327.8h.7v.7h-.7zM164 348.9h.7v.7h-.7zM203.5 325.3h.7v.7h-.7zM162.6 362.2h.7v.7h-.7zM165 356.2h.7v.7h-.7zM165.7 339.8h.7v.7h-.7zM162.3 334.8h.7v.7h-.7zM171.5 322.7h.7v.7h-.7zM164.9 347.6h.7v.7h-.7zM162.9 331.5h.7v.7h-.7zM204.3 324.9h.7v.7h-.7zM160.4 369.1h.7v.7h-.7zM177.2 364.4h.7v.7h-.7zM164.9 342.4h.7v.7h-.7zM205.5 326.7h.7v.7h-.7zM181.8 358h.7v.7h-.7zM185.1 347.2h.7v.7h-.7zM163.7 354.7h.7v.7h-.7zM194.7 341.9h.7v.7h-.7zM159.6 369.1h.7v.7h-.7zM162 332.8h.7v.7h-.7zM188.8 322.7h.7v.7h-.7zM191 341.6h.7v.7h-.7zM165.4 350.7h.7v.7h-.7zM167.8 323.6h.7v.7h-.7zM160.4 367.7h.7v.7h-.7zM165.3 340.4h.7v.7h-.7zM182.6 323.2h.7v.7h-.7zM164.5 346.2h.7v.7h-.7zM206.4 332.8h.7v.7h-.7zM183.9 357.5h.7v.7h-.7zM183.8 350.4h.7v.7h-.7zM183.4 322.1h.7v.7h-.7zM178.1 364.1h.7v.7h-.7zM182.8 356.1h.7v.7h-.7zM162.8 330.1h.7v.7h-.7zM202.3 337.6h.7v.7h-.7zM178.8 362.8h.7v.7h-.7zM165.2 353.3h.7v.7h-.7zM179.7 323.1h.7v.7h-.7zM161.4 366.1h.7v.7h-.7zM162.4 330.2h.7v.7h-.7zM176.8 367h.7v.7h-.7zM179.1 323h.7v.7h-.7zM163.6 335.6h.7v.7h-.7zM206.5 329.9h.7v.7h-.7zM207.2 333.8h.7v.7h-.7zM188.9 341.2h.7v.7h-.7zM165.1 356.5h.7v.7h-.7zM168.4 321.8h.7v.7h-.7zM163.5 358.7h.7v.7h-.7zM186.1 323.6h.7v.7h-.7zM199.4 323h.7v.7h-.7zM206.1 343.3h.7v.7h-.7zM191.7 354.5h.7v.7h-.7zM205.8 342.6h.7v.7h-.7zM182.8 355.1h.7v.7h-.7zM188.1 345.5h.7v.7h-.7zM194.3 340.1h.7v.7h-.7zM202.1 339.2h.7v.7h-.7zM184.8 347.9h.7v.7h-.7zM204.7 346h.7v.7h-.7zM188.5 358.8h.7v.7h-.7zM170 349.8h.7v.7h-.7zM182.2 353.5h.7v.7h-.7zM181.6 360.1h.7v.7h-.7zM207.9 341.8h.7v.7h-.7zM188.4 353.5h.7v.7h-.7zM201.8 356.5h.7v.7h-.7zM177.6 343.7h.7v.7h-.7zM204.1 359.8h.7v.7h-.7zM180.3 344.7h.7v.7h-.7zM174.8 346h.7v.7h-.7zM204.7 338.4h.7v.7h-.7zM202.6 339.3h.7v.7h-.7zM187.1 362.4h.7v.7h-.7zM184.1 351h.7v.7h-.7zM199.4 333.9h.7v.7h-.7zM197.2 337.7h.7v.7h-.7zM193.1 346.3h.7v.7h-.7zM183.4 358.3h.7v.7h-.7zM185.8 351.6h.7v.7h-.7zM200.3 340.2h.7v.7h-.7zM187.6 350.4h.7v.7h-.7zM194.4 354h.7v.7h-.7zM189.3 345h.7v.7h-.7zM189.8 352.6h.7v.7h-.7zM203.4 350.7h.7v.7h-.7zM193.5 337.2h.7v.7h-.7zM196 349.6h.7v.7h-.7zM178 343.1h.7v.7h-.7zM169.8 350.4h.7v.7h-.7zM185.7 357.6h.7v.7h-.7zM190.3 352h.7v.7h-.7zM181.7 349.1h.7v.7h-.7zM181.4 347.8h.7v.7h-.7zM208.9 363.9h.7v.7h-.7zM191.5 349.2h.7v.7h-.7zM168.3 362.9h.7v.7h-.7zM166.7 347.1h.7v.7h-.7zM163.6 343h.7v.7h-.7zM163.6 372.5h.7v.7h-.7zM166.4 350.1h.7v.7h-.7zM168.7 342.5h.7v.7h-.7zM165.8 346.4h.7v.7h-.7zM177 361.1h.7v.7h-.7zM171.1 354.7h.7v.7h-.7zM172 355.7h.7v.7h-.7zM179.7 340.1h.7v.7h-.7zM170.3 368.2h.7v.7h-.7zM171.9 356.2h.7v.7h-.7zM167.3 364.3h.7v.7h-.7zM170.3 359.5h.7v.7h-.7zM159.3 356.3h.7v.7h-.7zM185.9 366.9h.7v.7h-.7zM172 360.3h.7v.7h-.7zM170 359.6h.7v.7h-.7z" fill="#bcbcbc"/>
<polygon points="165.1,374.2 164.7,374 164.2,373.8 163.5,373.4 163.1,373.1 162.7,372.7 162.3,372.2 162,371.8 161.8,371.4 161.5,370.7 161.4,370.3 161.2,369.5 161.2,368.7 161.3,367.9 161.5,367.1 161.6,366.7 161.9,365.9 162.1,365.5 162.3,365.1 162.7,364.5 163,364 163.3,363.6 163.6,363.2 163.9,362.8 164.3,362.2 164.6,361.6 164.8,361.2 165.1,360.7 165.2,360 165.4,359.2 165.5,358.8 165.5,358.1 165.6,357.3 165.6,356.5 165.6,355.7 165.7,354.9 165.7,354.1 165.8,353.3 165.8,352.5 165.8,351.8 165.8,351.4 165.9,350.6 165.9,349.8 166,349 166,348.2 166,347.4 166.1,346.6 166.1,345.9 166.2,345.1 166.2,344.3 166.3,343.9 166.3,343.1 166.3,342.3 166.3,341.5 166.3,340.7 166.2,340.3 165.9,339.6 165.7,339.2 165.4,338.7 165.1,338.1 164.7,337.6 164.5,337.2 164.3,336.8 163.9,336 163.7,335.6 163.5,334.8 163.4,334.4 163.3,333.6 163.2,332.9 163.3,332.1 163.4,331.3 163.5,330.9 163.7,330.1 163.9,329.7 164.3,329 164.5,328.5 164.8,328.1 165.1,327.7 165.4,327.3 165.8,326.9 166.2,326.5 166.7,326.2 167.2,325.8 167.8,325.4 168.2,325.2 168.7,325 169.4,324.7 169.8,324.6 170.6,324.3 171.3,324.2 171.7,324.1 172.5,324 173.3,323.9 173.8,323.8 174.5,323.7 175.3,323.6 176.1,323.6 176.9,323.5 177.7,323.5 178.4,323.5 179.2,323.6 180,323.6 180.8,323.7 181.2,323.8 182,323.9 182.8,324 183.6,324.1 184,324.2 184.7,324.2 185.5,324.3 186.3,324.2 186.7,324.2 187.5,324.1 188.3,324 189.1,323.9 189.9,323.8 190.3,323.8 191,323.7 191.8,323.7 192.6,323.7 193.4,323.7 194.2,323.7 194.7,323.8 195.4,323.9 196.2,324 196.9,324.1 197.3,324.2 198.1,324.4 198.8,324.6 199.3,324.7 200.1,324.9 200.7,325 201.3,325.1 202.1,325.2 202.7,325.4 203.2,325.5 203.8,325.8 204.4,326.1 204.8,326.3 205.2,326.6 205.6,327 206,327.5 206.4,328.1 206.6,328.5 206.8,329.3 206.8,329.7 206.8,330.5 206.8,330.9 206.6,331.7 206.4,332.2 206.1,332.9 205.9,333.3 205.6,333.7 205.2,334.4 204.9,334.8 204.7,335.2 204.4,335.6 204,336 203.6,336.4 203.2,336.8 202.9,337.2 202.4,337.6 201.9,338 201.3,338.4 200.9,338.6 200.5,338.9 199.9,339.2 199.3,339.5 198.9,339.7 198.2,339.9 197.7,340.1 197.1,340.3 196.6,340.5 195.8,340.7 195.4,340.8 194.6,341 194,341.1 193.4,341.2 192.6,341.4 191.8,341.4 191,341.5 190.3,341.5 189.9,341.5 189.1,341.6 188.3,341.6 187.5,341.7 186.9,341.9 186.3,342.3 185.9,342.7 185.8,343.1 185.5,343.8 185.4,344.3 185.3,345.1 185.1,345.6 185,346.2 184.9,347 184.7,347.5 184.6,348.2 184.4,349 184.3,349.4 184.2,350.2 184,351 183.9,351.4 183.7,352.2 183.6,352.8 183.4,353.3 183.2,354.1 183.1,354.5 183,355.3 182.8,356.1 182.7,356.5 182.5,357.3 182.3,357.7 182.1,358.5 182,358.9 181.8,359.6 181.6,360.1 181.3,360.8 181,361.2 180.7,361.6 180.4,362 179.9,362.4 179.3,362.8 178.8,363.1 178.4,363.3 178,363.6 177.6,364 177.3,364.7 177.2,365.1 177.1,365.9 177,366.7 176.9,367.5 176.8,367.9 176.5,368.7 176.4,369.1 176.1,369.6 175.7,370.3 175.4,370.7 175.1,371.1 174.8,371.4 174.4,371.8 174,372.2 173.4,372.6 172.9,373 172.5,373.2 172.1,373.4 171.4,373.8 171,374 170.2,374.2" fill="none" stroke="#505050" stroke-width="0.5"/>
<polygon points="175.2,324.6 175.7,324.5 176.5,324.5 177.3,324.5 178,324.4 178.8,324.5 179.6,324.5 180.2,324.6 180.8,324.7 181.6,324.8 182.4,324.9 183.1,325 183.6,325 184.3,325.1 185.1,325.1 185.9,325.1 186.7,325 187.3,325 187.9,324.9 188.7,324.8 189.5,324.7 190.3,324.6 191,324.6 191.4,324.6 192.2,324.6 193,324.6 193.4,324.6 194.2,324.6 195,324.7 195.8,324.8 196.4,325 196.9,325.1 197.7,325.3 198.1,325.4 198.9,325.5 199.7,325.6 200.5,325.7 201.1,325.8 201.7,325.8 202.5,326 202.9,326.2 203.6,326.5 204,326.7 204.4,327 204.9,327.3 205.2,327.7 205.6,328.4 205.9,328.9 206,329.7 206,330.1 206,330.5 205.8,331.3 205.6,331.8 205.3,332.5 205.1,332.9 204.8,333.3 204.4,333.7 204,334.2 203.6,334.7 203.2,335.1 202.9,335.6 202.5,336 202.1,336.4 201.7,336.8 201.3,337.1 200.9,337.4 200.5,337.7 200,338 199.3,338.4 198.9,338.6 198.5,338.8 197.7,339.1 197.3,339.3 196.6,339.6 196.2,339.7 195.4,339.9 195,340 194.2,340.2 193.4,340.3 193,340.4 192.2,340.5 191.4,340.6 190.6,340.7 189.9,340.7 189.1,340.7 188.3,340.7 187.9,340.7 187.1,340.8 186.3,341 185.8,341.1 185.2,341.5 184.8,341.9 184.6,342.3 184.3,342.8 184.1,343.5 184,344.2 183.9,344.7 183.7,345.5 183.6,346.1 183.4,346.6 183.2,347.4 183.1,347.8 182.9,348.6 182.8,349.3 182.6,349.8 182.5,350.6 182.4,351 182.2,351.8 182,352.4 181.8,352.9 181.6,353.7 181.5,354.1 181.3,354.9 181.2,355.3 180.9,356.1 180.8,356.5 180.5,357.3 180.3,357.7 180,358.3 179.8,358.8 179.6,359.2 179.2,359.7 178.8,360.1 178.3,360.4 177.7,360.6 176.9,360.5 176.5,360.4 175.7,360.4 175.4,360.8 175.3,361.2 175.2,362 175.2,362.8 175.3,363.4 175.4,364 175.5,364.8 175.6,365.5 175.6,366.3 175.5,367.1 175.3,367.9 175.2,368.3 174.9,369 174.6,369.5 174.4,369.9 174.1,370.3 173.7,370.7 173.3,371.1 172.9,371.4 172.3,371.8 171.7,372.2 171.4,372.4 170.8,372.6 170.2,372.9 169.5,373 169,373.1 168.2,373.2 167.4,373.2 166.6,373 166.2,373 165.4,372.7 165.1,372.5 164.7,372.2 164.2,371.8 163.8,371.4 163.5,371 163.1,370.3 163,369.9 162.8,369.1 162.8,368.3 162.9,367.5 163.1,366.9 163.3,366.3 163.5,365.9 163.9,365.2 164.1,364.8 164.4,364.4 164.7,364 165.1,363.5 165.4,362.9 165.8,362.4 166.1,362 166.3,361.6 166.6,360.8 166.8,360.4 167,359.6 167,359.2 167.1,358.5 167.1,357.7 167.1,356.9 167.2,356.1 167.2,355.3 167.2,354.5 167.3,353.7 167.3,352.9 167.3,352.2 167.3,351.4 167.4,350.6 167.4,349.8 167.4,349.4 167.5,348.6 167.5,347.8 167.5,347 167.5,346.2 167.6,345.5 167.6,344.7 167.7,343.9 167.7,343.1 167.7,342.3 167.7,341.5 167.7,340.7 167.5,339.9 167.4,339.6 167,338.9 166.7,338.4 166.4,338 166.1,337.6 165.8,337.1 165.4,336.5 165.2,336 165,335.6 164.7,334.8 164.6,334.4 164.5,333.6 164.5,332.9 164.5,332.1 164.7,331.3 164.8,330.9 165,330.1 165.2,329.7 165.4,329.3 165.8,328.7 166.2,328.2 166.6,327.8 167,327.4 167.4,327.1 167.8,326.8 168.2,326.5 168.8,326.2 169.4,325.9 169.8,325.7 170.6,325.5 171,325.3 171.7,325.1 172.5,325 172.9,324.9 173.7,324.8 174.5,324.7 175.2,324.6" fill="none" stroke="#333333" stroke-width="0.5"/>
<polygon points="175.1,325.4 175.7,325.3 176.5,325.2 177.3,325.2 178,325.2 178.8,325.2 179.6,325.3 180.4,325.4 180.8,325.4 181.6,325.5 182.4,325.6 183.2,325.7 183.6,325.8 184.3,325.8 185.1,325.9 185.9,325.8 186.7,325.8 187.1,325.7 187.9,325.6 188.7,325.5 189.5,325.4 190.1,325.4 190.6,325.3 191.4,325.3 192.2,325.3 193,325.3 193.8,325.4 194.2,325.4 195,325.5 195.8,325.6 196.4,325.8 196.9,325.9 197.7,326.1 198.4,326.2 198.9,326.2 199.7,326.3 200.5,326.3 201.3,326.4 202.1,326.6 202.5,326.7 203.2,327 203.6,327.2 204,327.5 204.4,327.9 204.8,328.4 205.1,328.9 205.2,329.4 205.3,330.1 205.2,330.8 205.1,331.3 204.8,331.9 204.5,332.5 204.2,332.9 203.8,333.3 203.5,333.6 203.1,334 202.7,334.4 202.3,334.8 201.9,335.2 201.5,335.6 201.1,336 200.7,336.4 200.2,336.8 199.7,337.2 199.3,337.4 198.9,337.7 198.3,338 197.7,338.3 197.3,338.4 196.6,338.8 196.2,338.9 195.4,339.1 195,339.3 194.2,339.5 193.7,339.6 193,339.7 192.2,339.8 191.4,339.9 190.6,339.9 190.1,339.9 189.5,340 188.7,340 187.9,340 187.1,340.1 186.3,340.2 185.5,340.3 185.1,340.4 184.5,340.7 184,341.1 183.6,341.5 183.3,341.9 183.1,342.3 182.8,343 182.6,343.5 182.4,344.1 182.2,344.7 182,345.5 181.9,345.9 181.7,346.6 181.6,347 181.3,347.8 181.1,348.2 180.8,349 180.6,349.4 180.4,350 180.1,350.6 179.9,351 179.3,351.4 179.2,351.4 178.8,350.9 178.7,350.2 178.6,349.4 178.6,348.6 178.6,347.8 178.5,347 178.5,346.2 178.5,345.5 178.6,344.7 178.6,343.9 178.4,343.2 178.2,342.7 177.8,342.3 177.3,342 176.5,341.9 175.7,342.2 175.3,342.7 175.1,343.1 174.9,343.6 174.8,344.3 174.7,345.1 174.6,345.9 174.5,346.6 174.5,347 174.3,347.8 174.2,348.6 174.1,349.2 174,349.8 173.9,350.6 173.8,351.4 173.7,352.2 173.7,352.5 173.5,353.3 173.3,354.1 173.3,354.5 173.2,355.3 173.1,356.1 172.9,356.9 172.9,357.3 172.7,358.1 172.6,358.8 172.6,359.6 172.7,360.4 172.9,361.2 173,361.6 173.3,362.4 173.4,362.8 173.7,363.5 173.9,364 174.1,364.7 174.2,365.1 174.3,365.9 174.3,366.7 174.2,367.5 174.1,367.9 173.7,368.7 173.5,369.1 173.3,369.5 172.9,369.9 172.5,370.3 172.1,370.7 171.5,371.1 171,371.4 170.6,371.5 169.8,371.8 169.4,371.9 168.6,372 167.8,372 167.1,371.8 166.6,371.7 166,371.4 165.4,371.1 165.1,370.7 164.7,370.3 164.5,369.9 164.3,369.2 164.2,368.7 164.2,367.9 164.3,367.3 164.4,366.7 164.7,366.2 165,365.5 165.2,365.1 165.5,364.8 165.8,364.3 166.2,363.8 166.6,363.3 167,362.9 167.4,362.4 167.7,362 167.9,361.6 168.2,361.1 168.5,360.4 168.6,360 168.8,359.2 168.9,358.5 168.9,357.7 168.8,356.9 168.8,356.1 168.8,355.3 168.9,354.5 168.9,353.7 168.8,352.9 168.8,352.2 168.8,351.4 168.8,350.6 168.9,349.8 168.9,349 168.9,348.2 168.9,347.4 168.9,346.6 168.9,345.9 169,345.1 169,344.7 169,343.9 169.1,343.1 169.1,342.3 169.1,341.5 169,340.7 169,340.3 168.7,339.6 168.5,339.2 168.2,338.7 167.8,338.2 167.4,337.7 167,337.2 166.8,336.8 166.5,336.4 166.2,335.9 165.9,335.2 165.8,334.8 165.6,334 165.5,333.3 165.5,332.5 165.6,331.7 165.8,330.9 165.9,330.5 166.2,329.9 166.6,329.3 166.8,328.9 167.2,328.5 167.6,328.1 168,327.7 168.6,327.3 169,327.1 169.4,326.9 170.1,326.6 170.6,326.4 171.1,326.2 171.7,326 172.5,325.8 172.9,325.7 173.7,325.6 174.5,325.4 175.1,325.4" fill="none" stroke="#282828" stroke-width="0.5"/>
<polygon points="174.6,326.2 175.3,326.1 176.1,326 176.9,325.9 177.7,325.9 178.4,325.9 179.2,326 180,326 180.8,326.1 181.2,326.2 182,326.3 182.8,326.4 183.6,326.5 184.3,326.5 185.1,326.5 185.9,326.5 186.7,326.4 187.5,326.4 188.3,326.3 189.1,326.2 189.5,326.1 190.3,326 191,326 191.8,326 192.6,326 193.4,326 194.2,326.1 194.6,326.2 195.4,326.3 196.2,326.5 196.6,326.6 197.3,326.7 198.1,326.8 198.9,326.8 199.7,326.9 200.5,326.9 200.9,327 201.7,327.1 202.4,327.3 202.9,327.5 203.2,327.8 203.7,328.1 204,328.6 204.4,329.3 204.5,329.7 204.5,330.5 204.4,330.9 204.1,331.7 203.9,332.1 203.6,332.5 203.2,332.9 202.9,333.3 202.5,333.6 202,334 201.5,334.4 201.1,334.8 200.7,335.2 200.3,335.6 199.8,336 199.3,336.4 198.9,336.7 198.5,337 198.1,337.2 197.4,337.6 196.9,337.8 196.5,338 195.8,338.3 195.4,338.4 194.6,338.6 194,338.8 193.4,338.9 192.6,339 191.8,339.1 191.4,339.2 190.6,339.2 189.9,339.3 189.1,339.3 188.3,339.3 187.5,339.4 186.7,339.4 185.9,339.5 185.5,339.6 184.7,339.7 184.1,339.9 183.6,340.2 183.2,340.4 182.5,340.7 182,341.1 181.6,341.3 181.1,341.5 180.4,341.6 180,341.5 179.2,341.3 178.8,341.1 178,340.9 177.3,340.8 176.9,340.7 176.1,340.7 175.7,340.7 174.9,340.9 174.3,341.1 173.7,341.5 173.3,341.9 173.1,342.3 172.9,342.7 172.6,343.5 172.4,343.9 172.2,344.7 172.1,345.1 171.9,345.9 171.7,346.3 171.5,345.9 171.4,345.2 171.3,344.7 171.3,343.9 171.2,343.1 171.1,342.3 171,341.7 170.9,341.1 170.6,340.3 170.4,339.9 170.2,339.6 169.8,339.1 169.4,338.6 169,338.1 168.6,337.7 168.2,337.2 167.8,336.8 167.5,336.4 167.3,336 167,335.5 166.7,334.8 166.6,334.4 166.4,333.6 166.3,332.9 166.4,332.1 166.6,331.3 166.7,330.9 167,330.3 167.4,329.7 167.6,329.3 168,328.9 168.4,328.5 168.9,328.1 169.4,327.8 169.8,327.6 170.3,327.3 171,327 171.4,326.9 172.1,326.7 172.6,326.6 173.3,326.4 174.1,326.2 174.6,326.2" fill="none" stroke="#1f1f1f" stroke-width="0.5"/>
<polygon points="169.3,362.8 169.8,362.5 170.6,362.5 171.2,362.8 171.7,363.2 172,363.6 172.3,364 172.5,364.4 172.9,365.1 173,365.5 173.1,366.3 173,367.1 172.9,367.6 172.7,368.3 172.4,368.7 172.1,369.1 171.7,369.5 171.3,369.9 170.6,370.3 170.2,370.5 169.5,370.7 169,370.7 168.2,370.7 167.7,370.7 167,370.4 166.6,370.2 166.2,369.9 165.8,369.3 165.6,368.7 165.5,367.9 165.6,367.1 165.8,366.5 166.1,365.9 166.4,365.5 166.7,365.1 167,364.7 167.4,364.3 167.8,363.9 168.2,363.6 168.7,363.2 169.3,362.8" fill="none" stroke="#1f1f1f" stroke-width="0.5"/>
<polygon points="174,327 174.5,326.9 175.3,326.7 176.1,326.7 176.9,326.6 177.7,326.6 178.4,326.6 179.2,326.6 180,326.7 180.8,326.8 181.6,326.9 182.3,327 182.8,327 183.6,327.1 184.3,327.1 185.1,327.1 185.9,327.1 186.7,327.1 187.5,327 187.9,327 188.7,326.9 189.5,326.8 190.3,326.7 191,326.7 191.8,326.6 192.6,326.7 193.4,326.7 194.2,326.8 195,327 195.4,327 196.2,327.2 196.9,327.3 197.3,327.4 198.1,327.4 198.9,327.5 199.7,327.5 200.5,327.5 201.3,327.7 201.7,327.8 202.3,328.1 202.9,328.5 203.2,328.9 203.4,329.3 203.6,330 203.6,330.5 203.6,330.9 203.3,331.7 203,332.1 202.7,332.5 202.3,332.9 201.9,333.3 201.4,333.6 200.9,334 200.5,334.3 200.1,334.7 199.7,335 199.3,335.3 198.9,335.7 198.5,336 197.9,336.4 197.3,336.8 196.9,337 196.5,337.2 195.8,337.5 195.4,337.7 194.6,337.9 194.2,338 193.4,338.2 192.6,338.4 192.2,338.4 191.4,338.5 190.6,338.6 189.9,338.6 189.1,338.7 188.3,338.7 187.5,338.7 186.7,338.8 186.3,338.8 185.5,338.9 184.7,339 184.1,339.2 183.6,339.3 182.8,339.6 182.4,339.7 181.6,339.9 181.2,340.1 180.4,340.2 179.6,340.2 178.8,340.1 178,340 177.7,339.9 176.9,339.9 176.1,339.8 175.3,339.8 174.5,339.8 173.7,339.8 172.9,339.7 172.3,339.6 171.7,339.3 171.4,339 171,338.7 170.6,338.4 170.1,338 169.7,337.6 169.3,337.2 168.9,336.8 168.5,336.4 168.2,336 167.8,335.3 167.6,334.8 167.4,334.4 167.2,333.6 167.2,332.9 167.2,332.1 167.4,331.4 167.6,330.9 167.8,330.5 168.2,329.9 168.6,329.4 169,329 169.4,328.7 169.8,328.4 170.3,328.1 171,327.8 171.4,327.7 172.1,327.4 172.5,327.3 173.3,327.1 174,327" fill="none" stroke="#171717" stroke-width="0.5"/>
<polygon points="169.2,364.8 169.8,364.6 170.6,364.7 171,365 171.4,365.5 171.6,365.9 171.7,366.7 171.6,367.5 171.4,368 171,368.5 170.6,368.9 170.2,369.1 169.4,369.4 168.6,369.4 167.8,369.1 167.4,368.8 167.1,368.3 167,367.9 167,367.4 167.2,366.7 167.4,366.3 167.8,365.8 168.2,365.4 168.6,365.1 169.2,364.8" fill="none" stroke="#171717" stroke-width="0.5"/>
<polygon points="175.9,327.3 176.5,327.3 177.3,327.2 178,327.2 178.8,327.2 179.6,327.3 180.2,327.3 180.8,327.4 181.6,327.5 182.4,327.6 183.2,327.6 184,327.7 184.7,327.7 185.5,327.7 186.3,327.7 187.1,327.7 187.9,327.6 188.7,327.5 189.5,327.4 190.3,327.4 190.6,327.3 191.4,327.3 192.2,327.3 192.6,327.4 193.4,327.4 194.2,327.5 195,327.7 195.4,327.8 196.2,328 196.9,328.1 197.7,328.1 198.5,328.1 199.2,328.1 199.7,328.2 200.5,328.3 201,328.5 201.6,328.9 202,329.3 202.3,329.7 202.5,330.2 202.5,330.9 202.4,331.3 202.1,331.9 201.7,332.4 201.3,332.8 200.9,333.1 200.5,333.4 200.1,333.7 199.6,334 199.1,334.4 198.6,334.8 198.1,335.2 197.7,335.6 197.3,335.8 196.9,336.1 196.4,336.4 195.8,336.7 195.4,336.9 194.6,337.2 194.2,337.3 193.4,337.5 193,337.6 192.2,337.7 191.4,337.9 190.6,337.9 189.9,338 189.5,338 188.7,338 187.9,338.1 187.1,338.1 186.3,338.2 185.5,338.3 184.8,338.4 184.3,338.5 183.6,338.6 182.9,338.8 182.4,338.9 181.6,339.1 181,339.2 180.4,339.2 179.6,339.3 178.8,339.2 178,339.2 177.6,339.2 176.9,339.1 176.1,339 175.3,339 174.5,338.9 173.7,338.8 173.3,338.7 172.5,338.5 172.1,338.3 171.6,338 171,337.6 170.6,337.3 170.2,337 169.8,336.6 169.4,336.2 169,335.7 168.7,335.2 168.4,334.8 168.2,334.2 168,333.6 168,332.9 168.1,332.1 168.2,331.5 168.5,330.9 168.7,330.5 169,330.1 169.4,329.7 169.8,329.3 170.4,328.9 171,328.6 171.4,328.4 172.1,328.1 172.5,328 173.3,327.8 173.7,327.7 174.5,327.5 175.3,327.4 175.9,327.3" fill="rgba(0,0,0,0.36)" stroke="#101010" stroke-width="0.5"/>
<polygon points="175.2,328.1 175.7,328.1 176.5,328 177.3,327.9 178,327.9 178.8,327.9 179.6,328 180.4,328 181.2,328.1 181.6,328.1 182.4,328.2 183.2,328.3 184,328.3 184.7,328.3 185.5,328.3 186.3,328.3 187.1,328.3 187.9,328.3 188.7,328.2 189.5,328.1 189.9,328.1 190.6,328.1 191.4,328.1 192.2,328.1 192.8,328.1 193.4,328.2 194.2,328.4 194.9,328.5 195.4,328.7 196.2,328.8 196.9,328.9 197.7,328.9 198.5,328.9 198.9,329 199.7,329.2 200.1,329.4 200.5,329.8 200.9,330.5 201,330.9 200.9,331.7 200.6,332.1 200.3,332.5 199.7,332.9 199.3,333.1 198.9,333.4 198.5,333.7 198,334 197.6,334.4 197.1,334.8 196.6,335.2 196.2,335.5 195.8,335.8 195.3,336 194.6,336.3 194.2,336.5 193.4,336.7 193,336.8 192.2,337 191.4,337.1 190.8,337.2 190.3,337.2 189.5,337.3 188.7,337.4 187.9,337.4 187.1,337.5 186.3,337.6 185.9,337.6 185.1,337.7 184.3,337.8 183.6,337.9 183.2,338 182.4,338.1 181.6,338.3 180.9,338.4 180.4,338.4 179.6,338.5 178.8,338.5 178,338.4 177.4,338.4 176.9,338.3 176.1,338.3 175.3,338.2 174.5,338 174.1,338 173.3,337.8 172.8,337.6 172.1,337.3 171.7,337.1 171.3,336.8 170.8,336.4 170.3,336 169.9,335.6 169.6,335.2 169.4,334.8 169,334 168.9,333.6 168.8,332.9 168.9,332.1 169,331.7 169.4,330.9 169.7,330.5 170.1,330.1 170.5,329.7 171,329.4 171.4,329.2 172,328.9 172.5,328.7 173.2,328.5 173.7,328.4 174.5,328.3 175.2,328.1" fill="rgba(0,0,0,0.36)" stroke="#0a0a0a" stroke-width="0.5"/>
<polygon points="175.1,328.9 175.7,328.8 176.5,328.8 177.3,328.7 178,328.7 178.8,328.7 179.6,328.7 180.4,328.7 181.2,328.8 182,328.8 182.8,328.9 183.6,328.9 184.3,328.9 184.7,328.9 185.5,329 186.3,329 187.1,329 187.9,329 188.7,329 189.5,328.9 190.3,328.9 190.6,328.9 191,328.9 191.8,329 192.6,329 193.4,329.2 194,329.3 194.6,329.5 195.2,329.7 195.8,329.9 196.6,330 197.3,330 198.1,330.1 198.5,330.2 199,330.5 199.3,331.3 198.9,331.9 198.5,332.2 198.1,332.5 197.5,332.9 197,333.3 196.6,333.6 196.3,334 195.8,334.4 195.4,334.8 195,335 194.6,335.3 193.8,335.6 193.4,335.8 192.6,336 192.2,336.1 191.4,336.3 190.6,336.4 190.3,336.4 189.5,336.5 188.7,336.6 187.9,336.7 187.3,336.8 186.7,336.9 185.9,337 185.1,337.1 184.3,337.2 184,337.2 183.2,337.3 182.4,337.4 181.6,337.5 181.2,337.6 180.4,337.6 179.6,337.7 178.8,337.7 178,337.6 177.5,337.6 176.9,337.5 176.1,337.4 175.3,337.3 174.6,337.2 174.1,337.1 173.3,336.9 172.9,336.7 172.3,336.4 171.7,336.1 171.4,335.8 171,335.5 170.6,335.1 170.2,334.6 169.9,334 169.8,333.6 169.7,332.9 169.8,332.1 169.9,331.7 170.2,331.2 170.6,330.7 171,330.4 171.4,330.1 172.1,329.7 172.5,329.5 173.2,329.3 173.7,329.2 174.5,329 175.1,328.9" fill="rgba(0,0,0,0.36)" stroke="#b0b0b0" stroke-width="0.5"/>
<polygon points="175.6,329.7 176.1,329.7 176.9,329.6 177.7,329.5 178.4,329.5 179.2,329.5 180,329.5 180.8,329.5 181.6,329.5 182.4,329.5 183.2,329.5 184,329.5 184.7,329.6 185.5,329.6 186.3,329.7 187.1,329.7 187.5,329.7 188.3,329.8 189.1,329.9 189.9,330 190.6,330.1 191,330.1 191.8,330.3 192.6,330.5 193,330.6 193.7,330.9 194.2,331.3 194.5,331.7 194.7,332.1 194.6,332.9 194.4,333.3 194.1,333.6 193.6,334 193,334.4 192.6,334.6 192.1,334.8 191.4,335 190.9,335.2 190.3,335.4 189.5,335.6 189.1,335.7 188.3,335.9 187.6,336 187.1,336.1 186.3,336.3 185.5,336.4 185.1,336.4 184.3,336.6 183.6,336.7 182.8,336.7 182.1,336.8 181.6,336.8 180.8,336.9 180,336.9 179.2,336.8 178.6,336.8 178,336.8 177.3,336.7 176.5,336.6 175.7,336.5 175.3,336.4 174.5,336.2 173.7,336 173.3,335.9 172.7,335.6 172.1,335.3 171.7,335 171.4,334.7 171,334.1 170.7,333.6 170.6,332.9 170.8,332.1 171,331.7 171.4,331.2 171.7,330.9 172.4,330.5 172.9,330.3 173.4,330.1 174.1,329.9 174.9,329.8 175.6,329.7" fill="rgba(0,0,0,0.36)" stroke="#000000" stroke-width="0.5"/>
<rect x="156" y="311.6" width="62.6" height="62.6" fill="none" stroke="#6e6e6e" stroke-width="0.9"/>
<g font-size="5.3" fill="#5a6699">
<text x="158.2" y="317.9">46.4</text>
<text x="217" y="317.9" text-anchor="end" fill="#5a5f70">42.4</text>
<text x="158.2" y="372.2">10.5</text>
<text x="217" y="372.2" text-anchor="end" fill="#5a5f70">0.7</text>
</g>
<g font-size="6.3" fill="#2a2a2a" text-anchor="end">
<text x="152.6" y="320.4">10<tspan font-size="4.5" dy="-2.2">5</tspan></text>
<text x="152.6" y="334.8">10<tspan font-size="4.5" dy="-2.2">4</tspan></text>
<text x="152.6" y="348.9">10<tspan font-size="4.5" dy="-2.2">3</tspan></text>
<text x="152.6" y="363.6">10<tspan font-size="4.5" dy="-2.2">2</tspan></text>
<text x="150.8" y="370.5">0</text>
</g>
<line x1="154.5" y1="318.4" x2="156" y2="318.4" stroke="#444" stroke-width="0.8"/>
<line x1="154.5" y1="332.8" x2="156" y2="332.8" stroke="#444" stroke-width="0.8"/>
<line x1="154.5" y1="346.9" x2="156" y2="346.9" stroke="#444" stroke-width="0.8"/>
<line x1="154.5" y1="361.6" x2="156" y2="361.6" stroke="#444" stroke-width="0.8"/>
<line x1="154.5" y1="368.4" x2="156" y2="368.4" stroke="#444" stroke-width="0.8"/>
<g font-size="6.3" fill="#2a2a2a">
<text x="161.2" y="385.5">0</text>
<text x="164.9" y="385.5">10<tspan font-size="4.5" dy="-2.2">2</tspan></text>
<text x="180.7" y="385.5">10<tspan font-size="4.5" dy="-2.2">3</tspan></text>
<text x="195.3" y="385.5">10<tspan font-size="4.5" dy="-2.2">4</tspan></text>
<text x="209.3" y="385.5">10<tspan font-size="4.5" dy="-2.2">5</tspan></text>
</g>
<line x1="162.2" y1="374.2" x2="162.2" y2="375.7" stroke="#444" stroke-width="0.8"/>
<line x1="168.5" y1="374.2" x2="168.5" y2="375.7" stroke="#444" stroke-width="0.8"/>
<line x1="185" y1="374.2" x2="185" y2="375.7" stroke="#444" stroke-width="0.8"/>
<line x1="199.6" y1="374.2" x2="199.6" y2="375.7" stroke="#444" stroke-width="0.8"/>
<line x1="214" y1="374.2" x2="214" y2="375.7" stroke="#444" stroke-width="0.8"/>
</g>
<g>
<line x1="264.4" y1="311.6" x2="264.4" y2="374.2" stroke="#999" stroke-width="0.7"/>
<line x1="240.7" y1="353.2" x2="303.3" y2="353.2" stroke="#999" stroke-width="0.7"/>
<path d="M250.6 337.4h.7v.7h-.7zM243.4 367h.7v.7h-.7zM268.4 332.1h.7v.7h-.7zM264.8 330.5h.7v.7h-.7zM247 339.1h.7v.7h-.7zM248.8 337.5h.7v.7h-.7zM247.7 331.1h.7v.7h-.7zM253.2 325.7h.7v.7h-.7zM256.4 342.9h.7v.7h-.7zM262.6 339.7h.7v.7h-.7zM249.2 360.5h.7v.7h-.7zM255.8 341.4h.7v.7h-.7zM247.9 331.6h.7v.7h-.7zM243.7 367.5h.7v.7h-.7zM266.4 347.3h.7v.7h-.7zM270.8 350.5h.7v.7h-.7zM261.5 327.3h.7v.7h-.7zM265 366.5h.7v.7h-.7zM261.3 341.3h.7v.7h-.7zM267.3 364.6h.7v.7h-.7zM261.3 327.5h.7v.7h-.7zM271.5 349.7h.7v.7h-.7zM256.2 325.9h.7v.7h-.7zM266.4 331.2h.7v.7h-.7zM261.6 328.4h.7v.7h-.7zM248.3 333.9h.7v.7h-.7zM261.4 369.8h.7v.7h-.7zM266.2 348.3h.7v.7h-.7zM263.8 328.8h.7v.7h-.7zM257.8 349.4h.7v.7h-.7zM255.7 325.8h.7v.7h-.7zM247.4 329h.7v.7h-.7zM260.2 325.4h.7v.7h-.7zM258.6 327.2h.7v.7h-.7zM253.7 339.5h.7v.7h-.7zM254.4 340.2h.7v.7h-.7zM261.4 327.2h.7v.7h-.7zM270.7 360.9h.7v.7h-.7zM245.3 363.7h.7v.7h-.7zM241.4 366.5h.7v.7h-.7zM249.6 338.1h.7v.7h-.7zM260.8 370.6h.7v.7h-.7zM247.5 332.9h.7v.7h-.7zM267.3 365.5h.7v.7h-.7zM262.1 346h.7v.7h-.7zM242.6 372.6h.7v.7h-.7zM246.1 361.5h.7v.7h-.7zM248.7 329.5h.7v.7h-.7zM262.4 346.5h.7v.7h-.7zM247.4 331.4h.7v.7h-.7zM254.7 340.5h.7v.7h-.7zM246.5 333.2h.7v.7h-.7zM260.1 328.2h.7v.7h-.7zM254.7 340.1h.7v.7h-.7zM272.2 350.5h.7v.7h-.7zM264.3 367.8h.7v.7h-.7zM242.9 369.8h.7v.7h-.7zM271.3 350.7h.7v.7h-.7zM260.5 327.5h.7v.7h-.7zM248.5 335.9h.7v.7h-.7zM261.7 340.5h.7v.7h-.7zM263.1 349.2h.7v.7h-.7zM254.8 340.8h.7v.7h-.7zM247.6 326.6h.7v.7h-.7zM256.4 342.1h.7v.7h-.7zM267.7 337.5h.7v.7h-.7zM256.5 343.1h.7v.7h-.7zM251.4 339h.7v.7h-.7zM261.4 344.9h.7v.7h-.7zM272.3 358.5h.7v.7h-.7zM266 338.3h.7v.7h-.7zM271.9 357.2h.7v.7h-.7zM272.9 354.9h.7v.7h-.7zM271.5 357.5h.7v.7h-.7zM250.4 358.9h.7v.7h-.7zM271.5 351.3h.7v.7h-.7zM263.2 349.8h.7v.7h-.7zM244 364.7h.7v.7h-.7zM262.2 339.5h.7v.7h-.7zM262.5 346.2h.7v.7h-.7zM267.8 333.1h.7v.7h-.7zM272 353.3h.7v.7h-.7zM254.2 339.1h.7v.7h-.7zM265 329.9h.7v.7h-.7zM267.3 348.9h.7v.7h-.7zM258.9 326.9h.7v.7h-.7zM262.2 348.5h.7v.7h-.7zM271.7 361.2h.7v.7h-.7zM263.1 345.7h.7v.7h-.7zM262.7 329.9h.7v.7h-.7zM263 342.3h.7v.7h-.7zM251.2 326.4h.7v.7h-.7zM268.9 363.4h.7v.7h-.7zM255.4 346h.7v.7h-.7zM269.1 333.5h.7v.7h-.7zM263.3 337.4h.7v.7h-.7zM242.9 369.2h.7v.7h-.7zM249.4 359.5h.7v.7h-.7zM251.2 338.8h.7v.7h-.7zM266.6 366h.7v.7h-.7zM249.7 337.1h.7v.7h-.7zM255.8 343.4h.7v.7h-.7zM245.4 365h.7v.7h-.7zM245.9 331.5h.7v.7h-.7zM272.4 353.1h.7v.7h-.7zM270.6 359.3h.7v.7h-.7zM248.2 333.2h.7v.7h-.7zM271.7 352.3h.7v.7h-.7zM257.4 352.4h.7v.7h-.7zM242.4 366.9h.7v.7h-.7zM246.4 333.8h.7v.7h-.7zM249.8 337h.7v.7h-.7zM262.1 329.1h.7v.7h-.7zM245.3 364.3h.7v.7h-.7zM261.2 339.6h.7v.7h-.7zM261 340.9h.7v.7h-.7zM265.9 365.5h.7v.7h-.7zM262.2 348.6h.7v.7h-.7zM264.6 330.2h.7v.7h-.7zM271 351.3h.7v.7h-.7zM255.8 341.4h.7v.7h-.7zM250.4 325.6h.7v.7h-.7zM261.6 370.3h.7v.7h-.7zM267.1 332.3h.7v.7h-.7zM262.8 368.4h.7v.7h-.7zM247.8 361.3h.7v.7h-.7zM268.1 349.9h.7v.7h-.7zM266.1 336.9h.7v.7h-.7zM261.3 340h.7v.7h-.7zM252.6 339.2h.7v.7h-.7zM268 363.2h.7v.7h-.7zM267.6 332.2h.7v.7h-.7zM255.8 324.8h.7v.7h-.7zM255.2 326.7h.7v.7h-.7zM263.4 337.7h.7v.7h-.7zM247.1 327h.7v.7h-.7zM262.5 349.5h.7v.7h-.7zM263.5 330.3h.7v.7h-.7zM267 331.1h.7v.7h-.7zM242.4 371.9h.7v.7h-.7zM246.9 331.9h.7v.7h-.7zM256 345.5h.7v.7h-.7zM243.6 366.8h.7v.7h-.7zM266.7 336.3h.7v.7h-.7zM250.8 327.9h.7v.7h-.7zM261.9 328.4h.7v.7h-.7zM249.3 329.4h.7v.7h-.7zM249 337.6h.7v.7h-.7zM244.8 329.1h.7v.7h-.7zM249.3 338h.7v.7h-.7zM264.3 327.6h.7v.7h-.7zM252.9 325.4h.7v.7h-.7zM267.9 332.2h.7v.7h-.7zM262.9 337.8h.7v.7h-.7zM271.8 355.5h.7v.7h-.7zM270.7 359.3h.7v.7h-.7zM257.1 346.1h.7v.7h-.7zM272.4 354.4h.7v.7h-.7zM243.3 368h.7v.7h-.7zM265.4 330.6h.7v.7h-.7zM251.3 327.8h.7v.7h-.7zM267.9 363.5h.7v.7h-.7zM267.9 331.9h.7v.7h-.7zM242.3 367.7h.7v.7h-.7zM242.7 371.7h.7v.7h-.7zM273.1 352.9h.7v.7h-.7zM271.4 351.5h.7v.7h-.7zM268.9 332.3h.7v.7h-.7zM254 341.3h.7v.7h-.7zM265.3 330.7h.7v.7h-.7zM265 349.5h.7v.7h-.7zM255.3 325.5h.7v.7h-.7zM248.1 332.5h.7v.7h-.7zM266.5 331.8h.7v.7h-.7zM247.5 328.9h.7v.7h-.7zM255.5 341.9h.7v.7h-.7zM268.3 350h.7v.7h-.7zM255.1 348.9h.7v.7h-.7zM253.3 339.2h.7v.7h-.7zM254.4 341.3h.7v.7h-.7zM259.4 325.9h.7v.7h-.7zM270.4 350.2h.7v.7h-.7zM261.8 343.9h.7v.7h-.7zM257.9 372.5h.7v.7h-.7zM252.6 326.6h.7v.7h-.7zM254 338.9h.7v.7h-.7zM252.1 339.5h.7v.7h-.7zM259.1 327.1h.7v.7h-.7zM242.6 371.4h.7v.7h-.7zM263.8 345.5h.7v.7h-.7zM269 363.5h.7v.7h-.7zM269.5 348.2h.7v.7h-.7zM268.8 349.2h.7v.7h-.7zM241.4 371.9h.7v.7h-.7zM270.9 359.9h.7v.7h-.7zM267.1 364.2h.7v.7h-.7zM247.7 361h.7v.7h-.7zM246.4 328.7h.7v.7h-.7zM266.1 331.4h.7v.7h-.7zM256.9 348.4h.7v.7h-.7zM248.5 328.5h.7v.7h-.7zM243 369.1h.7v.7h-.7zM272.2 353.7h.7v.7h-.7zM273.3 351.9h.7v.7h-.7zM268 347.9h.7v.7h-.7zM261.4 343.5h.7v.7h-.7zM262.3 337.8h.7v.7h-.7zM271.7 356.7h.7v.7h-.7zM251.9 357.1h.7v.7h-.7zM264.3 338.2h.7v.7h-.7zM265.8 366.5h.7v.7h-.7zM263.3 347.7h.7v.7h-.7zM261.7 341.3h.7v.7h-.7zM266.3 330.4h.7v.7h-.7zM266.9 349.7h.7v.7h-.7zM264.4 337.1h.7v.7h-.7zM247.1 360.6h.7v.7h-.7zM246.7 333.9h.7v.7h-.7zM253.8 339.4h.7v.7h-.7zM272.1 355.2h.7v.7h-.7zM253 355.2h.7v.7h-.7zM258.4 326.7h.7v.7h-.7zM270.1 360.2h.7v.7h-.7zM258 324.5h.7v.7h-.7zM247.7 362.2h.7v.7h-.7zM257.4 372.5h.7v.7h-.7zM253.6 326h.7v.7h-.7zM268.4 364.1h.7v.7h-.7zM268.3 362.6h.7v.7h-.7zM262.9 348.4h.7v.7h-.7zM257.7 326.2h.7v.7h-.7zM255.4 347.9h.7v.7h-.7zM257.6 324.7h.7v.7h-.7zM256.7 349.5h.7v.7h-.7zM252.3 357.3h.7v.7h-.7zM246.2 331.2h.7v.7h-.7zM263.1 369.6h.7v.7h-.7zM243.7 367.2h.7v.7h-.7zM270.6 350.4h.7v.7h-.7zM257.3 372.8h.7v.7h-.7zM263.2 339h.7v.7h-.7zM248.2 328.4h.7v.7h-.7zM243.2 368.8h.7v.7h-.7zM262.8 328.1h.7v.7h-.7zM256.8 349h.7v.7h-.7zM270.7 360.5h.7v.7h-.7zM250 359.3h.7v.7h-.7zM244.8 332.7h.7v.7h-.7zM256.5 349.6h.7v.7h-.7zM263.3 368.3h.7v.7h-.7zM256.3 346.2h.7v.7h-.7zM261.4 325.4h.7v.7h-.7zM272.1 351.2h.7v.7h-.7zM254.2 325.6h.7v.7h-.7zM249.6 338h.7v.7h-.7zM253.3 326.5h.7v.7h-.7zM255.6 344h.7v.7h-.7zM262.1 347h.7v.7h-.7zM267.5 349.6h.7v.7h-.7zM243.1 368.5h.7v.7h-.7zM262.8 334.6h.7v.7h-.7zM268 338.2h.7v.7h-.7zM272.5 349.1h.7v.7h-.7zM270.8 335.8h.7v.7h-.7zM264.6 343.9h.7v.7h-.7zM272 331.6h.7v.7h-.7zM260.4 350.5h.7v.7h-.7zM272.3 349.6h.7v.7h-.7zM273.6 360.8h.7v.7h-.7zM266.6 334.3h.7v.7h-.7zM269.5 334.7h.7v.7h-.7zM272.5 337h.7v.7h-.7zM261.3 346.6h.7v.7h-.7zM288.8 343.3h.7v.7h-.7zM262.3 331.7h.7v.7h-.7zM276.1 339.1h.7v.7h-.7zM259.7 337.9h.7v.7h-.7zM279.5 327.9h.7v.7h-.7zM272.3 340.6h.7v.7h-.7zM257.1 339.4h.7v.7h-.7zM275.3 343.5h.7v.7h-.7zM268.1 347.7h.7v.7h-.7zM255.7 344.6h.7v.7h-.7zM274.1 343.2h.7v.7h-.7zM265.4 342.2h.7v.7h-.7zM260.3 346.8h.7v.7h-.7zM271.2 331.8h.7v.7h-.7zM272.9 343.8h.7v.7h-.7zM255.1 344.9h.7v.7h-.7zM262.4 323.8h.7v.7h-.7zM260.9 345.3h.7v.7h-.7zM264.5 353.2h.7v.7h-.7zM279.6 341.2h.7v.7h-.7zM278.6 338.8h.7v.7h-.7zM266.6 345.4h.7v.7h-.7zM263.9 338.3h.7v.7h-.7zM274.8 325.2h.7v.7h-.7zM272 321h.7v.7h-.7zM265 329.9h.7v.7h-.7zM278.6 339.7h.7v.7h-.7zM260 327.5h.7v.7h-.7zM258.8 331.2h.7v.7h-.7zM271.3 329.8h.7v.7h-.7zM258.1 336.4h.7v.7h-.7zM263 334h.7v.7h-.7zM257.7 330.5h.7v.7h-.7zM252.8 333.7h.7v.7h-.7zM266.9 330.7h.7v.7h-.7zM269.7 326.1h.7v.7h-.7zM266 337.9h.7v.7h-.7zM251.4 331.4h.7v.7h-.7zM255.2 332.8h.7v.7h-.7zM262.8 334.6h.7v.7h-.7zM256.6 333h.7v.7h-.7zM266.1 326.5h.7v.7h-.7zM270.2 333.7h.7v.7h-.7zM263.6 341.9h.7v.7h-.7zM267 338.9h.7v.7h-.7zM262.8 330.9h.7v.7h-.7zM263.5 331.4h.7v.7h-.7z" fill="#bcbcbc"/>
<polygon points="243.4,374.2 243.1,373.4 243,373 242.9,372.2 242.9,371.4 243,370.7 243.1,370.3 243.3,369.5 243.5,369.1 243.8,368.3 244,367.9 244.2,367.5 244.6,366.8 245,366.3 245.3,365.9 245.6,365.5 245.9,365.1 246.2,364.7 246.6,364.3 247,363.8 247.4,363.4 247.8,362.9 248.2,362.5 248.6,362.1 249,361.7 249.4,361.2 249.8,360.8 250.1,360.4 250.5,360 250.9,359.6 251.3,359.2 251.7,358.8 252.1,358.5 252.5,358.1 252.9,357.7 253.3,357.4 253.7,357.1 254.1,356.7 254.5,356.4 254.9,356.1 255.4,355.7 255.9,355.3 256.4,354.9 256.8,354.6 257.2,354.2 257.6,353.7 257.8,353.3 258,352.7 258.2,352.2 258.3,351.4 258.3,350.6 258.1,349.8 257.9,349.4 257.7,348.6 257.6,347.8 257.6,347 257.6,346.6 257.5,345.9 257.2,345.1 257.1,344.7 256.9,343.9 256.8,343.2 256.8,342.7 256.7,341.9 256.4,341.3 256.1,340.7 255.7,340.3 255.3,339.9 254.9,339.6 254.5,339.4 253.9,339.2 253.3,338.9 252.9,338.8 252.1,338.5 251.7,338.3 251.3,338 250.7,337.6 250.2,337.2 249.8,336.8 249.5,336.4 249.2,336 249,335.5 248.7,334.8 248.5,334.4 248.4,333.6 248.4,332.9 248.5,332.1 248.6,331.6 248.8,330.9 249.1,330.5 249.4,330 249.8,329.5 250.1,329.1 250.5,328.7 250.9,328.4 251.4,328.1 252.1,327.8 252.5,327.6 253.2,327.3 253.7,327.2 254.5,327.1 255.3,327 256.1,327 256.8,327 257.6,327.2 258.2,327.3 258.8,327.5 259.3,327.7 260,328.1 260.4,328.3 260.8,328.6 261.2,328.9 261.8,329.3 262.4,329.7 262.7,329.9 263.1,330.1 263.9,330.5 264.3,330.7 264.9,330.9 265.5,331.2 265.9,331.4 266.4,331.7 266.9,332.1 267.3,332.5 267.5,332.9 267.9,333.6 267.9,334 267.9,334.4 267.6,335.2 267.3,335.6 267,336 266.5,336.4 265.9,336.7 265.5,336.9 264.7,337.2 264.3,337.3 263.5,337.5 263.1,337.6 262.5,338 262.1,338.4 261.9,338.8 261.6,339.6 261.5,339.9 261.4,340.7 261.4,341.5 261.6,342.2 261.7,342.7 261.8,343.5 261.8,344.3 261.8,345.1 261.9,345.9 262,346.2 262.2,347 262.4,347.6 262.5,348.2 262.6,349 262.7,349.6 263.1,350 263.8,350.2 264.3,350.2 264.8,350.2 265.5,350.1 266.3,350 267.1,350 267.9,350.1 268.3,350.2 269,350.4 269.5,350.6 270.2,351 270.6,351.3 271,351.6 271.4,352.1 271.7,352.5 271.9,352.9 272.2,353.7 272.2,354.1 272.3,354.9 272.3,355.7 272.2,356.4 272.1,356.9 271.9,357.7 271.7,358.1 271.4,358.8 271.2,359.2 271,359.6 270.6,360.3 270.3,360.8 270.1,361.2 269.8,361.6 269.4,362.1 269,362.6 268.7,363.1 268.3,363.5 267.9,364 267.6,364.4 267.2,364.8 266.9,365.1 266.5,365.5 266.1,365.9 265.8,366.3 265.4,366.7 265,367.1 264.6,367.5 264.1,367.9 263.7,368.3 263.2,368.7 262.7,369.1 262.4,369.4 262,369.7 261.6,370 261.2,370.3 260.7,370.7 260.2,371.1 259.6,371.4 259.2,371.7 258.8,372 258.4,372.2 257.9,372.6 257.3,373 256.8,373.3 256.4,373.6 256.1,373.8 255.5,374.2" fill="none" stroke="#505050" stroke-width="0.5"/>
<polygon points="254.1,328.9 254.9,328.8 255.7,328.7 256.4,328.8 257.2,328.9 257.6,329 258.4,329.3 258.8,329.5 259.2,329.8 259.7,330.1 260.3,330.5 260.8,330.9 261.2,331.2 261.6,331.4 262,331.7 262.7,332 263.1,332.2 263.8,332.5 264.3,332.7 264.7,333 265.1,333.4 265.3,334 265.1,334.7 264.7,335.1 264.3,335.3 263.6,335.6 263.1,335.8 262.4,335.9 262,336 261.2,336.4 260.8,336.7 260.4,337.1 260.2,337.6 260,338.4 259.9,338.8 259.6,339.6 259.3,339.9 258.8,340.3 258,340 257.6,339.7 257.2,339.3 256.8,338.8 256.5,338.4 256.1,338.1 255.7,337.9 254.9,337.6 254.5,337.5 253.7,337.2 253.3,337 252.9,336.8 252.2,336.4 251.8,336 251.4,335.6 251.1,335.2 250.9,334.8 250.6,334 250.5,333.6 250.4,332.9 250.5,332.3 250.7,331.7 250.9,331.2 251.3,330.7 251.7,330.2 252.1,329.9 252.5,329.6 253,329.3 253.7,329 254.1,328.9" fill="none" stroke="#333333" stroke-width="0.5"/>
<polygon points="245.2,374.2 244.9,373.8 244.6,373.3 244.4,372.6 244.3,371.8 244.3,371.1 244.4,370.3 244.6,369.5 244.7,369.1 245,368.3 245.2,367.9 245.5,367.5 245.8,366.9 246.2,366.3 246.5,365.9 246.8,365.5 247.1,365.1 247.4,364.8 247.8,364.3 248.2,363.9 248.6,363.4 249,363 249.4,362.5 249.8,362.1 250.1,361.6 250.5,361.2 250.9,360.8 251.3,360.4 251.7,360 252.1,359.6 252.5,359.2 252.9,358.8 253.3,358.5 253.7,358.1 254.1,357.8 254.5,357.5 254.9,357.2 255.3,356.9 255.8,356.5 256.3,356.1 256.8,355.7 257.2,355.4 257.6,355.1 258,354.7 258.4,354.4 258.8,353.9 259.2,353.4 259.5,352.9 259.8,352.5 260.1,352.2 260.6,351.8 261.2,351.6 262,351.6 262.7,351.6 263.5,351.6 264.3,351.5 265.1,351.4 265.5,351.4 266.3,351.3 267,351.4 267.5,351.4 268.3,351.6 268.7,351.8 269.3,352.2 269.7,352.5 270.1,352.9 270.4,353.3 270.6,353.9 270.8,354.5 271,355.3 270.9,356.1 270.8,356.9 270.6,357.7 270.5,358.1 270.2,358.8 270,359.2 269.8,359.6 269.4,360.3 269.1,360.8 268.9,361.2 268.6,361.6 268.3,362.1 267.9,362.6 267.5,363.1 267.1,363.6 266.8,364 266.4,364.4 266.1,364.8 265.7,365.1 265.4,365.5 265,365.9 264.6,366.3 264.2,366.7 263.8,367.1 263.3,367.5 262.9,367.9 262.4,368.3 262,368.7 261.6,369 261.2,369.3 260.8,369.6 260.4,369.9 259.8,370.3 259.2,370.7 258.8,371 258.4,371.2 258,371.5 257.5,371.8 256.8,372.2 256.4,372.5 256.1,372.8 255.6,373 255,373.4 254.5,373.7 254.1,374 253.6,374.2" fill="none" stroke="#333333" stroke-width="0.5"/>
<polygon points="255.6,330.5 255.7,330.5 256.4,330.6 257.2,330.8 257.6,331 258.1,331.3 258.5,331.7 258.9,332.1 259.2,332.5 259.5,333.3 259.4,334 259.1,334.4 258.7,334.8 258.2,335.2 257.6,335.5 257.2,335.7 256.4,335.8 255.7,335.8 254.9,335.6 254.5,335.5 253.9,335.2 253.4,334.8 253,334.4 252.8,334 252.6,333.3 252.7,332.5 252.9,332 253.3,331.5 253.7,331.1 254.1,330.9 254.9,330.6 255.6,330.5" fill="none" stroke="#282828" stroke-width="0.5"/>
<polygon points="247.2,374.2 246.6,373.9 246.2,373.5 245.9,373 245.7,372.6 245.4,371.9 245.4,371.4 245.4,370.7 245.4,370.2 245.6,369.5 245.8,368.8 246,368.3 246.2,367.9 246.6,367.2 246.9,366.7 247.2,366.3 247.5,365.9 247.8,365.5 248.2,365.1 248.6,364.6 249,364.1 249.4,363.6 249.7,363.2 250.1,362.8 250.4,362.4 250.8,362 251.1,361.6 251.5,361.2 251.8,360.8 252.2,360.4 252.6,360 253,359.6 253.5,359.2 253.9,358.8 254.3,358.5 254.8,358.1 255.3,357.7 255.7,357.4 256.1,357.1 256.4,356.8 256.9,356.5 257.5,356.1 258,355.7 258.4,355.4 258.8,355.1 259.2,354.8 259.6,354.5 260,354.1 260.5,353.7 261.1,353.3 261.6,353.1 262.1,352.9 262.7,352.8 263.5,352.6 264,352.5 264.7,352.4 265.5,352.4 266.3,352.4 267.1,352.5 267.5,352.6 268.2,352.9 268.7,353.3 269,353.7 269.4,354.1 269.6,354.5 269.8,355.3 269.8,355.7 269.8,356.5 269.8,356.9 269.6,357.7 269.4,358.3 269.2,358.8 269,359.2 268.7,360 268.4,360.4 268.2,360.8 267.9,361.3 267.5,361.9 267.1,362.4 266.8,362.8 266.5,363.2 266.2,363.6 265.8,364 265.5,364.4 265.1,364.8 264.7,365.2 264.3,365.6 263.9,366 263.5,366.4 263.1,366.8 262.7,367.1 262.3,367.5 261.9,367.9 261.4,368.3 260.9,368.7 260.4,369 260,369.3 259.6,369.6 259.2,369.9 258.6,370.3 258,370.6 257.6,370.9 257.2,371.1 256.7,371.4 256.1,371.8 255.7,372.1 255.3,372.4 254.8,372.6 254.1,373 253.7,373.3 253.3,373.5 252.6,373.8 252.1,374 251.6,374.2" fill="none" stroke="#282828" stroke-width="0.5"/>
<polygon points="262.9,353.7 263.5,353.6 264.3,353.4 265.1,353.3 265.9,353.4 266.7,353.5 267.2,353.7 267.8,354.1 268.2,354.5 268.5,354.9 268.7,355.4 268.8,356.1 268.8,356.9 268.7,357.7 268.6,358.1 268.3,358.8 268.2,359.2 267.9,359.8 267.5,360.4 267.3,360.8 267.1,361.2 266.7,361.7 266.3,362.3 265.9,362.8 265.6,363.2 265.3,363.6 265,364 264.6,364.4 264.3,364.8 263.9,365.1 263.5,365.5 263.1,365.9 262.7,366.3 262.3,366.7 261.8,367.1 261.4,367.5 260.9,367.9 260.4,368.3 260,368.6 259.6,368.8 259.2,369.1 258.6,369.5 258,369.9 257.6,370.1 257.2,370.4 256.7,370.7 256.1,371.1 255.7,371.3 255.3,371.6 254.8,371.8 254.1,372.2 253.7,372.4 253.3,372.6 252.5,373 252.1,373.2 251.4,373.4 250.9,373.5 250.1,373.7 249.4,373.7 248.6,373.6 248.1,373.4 247.4,373 247,372.6 246.7,372.2 246.6,371.8 246.4,371.1 246.4,370.3 246.5,369.5 246.6,369.1 246.9,368.3 247.1,367.9 247.4,367.4 247.8,366.8 248.1,366.3 248.4,365.9 248.7,365.5 249,365.1 249.4,364.7 249.8,364.2 250.1,363.7 250.5,363.3 250.9,362.8 251.3,362.4 251.6,362 252,361.6 252.4,361.2 252.7,360.8 253.1,360.4 253.5,360 253.9,359.6 254.4,359.2 254.9,358.8 255.3,358.5 255.7,358.2 256.1,357.9 256.4,357.6 256.9,357.3 257.5,356.9 258,356.5 258.4,356.2 258.8,356 259.2,355.7 259.8,355.3 260.4,354.9 260.8,354.7 261.2,354.4 261.8,354.1 262.4,353.9 262.9,353.7" fill="none" stroke="#1f1f1f" stroke-width="0.5"/>
<polygon points="263.1,354.5 263.5,354.4 264.3,354.3 265.1,354.2 265.9,354.3 266.4,354.5 267,354.9 267.4,355.3 267.6,355.7 267.9,356.5 267.9,356.9 267.9,357.3 267.7,358.1 267.5,358.8 267.3,359.2 267.1,359.8 266.7,360.4 266.5,360.8 266.3,361.2 265.9,361.7 265.5,362.3 265.1,362.8 264.8,363.2 264.5,363.6 264.2,364 263.8,364.4 263.5,364.8 263.1,365.1 262.7,365.5 262.3,365.9 261.9,366.3 261.4,366.7 260.9,367.1 260.4,367.5 260,367.8 259.6,368.1 259.2,368.4 258.8,368.7 258.1,369.1 257.6,369.4 257.2,369.6 256.8,369.9 256.2,370.3 255.7,370.6 255.3,370.8 254.8,371.1 254.1,371.4 253.7,371.7 253.3,371.9 252.5,372.2 252.1,372.4 251.4,372.6 250.9,372.7 250.1,372.8 249.4,372.8 248.9,372.6 248.2,372.3 247.8,371.8 247.5,371.4 247.4,371 247.3,370.3 247.4,369.5 247.5,369.1 247.8,368.3 248,367.9 248.2,367.5 248.6,366.9 248.9,366.3 249.2,365.9 249.5,365.5 249.8,365.1 250.1,364.7 250.5,364.2 250.9,363.8 251.3,363.3 251.7,362.8 252.1,362.4 252.4,362 252.8,361.6 253.2,361.2 253.5,360.8 254,360.4 254.4,360 254.8,359.6 255.3,359.2 255.7,358.9 256.1,358.6 256.4,358.3 256.8,358 257.4,357.7 258,357.3 258.4,357 258.8,356.7 259.2,356.5 259.8,356.1 260.4,355.8 260.8,355.5 261.2,355.3 262,354.9 262.4,354.8 263.1,354.5" fill="none" stroke="#171717" stroke-width="0.5"/>
<polygon points="263.2,355.3 263.9,355.2 264.7,355.1 265.5,355.3 265.9,355.5 266.3,355.7 266.7,356.3 266.9,356.9 266.9,357.7 266.8,358.5 266.7,358.8 266.4,359.6 266.2,360 265.9,360.5 265.5,361.2 265.2,361.6 264.9,362 264.7,362.4 264.3,362.8 263.9,363.3 263.5,363.8 263.1,364.2 262.7,364.7 262.4,365.1 262,365.5 261.6,365.8 261.2,366.2 260.8,366.5 260.4,366.8 260,367.1 259.5,367.5 258.9,367.9 258.4,368.2 258,368.5 257.6,368.7 257,369.1 256.4,369.4 256.1,369.6 255.6,369.9 255,370.3 254.5,370.5 254.1,370.7 253.5,371.1 252.9,371.3 252.5,371.5 251.7,371.7 251.3,371.8 250.5,371.9 249.8,371.8 249.4,371.7 248.9,371.4 248.6,371 248.3,370.3 248.3,369.5 248.5,368.7 248.6,368.3 249,367.6 249.2,367.1 249.5,366.7 249.8,366.3 250.1,365.8 250.5,365.3 250.9,364.8 251.2,364.4 251.6,364 251.9,363.6 252.2,363.2 252.5,362.8 252.9,362.4 253.3,361.9 253.7,361.5 254.1,361.1 254.5,360.7 254.9,360.3 255.3,360 255.7,359.6 256.2,359.2 256.7,358.8 257.2,358.5 257.6,358.2 258,357.9 258.4,357.7 259.1,357.3 259.6,356.9 260,356.7 260.4,356.5 261.2,356.1 261.6,355.9 262,355.7 262.7,355.4 263.2,355.3" fill="rgba(0,0,0,0.42)" stroke="#101010" stroke-width="0.5"/>
<polygon points="262.1,356.5 262.7,356.3 263.5,356.1 264.3,356.1 265.1,356.4 265.5,356.7 265.8,357.3 265.9,357.7 265.9,358.1 265.8,358.8 265.5,359.6 265.3,360 265.1,360.4 264.7,361.1 264.4,361.6 264.1,362 263.8,362.4 263.5,362.8 263.1,363.3 262.7,363.8 262.4,364.2 262,364.6 261.6,365 261.2,365.4 260.8,365.7 260.4,366.1 260,366.4 259.5,366.7 259,367.1 258.4,367.5 258,367.7 257.6,368 257.1,368.3 256.4,368.7 256.1,368.9 255.7,369.1 255,369.5 254.5,369.8 254.1,370 253.5,370.3 252.9,370.5 252.5,370.7 251.7,370.9 250.9,371 250.1,370.8 249.8,370.5 249.4,369.9 249.3,369.5 249.4,368.9 249.5,368.3 249.8,367.8 250.1,367.1 250.4,366.7 250.6,366.3 250.9,365.9 251.3,365.3 251.7,364.8 252.1,364.4 252.4,364 252.7,363.6 253,363.2 253.4,362.8 253.7,362.4 254.1,362 254.5,361.6 254.9,361.2 255.3,360.8 255.7,360.4 256.2,360 256.7,359.6 257.2,359.2 257.6,358.9 258,358.7 258.4,358.4 259,358.1 259.6,357.7 260,357.5 260.4,357.3 261.2,356.9 261.6,356.7 262.1,356.5" fill="rgba(0,0,0,0.42)" stroke="#0a0a0a" stroke-width="0.5"/>
<polygon points="262.4,357.3 263.1,357.2 263.9,357.2 264.3,357.5 264.7,358.1 264.8,358.5 264.7,359 264.6,359.6 264.3,360.2 264,360.8 263.8,361.2 263.5,361.6 263.1,362.2 262.7,362.7 262.4,363.2 262,363.6 261.7,364 261.3,364.4 260.9,364.8 260.5,365.1 260,365.5 259.6,365.9 259.2,366.1 258.8,366.4 258.4,366.7 257.8,367.1 257.2,367.4 256.8,367.6 256.4,367.9 255.7,368.3 255.3,368.5 254.9,368.7 254.2,369.1 253.7,369.3 253.3,369.5 252.5,369.7 251.7,369.8 250.9,369.6 250.6,369.1 250.5,368.7 250.6,368.3 250.9,367.5 251.1,367.1 251.3,366.7 251.7,366.1 252.1,365.5 252.4,365.1 252.7,364.8 253,364.4 253.3,363.9 253.7,363.4 254.1,363 254.5,362.5 254.9,362.1 255.3,361.7 255.7,361.3 256.1,361 256.4,360.6 256.8,360.3 257.2,360 257.7,359.6 258.3,359.2 258.8,358.9 259.2,358.7 259.7,358.5 260.4,358.1 260.8,357.9 261.3,357.7 262,357.4 262.4,357.3" fill="rgba(0,0,0,0.42)" stroke="#050505" stroke-width="0.5"/>
<polygon points="262,358.5 262.7,358.5 263.1,358.7 263.4,359.2 263.3,360 263.1,360.4 262.8,361.2 262.5,361.6 262.3,362 262,362.4 261.6,362.9 261.2,363.4 260.8,363.8 260.4,364.2 260,364.5 259.6,364.9 259.2,365.2 258.8,365.5 258.2,365.9 257.6,366.3 257.2,366.5 256.8,366.7 256.1,367.1 255.7,367.3 255.3,367.5 254.5,367.9 254.1,368.1 253.3,368.3 252.9,368.3 252.5,368.3 252.2,367.5 252.5,366.7 252.7,366.3 252.9,365.9 253.3,365.4 253.7,364.8 254,364.4 254.3,364 254.6,363.6 254.9,363.2 255.3,362.8 255.7,362.4 256.1,362 256.5,361.6 256.9,361.2 257.4,360.8 257.9,360.4 258.4,360.1 258.8,359.8 259.2,359.6 259.9,359.2 260.4,359 260.8,358.8 261.6,358.6 262,358.5" fill="rgba(0,0,0,0.42)" stroke="#000000" stroke-width="0.5"/>
<rect x="240.7" y="311.6" width="62.6" height="62.6" fill="none" stroke="#6e6e6e" stroke-width="0.9"/>
<g font-size="5.3" fill="#5a6699">
<text x="242.9" y="317.9">14.7</text>
<text x="301.7" y="317.9" text-anchor="end" fill="#5a5f70">2.8</text>
<text x="242.9" y="372.2">78.6</text>
<text x="301.7" y="372.2" text-anchor="end" fill="#5a5f70">3.9</text>
</g>
<g font-size="6.3" fill="#2a2a2a" text-anchor="end">
<text x="237.3" y="320.4">10<tspan font-size="4.5" dy="-2.2">5</tspan></text>
<text x="237.3" y="334.8">10<tspan font-size="4.5" dy="-2.2">4</tspan></text>
<text x="237.3" y="348.9">10<tspan font-size="4.5" dy="-2.2">3</tspan></text>
<text x="237.3" y="363.6">10<tspan font-size="4.5" dy="-2.2">2</tspan></text>
<text x="235.5" y="370.5">0</text>
</g>
<line x1="239.2" y1="318.4" x2="240.7" y2="318.4" stroke="#444" stroke-width="0.8"/>
<line x1="239.2" y1="332.8" x2="240.7" y2="332.8" stroke="#444" stroke-width="0.8"/>
<line x1="239.2" y1="346.9" x2="240.7" y2="346.9" stroke="#444" stroke-width="0.8"/>
<line x1="239.2" y1="361.6" x2="240.7" y2="361.6" stroke="#444" stroke-width="0.8"/>
<line x1="239.2" y1="368.4" x2="240.7" y2="368.4" stroke="#444" stroke-width="0.8"/>
<g font-size="6.3" fill="#2a2a2a">
<text x="245.9" y="385.5">0</text>
<text x="249.6" y="385.5">10<tspan font-size="4.5" dy="-2.2">2</tspan></text>
<text x="265.4" y="385.5">10<tspan font-size="4.5" dy="-2.2">3</tspan></text>
<text x="280" y="385.5">10<tspan font-size="4.5" dy="-2.2">4</tspan></text>
<text x="294" y="385.5">10<tspan font-size="4.5" dy="-2.2">5</tspan></text>
</g>
<line x1="246.9" y1="374.2" x2="246.9" y2="375.7" stroke="#444" stroke-width="0.8"/>
<line x1="253.2" y1="374.2" x2="253.2" y2="375.7" stroke="#444" stroke-width="0.8"/>
<line x1="269.7" y1="374.2" x2="269.7" y2="375.7" stroke="#444" stroke-width="0.8"/>
<line x1="284.3" y1="374.2" x2="284.3" y2="375.7" stroke="#444" stroke-width="0.8"/>
<line x1="298.7" y1="374.2" x2="298.7" y2="375.7" stroke="#444" stroke-width="0.8"/>
</g>
</g>
<!--B-END-->
<g id="border" fill="none">
<rect x="1.5" y="1.5" width="516" height="407" stroke="#9a9a9a" stroke-width="1"/>
<rect x="0.5" y="0.5" width="518" height="409" stroke="#000" stroke-width="1"/>
<line x1="519.5" y1="0" x2="519.5" y2="411" stroke="#000" stroke-width="1"/>
<line x1="0" y1="410.5" x2="520" y2="410.5" stroke="#000" stroke-width="1"/>
</g>
</svg>
</body></html>
